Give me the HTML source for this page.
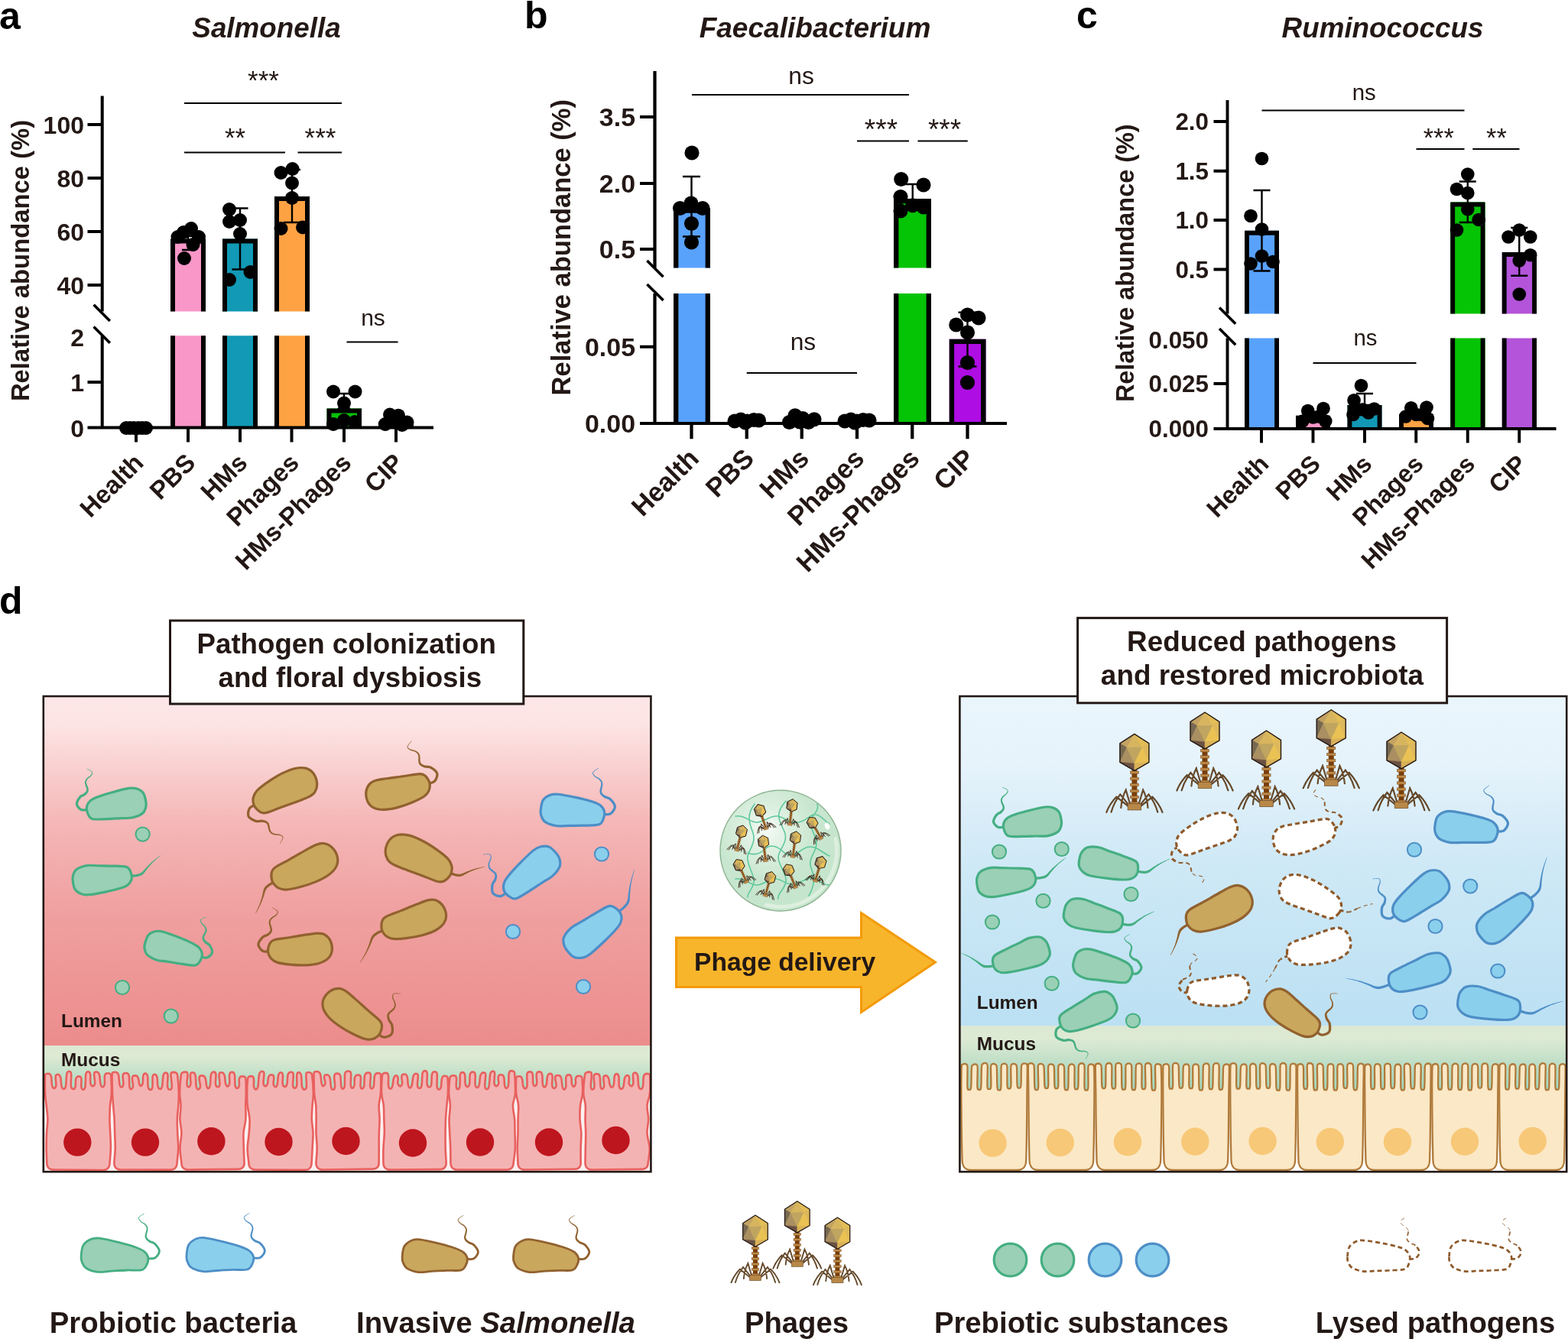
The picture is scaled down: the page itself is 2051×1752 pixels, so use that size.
<!DOCTYPE html>
<html lang="en"><head><meta charset="utf-8"><title>Figure</title>
<style>
html,body{margin:0;padding:0;background:#fff}
svg{display:block}
text{font-family:"Liberation Sans", Arial, sans-serif;fill:#231815}
</style></head>
<body>
<svg width="2051" height="1752" viewBox="0 0 2051 1752">
<rect width="2051" height="1752" fill="#fff"/>
<rect x="223" y="312.5" width="46" height="95" fill="#F897C8"/>
<path d="M226 407.5V315.5H266V407.5" fill="none" stroke="#000" stroke-width="6"/>
<rect x="223" y="439.25" width="46" height="120.25" fill="#F897C8"/>
<path d="M226 439.25V559.5M266 439.25V559.5" fill="none" stroke="#000" stroke-width="6"/>
<rect x="291" y="312.5" width="46" height="95" fill="#1199B5"/>
<path d="M294 407.5V315.5H334V407.5" fill="none" stroke="#000" stroke-width="6"/>
<rect x="291" y="439.25" width="46" height="120.25" fill="#1199B5"/>
<path d="M294 439.25V559.5M334 439.25V559.5" fill="none" stroke="#000" stroke-width="6"/>
<rect x="359" y="257" width="46" height="150.5" fill="#FEA243"/>
<path d="M362 407.5V260H402V407.5" fill="none" stroke="#000" stroke-width="6"/>
<rect x="359" y="439.25" width="46" height="120.25" fill="#FEA243"/>
<path d="M362 439.25V559.5M402 439.25V559.5" fill="none" stroke="#000" stroke-width="6"/>
<rect x="427.5" y="534.5" width="45.5" height="25" fill="#05C305"/>
<path d="M430.5 559.5V537.5H470V559.5" fill="none" stroke="#000" stroke-width="6"/>
<rect x="495.5" y="552" width="45.5" height="7.5" fill="#AE0DE4"/>
<path d="M498.5 559.5V555H538V559.5" fill="none" stroke="#000" stroke-width="6"/>
<path d="M133.7 125.5V407.5M133.7 439.25V561.5M114.5 559.5H567M114.5 163H133.7M114.5 233H133.7M114.5 303H133.7M114.5 373H133.7M114.5 500H133.7M178 559.5V578.5M246 559.5V578.5M314 559.5V578.5M381.5 559.5V578.5M450 559.5V578.5M518 559.5V578.5" fill="none" stroke="#000" stroke-width="4"/>
<path d="M122.6 398.8L143.8 420M122.6 427.5L143.8 448.7" fill="none" stroke="#000" stroke-width="3.6"/>
<path d="M246 309V327M238 309H254M238 327H254M314 272.5V352.5M303.5 272.5H324.5M303.5 352.5H324.5M382 222V291M371 222H393M371 291H393M450 515V534M442 515H458M442 534H458" fill="none" stroke="#000" stroke-width="2.4"/>
<g fill="#000"><circle cx="241" cy="338" r="9"/><circle cx="232.5" cy="310" r="9"/><circle cx="240" cy="304" r="9"/><circle cx="250" cy="299" r="9"/><circle cx="260" cy="310" r="9"/><circle cx="252.5" cy="320" r="9"/><circle cx="300" cy="274" r="9"/><circle cx="300" cy="290" r="9"/><circle cx="314" cy="288" r="9"/><circle cx="314" cy="306" r="9"/><circle cx="327.5" cy="356" r="9"/><circle cx="300" cy="366" r="9"/><circle cx="367.5" cy="226" r="9"/><circle cx="382.5" cy="221" r="9"/><circle cx="382" cy="239.5" r="9"/><circle cx="382" cy="259" r="9"/><circle cx="367.5" cy="299" r="9"/><circle cx="396" cy="297.5" r="9"/><circle cx="436" cy="512.5" r="9"/><circle cx="464.5" cy="512.5" r="9"/><circle cx="450" cy="527.5" r="9"/><circle cx="436" cy="555" r="9"/><circle cx="450" cy="550" r="9"/><circle cx="464" cy="552" r="9"/><circle cx="510" cy="542.5" r="9"/><circle cx="521" cy="543.7" r="9"/><circle cx="503.75" cy="555" r="9"/><circle cx="517.5" cy="552.5" r="9"/><circle cx="526" cy="556" r="9"/><circle cx="532.5" cy="552.5" r="9"/><circle cx="165" cy="560" r="9"/><circle cx="170" cy="560" r="9"/><circle cx="175" cy="560" r="9"/><circle cx="181" cy="560" r="9"/><circle cx="186" cy="560" r="9"/><circle cx="191" cy="560" r="9"/></g>
<path d="M241 135H447M241 199.5H373M389.5 199.5H447M453.5 447.5H520.5" fill="none" stroke="#000" stroke-width="2.2"/>
<text x="344.5" y="116.75" font-size="35" text-anchor="middle">***</text>
<text x="307.5" y="191.75" font-size="35" text-anchor="middle">**</text>
<text x="419" y="191.75" font-size="35" text-anchor="middle">***</text>
<text x="488" y="426.25" font-size="30" text-anchor="middle">ns</text>
<text x="110" y="174.5" font-size="32" font-weight="bold" text-anchor="end">100</text>
<text x="110" y="244.5" font-size="32" font-weight="bold" text-anchor="end">80</text>
<text x="110" y="314.5" font-size="32" font-weight="bold" text-anchor="end">60</text>
<text x="110" y="384.5" font-size="32" font-weight="bold" text-anchor="end">40</text>
<text x="110" y="452.5" font-size="32" font-weight="bold" text-anchor="end">2</text>
<text x="110" y="511.5" font-size="32" font-weight="bold" text-anchor="end">1</text>
<text x="110" y="571.5" font-size="32" font-weight="bold" text-anchor="end">0</text>
<text x="37.5" y="341" font-size="32.8" font-weight="bold" text-anchor="middle" transform="rotate(-90 37.5 341)">Relative abundance (%)</text>
<text x="189.5" y="607.5" font-size="33" font-weight="bold" text-anchor="end" transform="rotate(-45 189.5 607.5)">Health</text>
<text x="257.5" y="607.5" font-size="33" font-weight="bold" text-anchor="end" transform="rotate(-45 257.5 607.5)">PBS</text>
<text x="325.5" y="607.5" font-size="33" font-weight="bold" text-anchor="end" transform="rotate(-45 325.5 607.5)">HMs</text>
<text x="393" y="607.5" font-size="33" font-weight="bold" text-anchor="end" transform="rotate(-45 393 607.5)">Phages</text>
<text x="461.5" y="607.5" font-size="33" font-weight="bold" text-anchor="end" transform="rotate(-45 461.5 607.5)">HMs-Phages</text>
<text x="529.5" y="607.5" font-size="33" font-weight="bold" text-anchor="end" transform="rotate(-45 529.5 607.5)">CIP</text>
<text x="348.5" y="48.5" font-size="36.8" font-weight="bold" text-anchor="middle" font-style="italic">Salmonella</text>
<text x="-1" y="37.5" font-size="50" font-weight="bold" style="fill:#000">a</text>
<rect x="881" y="272.5" width="48" height="78" fill="#59A2FC"/>
<path d="M884.18 350.5V275.68H925.82V350.5" fill="none" stroke="#000" stroke-width="6.36"/>
<rect x="881" y="384" width="48" height="170" fill="#59A2FC"/>
<path d="M884.18 384V554M925.82 384V554" fill="none" stroke="#000" stroke-width="6.36"/>
<rect x="1169" y="260" width="49" height="90.5" fill="#05C305"/>
<path d="M1172.18 350.5V263.18H1214.82V350.5" fill="none" stroke="#000" stroke-width="6.36"/>
<rect x="1169" y="384" width="49" height="170" fill="#05C305"/>
<path d="M1172.18 384V554M1214.82 384V554" fill="none" stroke="#000" stroke-width="6.36"/>
<rect x="1241.75" y="443.75" width="47.75" height="110.25" fill="#AE0DE4"/>
<path d="M1244.93 554V446.93H1286.32V554" fill="none" stroke="#000" stroke-width="6.36"/>
<path d="M856.5 93V350.5M856.5 384V556.12M837 554H1317M837 153H856.5M837 240H856.5M837 326H856.5M837 453.75H856.5M904.5 554V574.14M976.75 554V574.14M1048.75 554V574.14M1121 554V574.14M1193.25 554V574.14M1265.5 554V574.14" fill="none" stroke="#000" stroke-width="4.24"/>
<path d="M846.4 341.1L867.6 362.3M846.4 371.9L867.6 393.1" fill="none" stroke="#000" stroke-width="3.6"/>
<path d="M904.5 231V309.5M893 231H916M893 309.5H916M1193.75 241V262M1184.75 241H1202.75M1184.75 262H1202.75M1265.5 408.75V479.5M1253.5 408.75H1277.5M1253.5 479.5H1277.5" fill="none" stroke="#000" stroke-width="2.4"/>
<g fill="#000"><circle cx="905" cy="200" r="9.54"/><circle cx="889.5" cy="272.5" r="9.54"/><circle cx="904" cy="266" r="9.54"/><circle cx="919" cy="272.5" r="9.54"/><circle cx="904.5" cy="292.5" r="9.54"/><circle cx="904.5" cy="317" r="9.54"/><circle cx="961" cy="551" r="9.54"/><circle cx="969" cy="549" r="9.54"/><circle cx="977.5" cy="551" r="9.54"/><circle cx="986" cy="549.5" r="9.54"/><circle cx="992.5" cy="550" r="9.54"/><circle cx="975" cy="553" r="9.54"/><circle cx="1032.5" cy="552.5" r="9.54"/><circle cx="1040" cy="543.75" r="9.54"/><circle cx="1050" cy="547.5" r="9.54"/><circle cx="1057.5" cy="552.5" r="9.54"/><circle cx="1065" cy="548.75" r="9.54"/><circle cx="1046" cy="552" r="9.54"/><circle cx="1105" cy="551" r="9.54"/><circle cx="1113" cy="549" r="9.54"/><circle cx="1121" cy="551" r="9.54"/><circle cx="1129" cy="549.5" r="9.54"/><circle cx="1137" cy="550" r="9.54"/><circle cx="1118" cy="553" r="9.54"/><circle cx="1178.75" cy="234.5" r="9.54"/><circle cx="1208" cy="242" r="9.54"/><circle cx="1178" cy="257.5" r="9.54"/><circle cx="1178" cy="276" r="9.54"/><circle cx="1193.75" cy="268.75" r="9.54"/><circle cx="1208" cy="271" r="9.54"/><circle cx="1265.5" cy="412" r="9.54"/><circle cx="1280" cy="416" r="9.54"/><circle cx="1250.75" cy="425" r="9.54"/><circle cx="1265.5" cy="435" r="9.54"/><circle cx="1265.5" cy="474.5" r="9.54"/><circle cx="1265.5" cy="500.5" r="9.54"/></g>
<path d="M905 124H1189M1121 184.5H1189M1200.5 184.5H1265.75M976.75 488H1121" fill="none" stroke="#000" stroke-width="2.2"/>
<text x="1048" y="110" font-size="31.8" text-anchor="middle">ns</text>
<text x="1152.5" y="181.58" font-size="37.1" text-anchor="middle">***</text>
<text x="1235.53" y="181.58" font-size="37.1" text-anchor="middle">***</text>
<text x="1050.47" y="457.5" font-size="31.8" text-anchor="middle">ns</text>
<text x="831" y="165.19" font-size="33.92" font-weight="bold" text-anchor="end">3.5</text>
<text x="831" y="252.19" font-size="33.92" font-weight="bold" text-anchor="end">2.0</text>
<text x="831" y="338.19" font-size="33.92" font-weight="bold" text-anchor="end">0.5</text>
<text x="831" y="465.94" font-size="33.92" font-weight="bold" text-anchor="end">0.05</text>
<text x="831" y="566.19" font-size="33.92" font-weight="bold" text-anchor="end">0.00</text>
<text x="746" y="323.75" font-size="34.5" font-weight="bold" text-anchor="middle" transform="rotate(-90 746 323.75)">Relative abundance (%)</text>
<text x="916" y="602" font-size="34.98" font-weight="bold" text-anchor="end" transform="rotate(-45 916 602)">Health</text>
<text x="988.25" y="602" font-size="34.98" font-weight="bold" text-anchor="end" transform="rotate(-45 988.25 602)">PBS</text>
<text x="1060.25" y="602" font-size="34.98" font-weight="bold" text-anchor="end" transform="rotate(-45 1060.25 602)">HMs</text>
<text x="1132.5" y="602" font-size="34.98" font-weight="bold" text-anchor="end" transform="rotate(-45 1132.5 602)">Phages</text>
<text x="1204.75" y="602" font-size="34.98" font-weight="bold" text-anchor="end" transform="rotate(-45 1204.75 602)">HMs-Phages</text>
<text x="1277" y="602" font-size="34.98" font-weight="bold" text-anchor="end" transform="rotate(-45 1277 602)">CIP</text>
<text x="1066" y="48.5" font-size="37.05" font-weight="bold" text-anchor="middle" font-style="italic">Faecalibacterium</text>
<text x="686" y="36.5" font-size="50" font-weight="bold" style="fill:#000">b</text>
<rect x="1628" y="301.75" width="45" height="108.75" fill="#59A2FC"/>
<path d="M1630.94 410.5V304.69H1670.06V410.5" fill="none" stroke="#000" stroke-width="5.88"/>
<rect x="1628" y="442.5" width="45" height="118.5" fill="#59A2FC"/>
<path d="M1630.94 442.5V561M1670.06 442.5V561" fill="none" stroke="#000" stroke-width="5.88"/>
<rect x="1695" y="543.75" width="45" height="17.25" fill="#F897C8"/>
<path d="M1697.94 561V546.69H1737.06V561" fill="none" stroke="#000" stroke-width="5.88"/>
<rect x="1762.5" y="530" width="45" height="31" fill="#1199B5"/>
<path d="M1765.44 561V532.94H1804.56V561" fill="none" stroke="#000" stroke-width="5.88"/>
<rect x="1830" y="542" width="45" height="19" fill="#FEA243"/>
<path d="M1832.94 561V544.94H1872.06V561" fill="none" stroke="#000" stroke-width="5.88"/>
<rect x="1897.25" y="264.5" width="45.25" height="146" fill="#05C305"/>
<path d="M1900.19 410.5V267.44H1939.56V410.5" fill="none" stroke="#000" stroke-width="5.88"/>
<rect x="1897.25" y="442.5" width="45.25" height="118.5" fill="#05C305"/>
<path d="M1900.19 442.5V561M1939.56 442.5V561" fill="none" stroke="#000" stroke-width="5.88"/>
<rect x="1964.75" y="330" width="45.25" height="80.5" fill="#B354DA"/>
<path d="M1967.69 410.5V332.94H2007.06V410.5" fill="none" stroke="#000" stroke-width="5.88"/>
<rect x="1964.75" y="442.5" width="45.25" height="118.5" fill="#B354DA"/>
<path d="M1967.69 442.5V561M2007.06 442.5V561" fill="none" stroke="#000" stroke-width="5.88"/>
<path d="M1605.5 131V410.5M1605.5 442.5V562.96M1587.5 561H2035.5M1587.5 159H1605.5M1587.5 223.75H1605.5M1587.5 288H1605.5M1587.5 352.5H1605.5M1587.5 502H1605.5M1650 561V579.62M1717.5 561V579.62M1785 561V579.62M1852.25 561V579.62M1919.75 561V579.62M1987.25 561V579.62" fill="none" stroke="#000" stroke-width="3.92"/>
<path d="M1595 402.6L1616.2 423.8M1595 430L1616.2 451.2" fill="none" stroke="#000" stroke-width="3.6"/>
<path d="M1650.5 249V354.5M1639.5 249H1661.5M1639.5 354.5H1661.5M1785 515V530M1774 515H1796M1774 530H1796M1919.75 237.5V291M1908.75 237.5H1930.75M1908.75 291H1930.75M1987.25 298V360.75M1976.25 298H1998.25M1976.25 360.75H1998.25" fill="none" stroke="#000" stroke-width="2.4"/>
<g fill="#000"><circle cx="1650.5" cy="207.5" r="8.82"/><circle cx="1636" cy="282.5" r="8.82"/><circle cx="1650.5" cy="300" r="8.82"/><circle cx="1650.5" cy="335" r="8.82"/><circle cx="1636" cy="345" r="8.82"/><circle cx="1665" cy="342.5" r="8.82"/><circle cx="1710.75" cy="537.5" r="8.82"/><circle cx="1731" cy="534.5" r="8.82"/><circle cx="1703.75" cy="551" r="8.82"/><circle cx="1717.5" cy="546" r="8.82"/><circle cx="1725" cy="545" r="8.82"/><circle cx="1733.75" cy="551" r="8.82"/><circle cx="1780.5" cy="504.5" r="8.82"/><circle cx="1771" cy="523.75" r="8.82"/><circle cx="1797.5" cy="535" r="8.82"/><circle cx="1770" cy="542.5" r="8.82"/><circle cx="1782.5" cy="536" r="8.82"/><circle cx="1790" cy="540" r="8.82"/><circle cx="1845.75" cy="533.75" r="8.82"/><circle cx="1866" cy="533" r="8.82"/><circle cx="1838.75" cy="545" r="8.82"/><circle cx="1852.5" cy="542.5" r="8.82"/><circle cx="1860" cy="542.5" r="8.82"/><circle cx="1867.5" cy="547.5" r="8.82"/><circle cx="1919.75" cy="228" r="8.82"/><circle cx="1905.5" cy="247.5" r="8.82"/><circle cx="1919.75" cy="252.5" r="8.82"/><circle cx="1919.75" cy="273.75" r="8.82"/><circle cx="1934.25" cy="287.5" r="8.82"/><circle cx="1905.5" cy="301" r="8.82"/><circle cx="1987.25" cy="301" r="8.82"/><circle cx="1973" cy="310" r="8.82"/><circle cx="2001.75" cy="310" r="8.82"/><circle cx="2001.75" cy="333.75" r="8.82"/><circle cx="1987.25" cy="341" r="8.82"/><circle cx="1987.25" cy="385" r="8.82"/></g>
<path d="M1650.5 144.5H1915.5M1852.5 195H1915.5M1926.25 195H1987.5M1717.5 475H1852.5" fill="none" stroke="#000" stroke-width="2.2"/>
<text x="1784.25" y="131" font-size="29.4" text-anchor="middle">ns</text>
<text x="1881.75" y="192.14" font-size="34.3" text-anchor="middle">***</text>
<text x="1957.47" y="192.14" font-size="34.3" text-anchor="middle">**</text>
<text x="1786" y="451.75" font-size="29.4" text-anchor="middle">ns</text>
<text x="1581" y="170.27" font-size="31.36" font-weight="bold" text-anchor="end">2.0</text>
<text x="1581" y="235.02" font-size="31.36" font-weight="bold" text-anchor="end">1.5</text>
<text x="1581" y="299.27" font-size="31.36" font-weight="bold" text-anchor="end">1.0</text>
<text x="1581" y="363.77" font-size="31.36" font-weight="bold" text-anchor="end">0.5</text>
<text x="1581" y="455.77" font-size="31.36" font-weight="bold" text-anchor="end">0.050</text>
<text x="1581" y="513.27" font-size="31.36" font-weight="bold" text-anchor="end">0.025</text>
<text x="1581" y="572.27" font-size="31.36" font-weight="bold" text-anchor="end">0.000</text>
<text x="1482.5" y="344.25" font-size="32.4" font-weight="bold" text-anchor="middle" transform="rotate(-90 1482.5 344.25)">Relative abundance (%)</text>
<text x="1661.5" y="609" font-size="32.34" font-weight="bold" text-anchor="end" transform="rotate(-45 1661.5 609)">Health</text>
<text x="1729" y="609" font-size="32.34" font-weight="bold" text-anchor="end" transform="rotate(-45 1729 609)">PBS</text>
<text x="1796.5" y="609" font-size="32.34" font-weight="bold" text-anchor="end" transform="rotate(-45 1796.5 609)">HMs</text>
<text x="1863.75" y="609" font-size="32.34" font-weight="bold" text-anchor="end" transform="rotate(-45 1863.75 609)">Phages</text>
<text x="1931.25" y="609" font-size="32.34" font-weight="bold" text-anchor="end" transform="rotate(-45 1931.25 609)">HMs-Phages</text>
<text x="1998.75" y="609" font-size="32.34" font-weight="bold" text-anchor="end" transform="rotate(-45 1998.75 609)">CIP</text>
<text x="1808.5" y="48.5" font-size="36.8" font-weight="bold" text-anchor="middle" font-style="italic">Ruminococcus</text>
<text x="1408" y="37.3" font-size="50" font-weight="bold" style="fill:#000">c</text>
<defs>
<linearGradient id="gl" x1="0" y1="0" x2="0" y2="1"><stop offset="0" stop-color="#FDE6E6"/><stop offset="0.08" stop-color="#FDE4E4"/><stop offset="0.35" stop-color="#F5B8B8"/><stop offset="0.6" stop-color="#F0A1A1"/><stop offset="1" stop-color="#EC8C8C"/></linearGradient>
<linearGradient id="gr" x1="0" y1="0" x2="0" y2="1"><stop offset="0" stop-color="#EAF5FC"/><stop offset="0.2" stop-color="#E6F3FB"/><stop offset="0.5" stop-color="#CFE9F6"/><stop offset="1" stop-color="#BBE0F3"/></linearGradient>
<linearGradient id="gm" x1="0" y1="0" x2="0" y2="1"><stop offset="0" stop-color="#DCE8D2"/><stop offset="0.2" stop-color="#DDEAD4"/><stop offset="0.6" stop-color="#BCDDC6"/><stop offset="1" stop-color="#9ED6BE"/></linearGradient>
<radialGradient id="gs" cx="0.38" cy="0.33" r="0.62"><stop offset="0" stop-color="#F6FBF6"/><stop offset="0.3" stop-color="#DDF0E0"/><stop offset="0.65" stop-color="#C9E7D0"/><stop offset="1" stop-color="#C6E5CD"/></radialGradient>
<g id="ph"><path d="M6 90.8L11.2 73.2Q16.6 83.65 17.6 96.5M7.9 92.2L18.6 79Q26.7 89.4 30.4 102.2M8.8 94L23.4 82.2Q32.2 91.1 36.6 102.4M-6 90.8L-11.2 73.2Q-16.6 83.65 -17.6 96.5M-7.9 92.2L-18.6 79Q-26.7 89.4 -30.4 102.2M-8.8 94L-23.4 82.2Q-32.2 91.1 -36.6 102.4" fill="none" stroke="#4E3319" stroke-width="2.1" stroke-linejoin="miter" stroke-linecap="round"/><path d="M6 90.8L11.2 73.2Q16.6 83.65 17.6 96.5M7.9 92.2L18.6 79Q26.7 89.4 30.4 102.2M8.8 94L23.4 82.2Q32.2 91.1 36.6 102.4M-6 90.8L-11.2 73.2Q-16.6 83.65 -17.6 96.5M-7.9 92.2L-18.6 79Q-26.7 89.4 -30.4 102.2M-8.8 94L-23.4 82.2Q-32.2 91.1 -36.6 102.4" fill="none" stroke="#9A7648" stroke-width="0.55" stroke-linejoin="miter"/><rect x="-3.5" y="47" width="7" height="45" fill="#7A3E08"/><rect x="-5.6" y="48.6" width="11.2" height="3.3" fill="#C08A45" stroke="#6B4A2A" stroke-width="0.5"/><rect x="-5.6" y="56.7" width="11.2" height="3.3" fill="#C08A45" stroke="#6B4A2A" stroke-width="0.5"/><rect x="-5.6" y="64.8" width="11.2" height="3.3" fill="#C08A45" stroke="#6B4A2A" stroke-width="0.5"/><rect x="-5.6" y="72.9" width="11.2" height="3.3" fill="#C08A45" stroke="#6B4A2A" stroke-width="0.5"/><rect x="-5.6" y="81" width="11.2" height="3.3" fill="#C08A45" stroke="#6B4A2A" stroke-width="0.5"/><rect x="-5.6" y="89.1" width="11.2" height="3.3" fill="#C08A45" stroke="#6B4A2A" stroke-width="0.5"/><rect x="-8.8" y="91.3" width="17.6" height="8.2" fill="#B88848" stroke="#6B4A2A" stroke-width="0.7"/><path d="M0 0L19 12.3L19 36.9L0 47.9L-19 36.9L-19 12.3Z" fill="#C4A660"/><path d="M0 0L-19 12.3L-10.1 17.6Z" fill="#C2A263" stroke="#C2A263" stroke-width="0.5" stroke-linejoin="round"/><path d="M0 0L-10.1 17.6L10.1 17.6Z" fill="#D7B55F" stroke="#D7B55F" stroke-width="0.5" stroke-linejoin="round"/><path d="M0 0L10.1 17.6L19 12.3Z" fill="#E2BD58" stroke="#E2BD58" stroke-width="0.5" stroke-linejoin="round"/><path d="M-19 12.3L-19 36.9L-10.1 17.6Z" fill="#776851" stroke="#776851" stroke-width="0.5" stroke-linejoin="round"/><path d="M-19 36.9L-10.1 17.6L0 38.7Z" fill="#A98F61" stroke="#A98F61" stroke-width="0.5" stroke-linejoin="round"/><path d="M-10.1 17.6L10.1 17.6L0 38.7Z" fill="#BFA55F" stroke="#BFA55F" stroke-width="0.5" stroke-linejoin="round"/><path d="M19 12.3L19 36.9L10.1 17.6Z" fill="#DDB85C" stroke="#DDB85C" stroke-width="0.5" stroke-linejoin="round"/><path d="M19 36.9L10.1 17.6L0 38.7Z" fill="#EAC254" stroke="#EAC254" stroke-width="0.5" stroke-linejoin="round"/><path d="M-19 36.9L0 38.7L0 47.9Z" fill="#6A5142" stroke="#6A5142" stroke-width="0.5" stroke-linejoin="round"/><path d="M19 36.9L0 38.7L0 47.9Z" fill="#D9B158" stroke="#D9B158" stroke-width="0.5" stroke-linejoin="round"/><path d="M0 0L19 12.3L19 36.9L0 47.9L-19 36.9L-19 12.3Z" fill="none" stroke="#231815" stroke-width="1.4" stroke-linejoin="round"/></g>
<g id="phs"><path d="M6 90.8L11.2 73.2Q16.6 83.65 17.6 96.5M7.9 92.2L18.6 79Q26.7 89.4 30.4 102.2M8.8 94L23.4 82.2Q32.2 91.1 36.6 102.4M-6 90.8L-11.2 73.2Q-16.6 83.65 -17.6 96.5M-7.9 92.2L-18.6 79Q-26.7 89.4 -30.4 102.2M-8.8 94L-23.4 82.2Q-32.2 91.1 -36.6 102.4" fill="none" stroke="#3E2C1C" stroke-width="2.6" stroke-linejoin="miter" stroke-linecap="round"/><rect x="-3.5" y="47" width="7" height="45" fill="#7A3E08"/><rect x="-5.6" y="48.6" width="11.2" height="3.3" fill="#C08A45" stroke="#6B4A2A" stroke-width="0.5"/><rect x="-5.6" y="56.7" width="11.2" height="3.3" fill="#C08A45" stroke="#6B4A2A" stroke-width="0.5"/><rect x="-5.6" y="64.8" width="11.2" height="3.3" fill="#C08A45" stroke="#6B4A2A" stroke-width="0.5"/><rect x="-5.6" y="72.9" width="11.2" height="3.3" fill="#C08A45" stroke="#6B4A2A" stroke-width="0.5"/><rect x="-5.6" y="81" width="11.2" height="3.3" fill="#C08A45" stroke="#6B4A2A" stroke-width="0.5"/><rect x="-5.6" y="89.1" width="11.2" height="3.3" fill="#C08A45" stroke="#6B4A2A" stroke-width="0.5"/><rect x="-8.8" y="91.3" width="17.6" height="8.2" fill="#B88848" stroke="#6B4A2A" stroke-width="0.7"/><path d="M0 0L19 12.3L19 36.9L0 47.9L-19 36.9L-19 12.3Z" fill="#C4A660"/><path d="M0 0L-19 12.3L-10.1 17.6Z" fill="#C2A263" stroke="#C2A263" stroke-width="0.5" stroke-linejoin="round"/><path d="M0 0L-10.1 17.6L10.1 17.6Z" fill="#D7B55F" stroke="#D7B55F" stroke-width="0.5" stroke-linejoin="round"/><path d="M0 0L10.1 17.6L19 12.3Z" fill="#E2BD58" stroke="#E2BD58" stroke-width="0.5" stroke-linejoin="round"/><path d="M-19 12.3L-19 36.9L-10.1 17.6Z" fill="#776851" stroke="#776851" stroke-width="0.5" stroke-linejoin="round"/><path d="M-19 36.9L-10.1 17.6L0 38.7Z" fill="#A98F61" stroke="#A98F61" stroke-width="0.5" stroke-linejoin="round"/><path d="M-10.1 17.6L10.1 17.6L0 38.7Z" fill="#BFA55F" stroke="#BFA55F" stroke-width="0.5" stroke-linejoin="round"/><path d="M19 12.3L19 36.9L10.1 17.6Z" fill="#DDB85C" stroke="#DDB85C" stroke-width="0.5" stroke-linejoin="round"/><path d="M19 36.9L10.1 17.6L0 38.7Z" fill="#EAC254" stroke="#EAC254" stroke-width="0.5" stroke-linejoin="round"/><path d="M-19 36.9L0 38.7L0 47.9Z" fill="#6A5142" stroke="#6A5142" stroke-width="0.5" stroke-linejoin="round"/><path d="M19 36.9L0 38.7L0 47.9Z" fill="#D9B158" stroke="#D9B158" stroke-width="0.5" stroke-linejoin="round"/><path d="M0 0L19 12.3L19 36.9L0 47.9L-19 36.9L-19 12.3Z" fill="none" stroke="#231815" stroke-width="2.6" stroke-linejoin="round"/></g>
</defs>
<rect x="57" y="911" width="794.5" height="457.5" fill="url(#gl)"/>
<rect x="57" y="1368" width="794.5" height="70" fill="url(#gm)"/>
<rect x="57" y="1437.5" width="794.5" height="96" fill="#FCEFEF"/>
<path d="M61.3 1521.5C61.19 1518.33 60.66 1509 60.62 1502.5C60.57 1496 60.73 1488.83 61.03 1482.5C61.33 1476.17 62.47 1470.5 62.41 1464.5C62.35 1458.5 61.24 1452.17 60.67 1446.5C60.1 1440.83 59.3 1436.69 59 1430.5C58.7 1424.31 58.75 1413.49 58.84 1409.35C58.94 1405.21 58.86 1406.44 59.56 1405.68C60.26 1404.93 62.06 1404.81 63.03 1404.81C64.01 1404.81 64.72 1404.93 65.41 1405.68C66.09 1406.44 66.69 1406.93 67.13 1409.35C67.58 1411.77 67.5 1417.79 68.09 1420.22C68.68 1422.65 69.78 1423.94 70.65 1423.94C71.52 1423.94 72.97 1422.5 73.31 1420.22C73.65 1417.94 72.69 1412.54 72.68 1410.27C72.68 1408 72.81 1407.35 73.26 1406.6C73.71 1405.84 74.67 1405.72 75.38 1405.72C76.08 1405.72 76.83 1405.84 77.49 1406.6C78.16 1407.35 78.86 1407.82 79.37 1410.27C79.87 1412.71 79.88 1418.8 80.54 1421.25C81.21 1423.7 82.44 1424.96 83.35 1424.96C84.26 1424.96 85.38 1424.37 86.01 1421.25C86.64 1418.12 86.7 1409.34 87.15 1406.22C87.59 1403.11 88.13 1403.31 88.68 1402.55C89.24 1401.8 89.88 1401.68 90.48 1401.68C91.08 1401.68 91.83 1401.8 92.28 1402.55C92.73 1403.31 93.08 1403.09 93.19 1406.22C93.3 1409.35 92.45 1418.19 92.93 1421.33C93.4 1424.47 95.09 1425.05 96.06 1425.05C97.02 1425.05 98.22 1423.36 98.72 1421.33C99.22 1419.31 98.76 1414.92 99.06 1412.91C99.36 1410.89 99.87 1410 100.53 1409.24C101.19 1408.48 102.19 1408.37 103.03 1408.37C103.86 1408.37 104.95 1408.48 105.53 1409.24C106.11 1410 106.37 1410.76 106.5 1412.91C106.64 1415.05 105.96 1419.95 106.33 1422.11C106.71 1424.26 107.92 1425.82 108.76 1425.82C109.61 1425.82 110.86 1425.29 111.42 1422.11C111.99 1418.92 111.81 1409.9 112.14 1406.72C112.47 1403.55 112.9 1403.81 113.41 1403.05C113.93 1402.3 114.62 1402.18 115.23 1402.18C115.84 1402.18 116.55 1402.3 117.05 1403.05C117.55 1403.81 118.01 1404.34 118.23 1406.72C118.45 1409.11 117.82 1414.97 118.36 1417.36C118.9 1419.75 120.51 1421.08 121.47 1421.08C122.43 1421.08 123.85 1419.71 124.13 1417.36C124.41 1415.01 123.24 1409.31 123.16 1406.97C123.07 1404.63 123.16 1404.06 123.63 1403.3C124.09 1402.54 125.17 1402.43 125.94 1402.43C126.71 1402.43 127.54 1402.54 128.26 1403.3C128.97 1404.06 129.68 1404.44 130.23 1406.97C130.78 1409.5 130.9 1415.95 131.56 1418.49C132.22 1421.03 133.3 1422.21 134.18 1422.21C135.05 1422.21 136.39 1420.72 136.83 1418.49C137.28 1416.27 136.61 1411.07 136.82 1408.85C137.03 1406.63 137.44 1405.93 138.07 1405.18C138.71 1404.42 139.6 1404.3 140.6 1404.3C141.6 1404.3 143.3 1404.42 144.08 1405.18C144.85 1405.93 144.98 1404.63 145.27 1408.85C145.56 1413.07 146.03 1424.22 145.82 1430.5C145.61 1436.78 144.43 1440.83 144.02 1446.5C143.62 1452.17 143.38 1458.5 143.4 1464.5C143.43 1470.5 143.94 1476.17 144.18 1482.5C144.43 1488.83 144.98 1496 144.87 1502.5C144.75 1509 143.75 1518.33 143.52 1521.5C143.52 1526.45 140.87 1531 135.02 1531L69.8 1530.5C63.95 1530.5 61.3 1526.45 61.3 1521.5Z" fill="#F4B3B3" stroke="#E8605E" stroke-width="2.6" stroke-linejoin="round"/>
<path d="M149.32 1521.5C149.55 1518.33 150.57 1509 150.71 1502.5C150.84 1496 150.3 1488.83 150.12 1482.5C149.93 1476.17 149.94 1470.5 149.61 1464.5C149.28 1458.5 148.55 1452.17 148.12 1446.5C147.69 1440.83 147.28 1437.04 147.02 1430.5C146.77 1423.96 146.57 1411.75 146.59 1407.26C146.61 1402.78 146.46 1404.35 147.13 1403.6C147.79 1402.84 149.57 1402.72 150.6 1402.72C151.62 1402.72 152.52 1402.84 153.28 1403.6C154.05 1404.35 154.67 1404.74 155.19 1407.26C155.72 1409.79 155.84 1416.2 156.42 1418.73C157 1421.26 157.85 1422.45 158.67 1422.45C159.49 1422.45 161 1421.05 161.33 1418.73C161.65 1416.41 160.55 1410.85 160.61 1408.55C160.66 1406.24 160.99 1405.63 161.65 1404.88C162.31 1404.12 163.6 1404 164.57 1404C165.54 1404 166.77 1404.12 167.49 1404.88C168.21 1405.63 168.58 1405.77 168.89 1408.55C169.2 1411.32 168.95 1418.74 169.36 1421.52C169.78 1424.3 170.6 1425.23 171.37 1425.23C172.15 1425.23 173.77 1423.74 174.03 1421.52C174.3 1419.29 173 1414.11 172.95 1411.9C172.89 1409.68 173.1 1408.99 173.71 1408.23C174.31 1407.47 175.61 1407.35 176.57 1407.35C177.52 1407.35 178.67 1407.47 179.43 1408.23C180.18 1408.99 180.68 1410.39 181.11 1411.9C181.54 1413.41 181.52 1415.77 182.01 1417.29C182.51 1418.8 183.29 1421 184.08 1421C184.87 1421 186.23 1419.28 186.74 1417.29C187.25 1415.3 186.89 1411.05 187.13 1409.07C187.37 1407.09 187.7 1406.16 188.19 1405.4C188.67 1404.64 189.41 1404.52 190.02 1404.52C190.64 1404.52 191.32 1404.64 191.86 1405.4C192.4 1406.16 192.94 1406.27 193.25 1409.07C193.55 1411.87 193.1 1419.38 193.69 1422.19C194.28 1424.99 195.83 1425.9 196.79 1425.9C197.74 1425.9 198.99 1424.79 199.44 1422.19C199.9 1419.58 199.36 1412.86 199.51 1410.26C199.66 1407.66 199.91 1407.35 200.36 1406.59C200.82 1405.84 201.6 1405.72 202.22 1405.72C202.84 1405.72 203.5 1405.84 204.07 1406.59C204.65 1407.35 205.27 1407.83 205.66 1410.26C206.05 1412.69 205.78 1418.74 206.42 1421.18C207.05 1423.61 208.54 1424.89 209.49 1424.89C210.45 1424.89 211.51 1423.99 212.15 1421.18C212.79 1418.37 212.88 1410.84 213.35 1408.04C213.82 1405.24 214.4 1405.12 214.99 1404.37C215.57 1403.61 216.25 1403.49 216.88 1403.49C217.51 1403.49 218.32 1403.61 218.77 1404.37C219.22 1405.12 219.51 1405.08 219.58 1408.04C219.64 1410.99 218.72 1419.14 219.16 1422.1C219.6 1425.07 221.25 1425.82 222.2 1425.82C223.15 1425.82 224.63 1425.18 224.86 1422.1C225.08 1419.03 223.68 1410.45 223.55 1407.39C223.42 1404.33 223.53 1404.48 224.07 1403.72C224.61 1402.96 225.76 1402.85 226.79 1402.85C227.82 1402.85 229.36 1402.96 230.26 1403.72C231.16 1404.48 231.59 1402.93 232.19 1407.39C232.79 1411.85 233.66 1423.98 233.84 1430.5C234.02 1437.02 233.61 1440.83 233.27 1446.5C232.93 1452.17 231.99 1458.5 231.82 1464.5C231.65 1470.5 232.01 1476.17 232.24 1482.5C232.48 1488.83 233.34 1496 233.22 1502.5C233.1 1509 231.82 1518.33 231.54 1521.5C231.54 1526.45 228.89 1530.6 223.04 1530.6L157.82 1530.5C151.97 1530.5 149.32 1526.45 149.32 1521.5Z" fill="#F4B3B3" stroke="#E8605E" stroke-width="2.6" stroke-linejoin="round"/>
<path d="M237.34 1521.5C237.03 1518.33 235.43 1509 235.44 1502.5C235.45 1496 237.4 1488.83 237.39 1482.5C237.38 1476.17 235.53 1470.5 235.39 1464.5C235.25 1458.5 236.6 1452.17 236.54 1446.5C236.49 1440.83 235.01 1437.06 235.04 1430.5C235.08 1423.94 236.16 1411.64 236.77 1407.14C237.39 1402.63 237.84 1404.23 238.75 1403.47C239.66 1402.71 241.19 1402.6 242.22 1402.6C243.26 1402.6 244.42 1402.71 244.95 1403.47C245.48 1404.23 245.5 1404.61 245.42 1407.14C245.34 1409.67 244.28 1416.1 244.49 1418.63C244.7 1421.17 245.88 1422.35 246.69 1422.35C247.5 1422.35 248.98 1421.05 249.35 1418.63C249.72 1416.21 248.85 1410.24 248.9 1407.82C248.95 1405.41 249.16 1404.91 249.66 1404.15C250.16 1403.4 251.14 1403.28 251.89 1403.28C252.63 1403.28 253.46 1403.4 254.12 1404.15C254.77 1404.91 255.37 1404.9 255.8 1407.82C256.23 1410.75 256.1 1418.77 256.7 1421.71C257.3 1424.64 258.5 1425.42 259.4 1425.42C260.29 1425.42 261.85 1423.95 262.06 1421.71C262.26 1419.46 260.75 1414.19 260.61 1411.95C260.47 1409.71 260.6 1409.04 261.19 1408.28C261.78 1407.52 263.17 1407.41 264.15 1407.41C265.14 1407.41 266.3 1407.52 267.11 1408.28C267.91 1409.04 268.47 1409.91 268.97 1411.95C269.47 1413.99 269.61 1418.45 270.13 1420.49C270.65 1422.54 271.33 1424.21 272.1 1424.21C272.87 1424.21 274.16 1423.34 274.76 1420.49C275.37 1417.65 275.3 1409.98 275.74 1407.14C276.18 1404.3 276.76 1404.23 277.4 1403.47C278.03 1402.72 278.83 1402.6 279.55 1402.6C280.26 1402.6 281.21 1402.72 281.7 1403.47C282.18 1404.23 282.43 1404.62 282.48 1407.14C282.54 1409.66 281.64 1416.05 282.03 1418.57C282.42 1421.1 283.9 1422.29 284.81 1422.29C285.71 1422.29 287.19 1421 287.47 1418.57C287.75 1416.15 286.56 1410.18 286.49 1407.76C286.43 1405.35 286.56 1404.85 287.06 1404.1C287.57 1403.34 288.7 1403.22 289.52 1403.22C290.34 1403.22 291.26 1403.34 291.98 1404.1C292.7 1404.85 293.35 1405.51 293.86 1407.76C294.37 1410.02 294.43 1415.38 295.04 1417.65C295.65 1419.92 296.66 1421.37 297.51 1421.37C298.37 1421.37 299.75 1419.98 300.17 1417.65C300.59 1415.32 299.89 1409.69 300.03 1407.36C300.18 1405.04 300.5 1404.45 301.05 1403.7C301.61 1402.94 302.59 1402.82 303.35 1402.82C304.12 1402.82 305.03 1402.94 305.66 1403.7C306.28 1404.45 306.76 1404.6 307.08 1407.36C307.41 1410.13 307.07 1417.52 307.59 1420.29C308.11 1423.06 309.34 1424.01 310.22 1424.01C311.1 1424.01 312.46 1422.17 312.88 1420.29C313.3 1418.41 312.52 1414.61 312.72 1412.74C312.92 1410.87 313.37 1409.82 314.06 1409.07C314.76 1408.31 315.82 1408.19 316.87 1408.19C317.92 1408.19 319.58 1408.31 320.34 1409.07C321.1 1409.82 321.19 1409.16 321.45 1412.74C321.7 1416.31 321.9 1424.87 321.87 1430.5C321.84 1436.13 321.35 1440.83 321.27 1446.5C321.19 1452.17 321.84 1458.5 321.38 1464.5C320.92 1470.5 318.93 1476.17 318.51 1482.5C318.09 1488.83 318.68 1496 318.86 1502.5C319.03 1509 319.45 1518.33 319.57 1521.5C319.57 1526.45 316.92 1529.87 311.07 1529.87L245.84 1530.5C239.99 1530.5 237.34 1526.45 237.34 1521.5Z" fill="#F4B3B3" stroke="#E8605E" stroke-width="2.6" stroke-linejoin="round"/>
<path d="M325.37 1521.5C325.09 1518.33 323.62 1509 323.69 1502.5C323.76 1496 325.3 1488.83 325.78 1482.5C326.25 1476.17 326.88 1470.5 326.54 1464.5C326.2 1458.5 324.29 1452.17 323.71 1446.5C323.13 1440.83 323.03 1436.14 323.07 1430.5C323.1 1424.86 323.54 1416.25 323.92 1412.67C324.29 1409.08 324.49 1409.76 325.3 1409C326.11 1408.24 327.82 1408.13 328.77 1408.13C329.73 1408.13 330.48 1408.24 331.04 1409C331.59 1409.76 331.93 1410.55 332.09 1412.67C332.26 1414.78 331.61 1419.57 332.05 1421.69C332.48 1423.82 333.83 1425.41 334.71 1425.41C335.6 1425.41 336.67 1424.88 337.37 1421.69C338.07 1418.51 338.33 1409.49 338.92 1406.32C339.5 1403.15 340.21 1403.41 340.88 1402.65C341.55 1401.9 342.24 1401.78 342.92 1401.78C343.6 1401.78 344.54 1401.9 344.96 1402.65C345.38 1403.41 345.51 1403.85 345.44 1406.32C345.37 1408.79 344.2 1415 344.53 1417.48C344.86 1419.96 346.49 1421.19 347.42 1421.19C348.34 1421.19 349.51 1419.2 350.08 1417.48C350.65 1415.75 350.43 1412.55 350.85 1410.83C351.27 1409.11 351.89 1407.91 352.59 1407.16C353.29 1406.4 354.24 1406.28 355.07 1406.28C355.89 1406.28 357.01 1406.4 357.54 1407.16C358.07 1407.91 358.23 1408.92 358.25 1410.83C358.27 1412.73 357.36 1416.66 357.67 1418.57C357.98 1420.48 359.27 1422.28 360.12 1422.28C360.98 1422.28 362.15 1420.99 362.78 1418.57C363.42 1416.14 363.5 1410.16 363.95 1407.74C364.41 1405.33 364.96 1404.83 365.53 1404.07C366.1 1403.32 366.75 1403.2 367.36 1403.2C367.97 1403.2 368.74 1403.32 369.19 1404.07C369.64 1404.83 369.97 1405.4 370.06 1407.74C370.15 1410.09 369.27 1415.81 369.73 1418.16C370.19 1420.52 371.87 1421.88 372.83 1421.88C373.79 1421.88 374.91 1420.6 375.49 1418.16C376.07 1415.72 375.87 1409.68 376.31 1407.26C376.74 1404.83 377.38 1404.34 378.09 1403.59C378.81 1402.83 379.76 1402.71 380.59 1402.71C381.43 1402.71 382.57 1402.83 383.09 1403.59C383.62 1404.34 383.75 1404.51 383.75 1407.26C383.75 1410 382.81 1417.32 383.1 1420.08C383.4 1422.84 384.69 1423.8 385.54 1423.8C386.38 1423.8 387.75 1422.77 388.2 1420.08C388.64 1417.39 388.06 1410.33 388.19 1407.64C388.31 1404.96 388.52 1404.73 388.94 1403.98C389.36 1403.22 390.12 1403.1 390.71 1403.1C391.29 1403.1 391.9 1403.22 392.47 1403.98C393.05 1404.73 393.73 1404.66 394.17 1407.64C394.6 1410.63 394.4 1418.88 395.08 1421.87C395.76 1424.86 397.27 1425.59 398.24 1425.59C399.21 1425.59 400.55 1424.87 400.9 1421.87C401.25 1418.87 400.36 1410.56 400.35 1407.56C400.35 1404.56 400.46 1404.65 400.87 1403.89C401.29 1403.14 401.93 1403.02 402.84 1403.02C403.74 1403.02 405.41 1403.14 406.31 1403.89C407.21 1404.65 407.64 1403.13 408.23 1407.56C408.83 1412 409.83 1424.01 409.89 1430.5C409.95 1436.99 408.93 1440.83 408.59 1446.5C408.24 1452.17 407.66 1458.5 407.81 1464.5C407.96 1470.5 409.36 1476.17 409.49 1482.5C409.62 1488.83 408.93 1496 408.61 1502.5C408.3 1509 407.76 1518.33 407.59 1521.5C407.59 1526.45 404.94 1530.84 399.09 1530.84L333.87 1530.5C328.02 1530.5 325.37 1526.45 325.37 1521.5Z" fill="#F4B3B3" stroke="#E8605E" stroke-width="2.6" stroke-linejoin="round"/>
<path d="M413.39 1521.5C413.61 1518.33 414.7 1509 414.71 1502.5C414.73 1496 413.67 1488.83 413.49 1482.5C413.3 1476.17 413.66 1470.5 413.62 1464.5C413.57 1458.5 413.63 1452.17 413.21 1446.5C412.79 1440.83 411.54 1437.15 411.09 1430.5C410.64 1423.85 410.55 1411.19 410.53 1406.59C410.51 1402 410.33 1403.68 410.98 1402.93C411.64 1402.17 413.4 1402.05 414.45 1402.05C415.51 1402.05 416.51 1402.17 417.31 1402.93C418.12 1403.68 418.75 1404.17 419.31 1406.59C419.87 1409.02 420.09 1415.03 420.67 1417.46C421.24 1419.89 421.95 1421.18 422.74 1421.18C423.52 1421.18 425.15 1419.19 425.39 1417.46C425.64 1415.73 424.32 1412.52 424.19 1410.8C424.07 1409.08 424.15 1407.89 424.65 1407.13C425.15 1406.37 426.33 1406.26 427.17 1406.26C428.02 1406.26 428.95 1406.37 429.7 1407.13C430.45 1407.89 431.13 1408.31 431.69 1410.8C432.24 1413.29 432.41 1419.6 433.04 1422.1C433.66 1424.6 434.6 1425.81 435.44 1425.81C436.29 1425.81 437.81 1424.87 438.1 1422.1C438.39 1419.32 437.17 1411.93 437.17 1409.16C437.17 1406.39 437.45 1406.25 438.1 1405.49C438.75 1404.73 440.08 1404.62 441.07 1404.62C442.06 1404.62 443.29 1404.73 444.04 1405.49C444.79 1406.25 445.19 1406.58 445.55 1409.16C445.91 1411.73 445.75 1418.35 446.19 1420.94C446.62 1423.52 447.38 1424.65 448.15 1424.65C448.92 1424.65 450.33 1424.03 450.81 1420.94C451.28 1417.85 450.7 1409.19 451 1406.11C451.3 1403.02 451.86 1403.2 452.6 1402.44C453.34 1401.68 454.5 1401.56 455.45 1401.56C456.4 1401.56 457.68 1401.68 458.3 1402.44C458.91 1403.2 459.06 1403.18 459.14 1406.11C459.22 1409.04 458.49 1417.08 458.77 1420.01C459.06 1422.95 460.06 1423.73 460.85 1423.73C461.64 1423.73 463.02 1422.12 463.51 1420.01C464.01 1417.9 463.49 1413.17 463.82 1411.07C464.15 1408.97 464.75 1408.16 465.51 1407.4C466.27 1406.64 467.42 1406.53 468.38 1406.53C469.33 1406.53 470.64 1406.64 471.24 1407.4C471.85 1408.16 471.96 1408.84 472 1411.07C472.04 1413.3 471.23 1418.56 471.49 1420.8C471.75 1423.04 472.77 1424.52 473.56 1424.52C474.35 1424.52 475.67 1423.52 476.22 1420.8C476.76 1418.08 476.42 1410.9 476.84 1408.18C477.25 1405.47 477.92 1405.27 478.7 1404.51C479.48 1403.76 480.58 1403.64 481.51 1403.64C482.45 1403.64 483.76 1403.76 484.33 1404.51C484.89 1405.27 484.94 1405.48 484.91 1408.18C484.88 1410.88 483.92 1418 484.15 1420.71C484.37 1423.42 485.47 1424.43 486.26 1424.43C487.06 1424.43 488.33 1423.34 488.92 1420.71C489.52 1418.08 489.37 1411.29 489.82 1408.67C490.27 1406.05 490.91 1405.76 491.62 1405C492.33 1404.25 493.08 1404.13 494.07 1404.13C495.06 1404.13 496.86 1404.25 497.54 1405C498.23 1405.76 498.12 1404.42 498.18 1408.67C498.24 1412.92 498.34 1424.2 497.91 1430.5C497.49 1436.8 495.86 1440.83 495.64 1446.5C495.41 1452.17 496.53 1458.5 496.56 1464.5C496.59 1470.5 495.94 1476.17 495.8 1482.5C495.65 1488.83 495.73 1496 495.7 1502.5C495.67 1509 495.63 1518.33 495.61 1521.5C495.61 1526.45 492.96 1529.62 487.11 1529.62L421.89 1530.5C416.04 1530.5 413.39 1526.45 413.39 1521.5Z" fill="#F4B3B3" stroke="#E8605E" stroke-width="2.6" stroke-linejoin="round"/>
<path d="M501.41 1521.5C501.42 1518.33 501.21 1509 501.44 1502.5C501.67 1496 502.63 1488.83 502.79 1482.5C502.94 1476.17 502.52 1470.5 502.35 1464.5C502.19 1458.5 502.32 1452.17 501.78 1446.5C501.24 1440.83 499.42 1436.84 499.11 1430.5C498.8 1424.16 499.55 1412.74 499.91 1408.46C500.26 1404.17 500.45 1405.54 501.26 1404.79C502.06 1404.03 503.77 1403.91 504.73 1403.91C505.69 1403.91 506.45 1404.03 507.01 1404.79C507.58 1405.54 507.92 1405.76 508.11 1408.46C508.29 1411.15 507.67 1418.26 508.11 1420.96C508.56 1423.66 509.87 1424.68 510.76 1424.68C511.64 1424.68 512.76 1423.1 513.42 1420.96C514.07 1418.82 514.22 1413.96 514.7 1411.83C515.19 1409.7 515.76 1408.92 516.33 1408.16C516.9 1407.4 517.52 1407.29 518.11 1407.29C518.71 1407.29 519.46 1407.4 519.9 1408.16C520.33 1408.92 520.65 1410.24 520.72 1411.83C520.79 1413.42 519.86 1416.1 520.32 1417.7C520.77 1419.3 522.5 1421.42 523.46 1421.42C524.43 1421.42 525.81 1419.6 526.12 1417.7C526.44 1415.81 525.34 1411.94 525.35 1410.05C525.35 1408.17 525.57 1407.14 526.14 1406.38C526.7 1405.63 527.87 1405.51 528.74 1405.51C529.6 1405.51 530.63 1405.63 531.34 1406.38C532.05 1407.14 532.58 1407.83 532.99 1410.05C533.41 1412.27 533.31 1417.46 533.84 1419.69C534.37 1421.91 535.34 1423.4 536.17 1423.4C537 1423.4 538.15 1422.04 538.83 1419.69C539.51 1417.33 539.7 1411.62 540.25 1409.27C540.8 1406.92 541.48 1406.36 542.14 1405.6C542.8 1404.85 543.52 1404.73 544.2 1404.73C544.89 1404.73 545.83 1404.85 546.26 1405.6C546.7 1406.36 546.86 1406.81 546.81 1409.27C546.77 1411.73 545.66 1417.89 546.01 1420.36C546.35 1422.82 547.95 1424.07 548.88 1424.07C549.8 1424.07 550.94 1423.43 551.53 1420.36C552.13 1417.28 552.04 1408.69 552.44 1405.63C552.84 1402.56 553.36 1402.72 553.95 1401.96C554.53 1401.2 555.28 1401.08 555.94 1401.08C556.61 1401.08 557.45 1401.2 557.94 1401.96C558.42 1402.72 558.75 1402.82 558.87 1405.63C558.99 1408.43 558.19 1415.98 558.65 1418.79C559.1 1421.6 560.65 1422.51 561.58 1422.51C562.51 1422.51 563.7 1421.4 564.24 1418.79C564.78 1416.17 564.47 1409.42 564.81 1406.81C565.15 1404.21 565.66 1403.9 566.29 1403.15C566.91 1402.39 567.81 1402.27 568.57 1402.27C569.34 1402.27 570.32 1402.39 570.86 1403.15C571.4 1403.9 571.7 1403.7 571.83 1406.81C571.96 1409.93 571.23 1418.69 571.64 1421.81C572.05 1424.93 573.4 1425.53 574.29 1425.53C575.17 1425.53 576.36 1424.03 576.95 1421.81C577.53 1419.6 577.43 1414.44 577.82 1412.23C578.22 1410.02 578.73 1409.32 579.31 1408.56C579.89 1407.8 580.39 1407.69 581.3 1407.69C582.21 1407.69 584.04 1407.8 584.77 1408.56C585.51 1409.32 585.54 1408.57 585.73 1412.23C585.92 1415.89 586.16 1424.79 585.93 1430.5C585.71 1436.21 584.89 1440.83 584.4 1446.5C583.9 1452.17 583.28 1458.5 582.97 1464.5C582.66 1470.5 582.61 1476.17 582.56 1482.5C582.51 1488.83 582.51 1496 582.69 1502.5C582.87 1509 583.48 1518.33 583.63 1521.5C583.63 1526.45 580.98 1530.08 575.13 1530.08L509.91 1530.5C504.06 1530.5 501.41 1526.45 501.41 1521.5Z" fill="#F4B3B3" stroke="#E8605E" stroke-width="2.6" stroke-linejoin="round"/>
<path d="M589.43 1521.5C589.4 1518.33 589.45 1509 589.25 1502.5C589.05 1496 588.52 1488.83 588.24 1482.5C587.95 1476.17 587.44 1470.5 587.55 1464.5C587.66 1458.5 588.99 1452.17 588.92 1446.5C588.85 1440.83 587.25 1436.28 587.13 1430.5C587.02 1424.72 587.8 1415.55 588.24 1411.82C588.68 1408.1 588.96 1408.91 589.8 1408.15C590.64 1407.39 592.21 1407.28 593.27 1407.28C594.34 1407.28 595.55 1407.39 596.18 1408.15C596.81 1408.91 596.97 1409.59 597.07 1411.82C597.16 1414.05 596.47 1419.29 596.76 1421.53C597.04 1423.76 598 1425.24 598.78 1425.24C599.56 1425.24 600.95 1424.46 601.44 1421.53C601.93 1418.59 601.47 1410.55 601.71 1407.62C601.94 1404.69 602.31 1404.71 602.85 1403.95C603.39 1403.19 604.24 1403.08 604.94 1403.08C605.63 1403.08 606.45 1403.19 607.02 1403.95C607.58 1404.71 608.05 1405.25 608.32 1407.62C608.59 1409.98 608.11 1415.76 608.64 1418.13C609.17 1420.5 610.57 1421.85 611.49 1421.85C612.4 1421.85 613.63 1420.58 614.14 1418.13C614.66 1415.68 614.26 1409.59 614.57 1407.15C614.87 1404.71 615.36 1404.24 615.99 1403.48C616.62 1402.72 617.56 1402.61 618.34 1402.61C619.13 1402.61 620.13 1402.72 620.69 1403.48C621.25 1404.24 621.56 1404.5 621.71 1407.15C621.87 1409.79 621.2 1416.7 621.61 1419.35C622.03 1422.01 623.32 1423.07 624.19 1423.07C625.06 1423.07 626.19 1421.88 626.85 1419.35C627.51 1416.83 627.62 1410.43 628.18 1407.91C628.73 1405.39 629.46 1405 630.17 1404.24C630.89 1403.48 631.71 1403.37 632.47 1403.37C633.24 1403.37 634.31 1403.48 634.77 1404.24C635.23 1405 635.31 1405.03 635.22 1407.91C635.14 1410.78 633.99 1418.6 634.27 1421.48C634.55 1424.36 636.02 1425.2 636.9 1425.2C637.78 1425.2 638.85 1424.66 639.56 1421.48C640.26 1418.3 640.56 1409.28 641.12 1406.1C641.69 1402.93 642.34 1403.19 642.94 1402.43C643.55 1401.68 644.14 1401.56 644.74 1401.56C645.34 1401.56 646.14 1401.68 646.54 1402.43C646.94 1403.19 647.18 1403.6 647.17 1406.1C647.15 1408.6 646.06 1414.93 646.47 1417.44C646.88 1419.95 648.64 1421.16 649.6 1421.16C650.57 1421.16 651.94 1419.16 652.26 1417.44C652.59 1415.72 651.52 1412.57 651.56 1410.86C651.6 1409.15 651.87 1407.95 652.48 1407.19C653.08 1406.43 654.29 1406.31 655.19 1406.31C656.1 1406.31 657.2 1406.43 657.91 1407.19C658.61 1407.95 659.07 1408.7 659.44 1410.86C659.8 1413.02 659.61 1417.97 660.09 1420.14C660.57 1422.3 661.5 1423.85 662.31 1423.85C663.12 1423.85 664.43 1423.16 664.97 1420.14C665.51 1417.11 665.26 1408.71 665.55 1405.69C665.84 1402.67 666.22 1402.77 666.7 1402.02C667.19 1401.26 667.61 1401.14 668.48 1401.14C669.36 1401.14 671.16 1401.26 671.95 1402.02C672.75 1402.77 672.91 1400.94 673.25 1405.69C673.58 1410.43 674.35 1423.7 673.96 1430.5C673.56 1437.3 671.04 1440.83 670.9 1446.5C670.77 1452.17 672.72 1458.5 673.15 1464.5C673.59 1470.5 673.4 1476.17 673.52 1482.5C673.64 1488.83 674.19 1496 673.88 1502.5C673.57 1509 672.03 1518.33 671.66 1521.5C671.66 1526.45 669.01 1530.44 663.16 1530.44L597.93 1530.5C592.08 1530.5 589.43 1526.45 589.43 1521.5Z" fill="#F4B3B3" stroke="#E8605E" stroke-width="2.6" stroke-linejoin="round"/>
<path d="M677.46 1521.5C677.34 1518.33 676.75 1509 676.75 1502.5C676.75 1496 677.32 1488.83 677.45 1482.5C677.58 1476.17 677.43 1470.5 677.54 1464.5C677.66 1458.5 678.52 1452.17 678.12 1446.5C677.73 1440.83 675.67 1436.13 675.16 1430.5C674.64 1424.87 674.93 1416.3 675.03 1412.73C675.14 1409.16 675.07 1409.82 675.78 1409.06C676.48 1408.3 678.28 1408.19 679.25 1408.19C680.21 1408.19 680.9 1408.3 681.58 1409.06C682.25 1409.82 682.84 1410.79 683.28 1412.73C683.72 1414.67 683.61 1418.76 684.2 1420.71C684.79 1422.65 685.93 1424.42 686.8 1424.42C687.68 1424.42 689.05 1423.63 689.46 1420.71C689.87 1417.78 689.08 1409.8 689.25 1406.88C689.41 1403.97 689.79 1403.97 690.42 1403.21C691.06 1402.46 692.17 1402.34 693.04 1402.34C693.92 1402.34 695.02 1402.46 695.66 1403.21C696.31 1403.97 696.68 1404.53 696.93 1406.88C697.19 1409.24 696.77 1414.98 697.2 1417.34C697.63 1419.7 698.68 1421.05 699.51 1421.05C700.34 1421.05 701.81 1419.7 702.17 1417.34C702.53 1414.98 701.59 1409.24 701.67 1406.89C701.75 1404.53 702.05 1403.97 702.64 1403.22C703.24 1402.46 704.38 1402.34 705.24 1402.34C706.11 1402.34 707.17 1402.46 707.84 1403.22C708.52 1403.97 708.97 1404.31 709.31 1406.89C709.65 1409.46 709.4 1416.07 709.88 1418.65C710.37 1421.22 711.38 1422.36 712.21 1422.36C713.05 1422.36 714.29 1420.8 714.87 1418.65C715.46 1416.49 715.32 1411.59 715.73 1409.45C716.15 1407.3 716.72 1406.53 717.36 1405.78C718.01 1405.02 718.85 1404.9 719.59 1404.9C720.33 1404.9 721.31 1405.02 721.82 1405.78C722.33 1406.53 722.57 1407.02 722.63 1409.45C722.7 1411.88 721.84 1417.92 722.22 1420.36C722.6 1422.79 724.03 1424.07 724.92 1424.07C725.81 1424.07 727.37 1422.45 727.58 1420.36C727.79 1418.26 726.31 1413.57 726.17 1411.48C726.03 1409.39 726.16 1408.57 726.73 1407.81C727.31 1407.06 728.66 1406.94 729.62 1406.94C730.58 1406.94 731.71 1407.06 732.51 1407.81C733.3 1408.57 733.88 1409.15 734.39 1411.48C734.9 1413.82 735.04 1419.47 735.58 1421.81C736.12 1424.16 736.84 1425.53 737.63 1425.53C738.41 1425.53 739.87 1424.24 740.28 1421.81C740.7 1419.39 739.97 1413.38 740.13 1410.96C740.3 1408.54 740.67 1408.05 741.28 1407.29C741.89 1406.53 742.95 1406.42 743.79 1406.42C744.63 1406.42 745.67 1406.53 746.3 1407.29C746.94 1408.05 747.33 1409.19 747.6 1410.96C747.87 1412.73 747.46 1416.15 747.91 1417.93C748.37 1419.71 749.48 1421.65 750.33 1421.65C751.18 1421.65 752.58 1419.48 752.99 1417.93C753.4 1416.39 752.61 1413.91 752.8 1412.37C752.99 1410.83 753.44 1409.46 754.14 1408.7C754.83 1407.94 755.91 1407.82 756.96 1407.82C758.01 1407.82 759.67 1407.94 760.43 1408.7C761.19 1409.46 761.28 1408.73 761.54 1412.37C761.8 1416 762.39 1424.81 761.98 1430.5C761.56 1436.19 759.63 1440.83 759.05 1446.5C758.47 1452.17 758.28 1458.5 758.49 1464.5C758.7 1470.5 760.13 1476.17 760.32 1482.5C760.5 1488.83 759.71 1496 759.6 1502.5C759.5 1509 759.67 1518.33 759.68 1521.5C759.68 1526.45 757.03 1529.81 751.18 1529.81L685.96 1530.5C680.11 1530.5 677.46 1526.45 677.46 1521.5Z" fill="#F4B3B3" stroke="#E8605E" stroke-width="2.6" stroke-linejoin="round"/>
<path d="M765.48 1521.5C765.54 1518.33 765.7 1509 765.82 1502.5C765.94 1496 766.24 1488.83 766.19 1482.5C766.14 1476.17 765.58 1470.5 765.52 1464.5C765.45 1458.5 766.19 1452.17 765.8 1446.5C765.42 1440.83 763.32 1437.06 763.18 1430.5C763.03 1423.94 764.31 1411.65 764.93 1407.14C765.56 1402.64 766.01 1404.23 766.92 1403.47C767.83 1402.72 769.32 1402.6 770.39 1402.6C771.46 1402.6 772.77 1402.72 773.34 1403.47C773.9 1404.23 773.87 1404.09 773.79 1407.14C773.71 1410.19 772.66 1418.72 772.84 1421.78C773.01 1424.84 774.05 1425.5 774.82 1425.5C775.6 1425.5 777.18 1424.44 777.48 1421.78C777.79 1419.13 776.64 1412.22 776.66 1409.57C776.68 1406.92 776.97 1406.66 777.6 1405.9C778.23 1405.14 779.51 1405.03 780.46 1405.03C781.41 1405.03 782.59 1405.14 783.32 1405.9C784.05 1406.66 784.47 1407.01 784.83 1409.57C785.19 1412.13 785.01 1418.67 785.46 1421.24C785.91 1423.8 786.74 1424.95 787.53 1424.95C788.32 1424.95 789.88 1423.4 790.19 1421.24C790.5 1419.07 789.42 1414.12 789.37 1411.96C789.33 1409.8 789.45 1409.05 789.93 1408.29C790.4 1407.53 791.45 1407.42 792.21 1407.42C792.98 1407.42 793.8 1407.53 794.5 1408.29C795.2 1409.05 795.88 1410.17 796.39 1411.96C796.91 1413.75 796.95 1417.23 797.59 1419.03C798.23 1420.82 799.35 1422.74 800.24 1422.74C801.12 1422.74 802.34 1421.2 802.89 1419.03C803.45 1416.85 803.24 1411.84 803.55 1409.67C803.86 1407.5 804.26 1406.76 804.76 1406C805.25 1405.24 805.94 1405.13 806.54 1405.13C807.13 1405.13 807.82 1405.24 808.32 1406C808.82 1406.76 809.32 1407.15 809.56 1409.67C809.81 1412.19 809.23 1418.6 809.79 1421.12C810.36 1423.65 811.97 1424.84 812.94 1424.84C813.91 1424.84 814.95 1423.33 815.6 1421.12C816.25 1418.92 816.34 1413.81 816.83 1411.61C817.32 1409.41 817.93 1408.7 818.54 1407.94C819.15 1407.19 819.84 1407.07 820.49 1407.07C821.15 1407.07 822 1407.19 822.45 1407.94C822.9 1408.7 823.16 1410 823.2 1411.61C823.23 1413.22 822.27 1415.99 822.68 1417.6C823.08 1419.22 824.71 1421.32 825.65 1421.32C826.59 1421.32 827.92 1419.81 828.31 1417.6C828.7 1415.39 827.93 1410.26 827.99 1408.05C828.04 1405.85 828.2 1405.14 828.63 1404.39C829.06 1403.63 829.92 1403.51 830.56 1403.51C831.21 1403.51 831.87 1403.63 832.49 1404.39C833.11 1405.14 833.81 1405.25 834.29 1408.05C834.77 1410.86 834.67 1418.41 835.35 1421.22C836.03 1424.04 837.41 1424.94 838.35 1424.94C839.3 1424.94 840.45 1423.81 841.01 1421.22C841.57 1418.64 841.3 1412 841.71 1409.42C842.12 1406.84 842.75 1406.5 843.48 1405.75C844.2 1404.99 845.06 1404.87 846.07 1404.87C847.08 1404.87 848.85 1404.99 849.54 1405.75C850.23 1406.5 850.14 1405.29 850.22 1409.42C850.29 1413.54 850.62 1424.32 850 1430.5C849.38 1436.68 846.8 1440.83 846.51 1446.5C846.21 1452.17 848.23 1458.5 848.23 1464.5C848.23 1470.5 846.24 1476.17 846.49 1482.5C846.75 1488.83 849.57 1496 849.77 1502.5C849.97 1509 848.05 1518.33 847.7 1521.5C847.7 1526.45 845.05 1529.83 839.2 1529.83L773.98 1530.5C768.13 1530.5 765.48 1526.45 765.48 1521.5Z" fill="#F4B3B3" stroke="#E8605E" stroke-width="2.6" stroke-linejoin="round"/>
<g fill="#BE161E"><circle cx="101.3" cy="1494.6" r="18.2"/><circle cx="190" cy="1494.6" r="18.2"/><circle cx="276.4" cy="1493.3" r="18.2"/><circle cx="364.5" cy="1494" r="18.2"/><circle cx="452.5" cy="1493" r="18.2"/><circle cx="540" cy="1495.5" r="18.2"/><circle cx="628" cy="1494.5" r="18.2"/><circle cx="718" cy="1494.5" r="18.2"/><circle cx="805.5" cy="1492" r="18.2"/></g>
<rect x="1255.5" y="911" width="793.5" height="431.5" fill="url(#gr)"/>
<rect x="1255.5" y="1342" width="793.5" height="86" fill="url(#gm)"/>
<rect x="1255.5" y="1427" width="793.5" height="106" fill="#FFFFFF"/>
<path d="M1258.55 1518C1258.45 1513.5 1258.12 1501.33 1257.95 1491C1257.78 1480.67 1257.65 1466.33 1257.55 1456C1257.45 1445.67 1257.32 1438.84 1257.35 1429C1257.38 1419.16 1257.38 1403 1257.7 1396.98C1258.03 1390.96 1258.62 1393.72 1259.31 1392.87C1260 1392.03 1261.01 1391.9 1261.85 1391.9C1262.7 1391.9 1263.78 1392.03 1264.4 1392.87C1265.01 1393.72 1265.37 1392.07 1265.53 1396.98C1265.69 1401.89 1265 1417.54 1265.38 1422.33C1265.75 1427.12 1266.98 1425.73 1267.78 1425.73C1268.59 1425.73 1269.67 1427.04 1270.19 1422.33C1270.71 1417.63 1270.5 1402.32 1270.9 1397.49C1271.3 1392.67 1271.9 1394.23 1272.61 1393.39C1273.31 1392.54 1274.3 1392.41 1275.15 1392.41C1276 1392.41 1277.1 1392.54 1277.69 1393.39C1278.29 1394.23 1278.6 1392.67 1278.72 1397.49C1278.84 1402.32 1278.07 1417.62 1278.42 1422.33C1278.77 1427.03 1280.02 1425.72 1280.83 1425.72C1281.63 1425.72 1282.71 1427.28 1283.23 1422.33C1283.76 1417.38 1283.56 1401.1 1283.97 1396.03C1284.38 1390.97 1284.98 1392.77 1285.69 1391.92C1286.4 1391.08 1287.39 1390.95 1288.23 1390.95C1289.08 1390.95 1290.18 1391.08 1290.78 1391.92C1291.37 1392.77 1291.68 1391.1 1291.79 1396.03C1291.91 1400.96 1291.11 1416.7 1291.46 1421.51C1291.81 1426.32 1293.07 1424.9 1293.87 1424.9C1294.67 1424.9 1295.92 1426.15 1296.28 1421.51C1296.63 1416.86 1295.88 1401.79 1296.01 1397.02C1296.14 1392.26 1296.47 1393.76 1297.07 1392.92C1297.67 1392.07 1298.77 1391.94 1299.62 1391.94C1300.46 1391.94 1301.45 1392.07 1302.16 1392.92C1302.86 1393.76 1303.45 1392.04 1303.84 1397.02C1304.23 1402.01 1303.99 1417.95 1304.5 1422.81C1305.01 1427.67 1306.11 1426.2 1306.91 1426.2C1307.71 1426.2 1308.87 1427.72 1309.32 1422.81C1309.76 1417.9 1309.29 1401.77 1309.57 1396.74C1309.85 1391.71 1310.32 1393.48 1310.98 1392.63C1311.63 1391.78 1312.67 1391.65 1313.52 1391.65C1314.37 1391.65 1315.42 1391.78 1316.06 1392.63C1316.71 1393.48 1317.15 1392.03 1317.4 1396.74C1317.64 1401.44 1317.12 1416.26 1317.54 1420.85C1317.97 1425.43 1319.15 1424.24 1319.95 1424.24C1320.75 1424.24 1321.98 1425.4 1322.36 1420.85C1322.74 1416.29 1322.05 1401.58 1322.22 1396.9C1322.39 1392.23 1322.75 1393.64 1323.36 1392.8C1323.98 1391.95 1325.06 1391.82 1325.91 1391.82C1326.75 1391.82 1327.76 1391.95 1328.45 1392.8C1329.14 1393.64 1329.69 1392.35 1330.05 1396.9C1330.4 1401.46 1330.09 1415.71 1330.59 1420.15C1331.08 1424.59 1332.19 1423.54 1332.99 1423.54C1333.8 1423.54 1334.91 1424.67 1335.4 1420.15C1335.89 1415.63 1335.57 1401.07 1335.92 1396.43C1336.27 1391.8 1336.82 1393.17 1337.5 1392.33C1338.19 1391.48 1339.2 1391.35 1340.05 1391.35C1340.89 1391.35 1341.97 1391.48 1342.59 1392.33C1343.21 1393.17 1343.61 1390.32 1343.75 1396.43C1343.89 1402.55 1343.51 1419.07 1343.43 1429C1343.34 1438.93 1343.33 1445.67 1343.23 1456C1343.13 1466.33 1342.99 1480.67 1342.83 1491C1342.66 1501.33 1342.33 1513.5 1342.23 1518C1342.23 1525.15 1338.88 1531 1330.43 1531L1270.35 1531C1261.9 1531 1258.55 1525.15 1258.55 1518Z" fill="#FBE8C6" stroke="#B07A3A" stroke-width="2.3" stroke-linejoin="round"/>
<path d="M1346.53 1518C1346.43 1513.5 1346.09 1501.33 1345.93 1491C1345.76 1480.67 1345.63 1466.33 1345.53 1456C1345.43 1445.67 1345.43 1438.96 1345.33 1429C1345.22 1419.04 1344.79 1402.39 1344.89 1396.24C1345 1390.1 1345.37 1392.98 1345.97 1392.13C1346.58 1391.29 1347.67 1391.16 1348.52 1391.16C1349.37 1391.16 1350.36 1391.29 1351.06 1392.13C1351.76 1392.98 1352.34 1391.18 1352.72 1396.24C1353.1 1401.3 1352.85 1417.56 1353.35 1422.5C1353.86 1427.44 1354.96 1425.89 1355.76 1425.89C1356.56 1425.89 1357.83 1427.32 1358.17 1422.5C1358.5 1417.68 1357.68 1401.91 1357.77 1396.97C1357.87 1392.04 1358.16 1393.71 1358.74 1392.87C1359.33 1392.02 1360.44 1391.89 1361.29 1391.89C1362.13 1391.89 1363.11 1392.02 1363.83 1392.87C1364.55 1393.71 1365.17 1392.37 1365.6 1396.97C1366.02 1401.58 1365.86 1416 1366.4 1420.49C1366.93 1424.97 1368 1423.88 1368.8 1423.88C1369.61 1423.88 1370.83 1424.91 1371.21 1420.49C1371.59 1416.07 1370.9 1401.92 1371.07 1397.38C1371.24 1392.84 1371.6 1394.12 1372.21 1393.27C1372.83 1392.42 1373.91 1392.29 1374.76 1392.29C1375.6 1392.29 1376.61 1392.42 1377.3 1393.27C1377.99 1394.12 1378.54 1392.8 1378.9 1397.38C1379.25 1401.96 1378.95 1416.28 1379.44 1420.74C1379.93 1425.2 1381.04 1424.13 1381.85 1424.13C1382.65 1424.13 1383.86 1425.17 1384.25 1420.74C1384.65 1416.31 1384.01 1402.11 1384.2 1397.56C1384.39 1393.01 1384.78 1394.3 1385.4 1393.45C1386.03 1392.6 1387.1 1392.47 1387.95 1392.47C1388.79 1392.47 1389.81 1392.6 1390.49 1393.45C1391.17 1394.3 1391.69 1392.68 1392.03 1397.56C1392.36 1402.44 1392 1417.97 1392.48 1422.73C1392.96 1427.49 1394.08 1426.12 1394.89 1426.12C1395.69 1426.12 1396.83 1427.49 1397.3 1422.73C1397.77 1417.96 1397.39 1402.41 1397.71 1397.52C1398.03 1392.64 1398.55 1394.26 1399.22 1393.42C1399.9 1392.57 1400.92 1392.44 1401.76 1392.44C1402.61 1392.44 1403.68 1392.57 1404.31 1393.42C1404.94 1394.26 1405.33 1392.81 1405.53 1397.52C1405.74 1402.24 1405.12 1417.13 1405.52 1421.73C1405.92 1426.33 1407.13 1425.12 1407.93 1425.12C1408.73 1425.12 1409.87 1426.53 1410.34 1421.73C1410.81 1416.93 1410.44 1401.23 1410.77 1396.31C1411.09 1391.39 1411.61 1393.05 1412.29 1392.21C1412.97 1391.36 1413.98 1391.23 1414.83 1391.23C1415.68 1391.23 1416.75 1391.36 1417.38 1392.21C1418 1393.05 1418.39 1391.19 1418.59 1396.31C1418.79 1401.44 1418.17 1417.93 1418.56 1422.93C1418.96 1427.93 1420.17 1426.32 1420.97 1426.32C1421.77 1426.32 1422.99 1427.73 1423.38 1422.93C1423.77 1418.13 1423.14 1402.45 1423.34 1397.53C1423.53 1392.62 1423.92 1394.27 1424.55 1393.42C1425.17 1392.58 1426.24 1392.45 1427.09 1392.45C1427.94 1392.45 1428.95 1392.58 1429.63 1393.42C1430.31 1394.27 1430.87 1391.6 1431.16 1397.53C1431.46 1403.46 1431.4 1419.26 1431.41 1429C1431.41 1438.74 1431.31 1445.67 1431.21 1456C1431.11 1466.33 1430.97 1480.67 1430.81 1491C1430.64 1501.33 1430.31 1513.5 1430.21 1518C1430.21 1525.15 1426.86 1531 1418.41 1531L1358.33 1531C1349.88 1531 1346.53 1525.15 1346.53 1518Z" fill="#FBE8C6" stroke="#B07A3A" stroke-width="2.3" stroke-linejoin="round"/>
<path d="M1434.51 1518C1434.41 1513.5 1434.07 1501.33 1433.91 1491C1433.74 1480.67 1433.61 1466.33 1433.51 1456C1433.41 1445.67 1433.41 1438.91 1433.31 1429C1433.2 1419.09 1432.77 1402.65 1432.88 1396.56C1432.99 1390.47 1433.36 1393.3 1433.97 1392.46C1434.57 1391.61 1435.66 1391.48 1436.51 1391.48C1437.36 1391.48 1438.35 1391.61 1439.05 1392.46C1439.75 1393.3 1440.33 1391.87 1440.71 1396.56C1441.09 1401.26 1440.83 1416.03 1441.33 1420.61C1441.84 1425.18 1442.94 1424 1443.74 1424C1444.54 1424 1445.69 1425.26 1446.15 1420.61C1446.6 1415.96 1446.18 1400.86 1446.47 1396.09C1446.77 1391.32 1447.26 1392.83 1447.92 1391.98C1448.59 1391.13 1449.62 1391 1450.47 1391C1451.31 1391 1452.37 1391.13 1453.01 1391.98C1453.65 1392.83 1454.07 1391.25 1454.3 1396.09C1454.52 1400.93 1453.96 1416.29 1454.37 1421.01C1454.79 1425.73 1455.98 1424.4 1456.78 1424.4C1457.58 1424.4 1458.79 1425.75 1459.19 1421.01C1459.59 1416.28 1458.99 1400.85 1459.2 1395.99C1459.4 1391.14 1459.8 1392.73 1460.43 1391.88C1461.07 1391.04 1462.13 1390.91 1462.98 1390.91C1463.83 1390.91 1464.85 1391.04 1465.52 1391.88C1466.2 1392.73 1466.7 1390.95 1467.02 1395.99C1467.34 1401.04 1466.95 1417.22 1467.41 1422.14C1467.88 1427.07 1469.02 1425.53 1469.82 1425.53C1470.63 1425.53 1471.8 1426.98 1472.23 1422.14C1472.66 1417.3 1472.15 1401.44 1472.41 1396.48C1472.66 1391.52 1473.11 1393.22 1473.76 1392.37C1474.41 1391.53 1475.46 1391.4 1476.31 1391.4C1477.15 1391.4 1478.19 1391.53 1478.85 1392.37C1479.5 1393.22 1479.97 1391.45 1480.23 1396.48C1480.5 1401.51 1480.02 1417.65 1480.46 1422.56C1480.9 1427.48 1482.06 1425.96 1482.87 1425.96C1483.67 1425.96 1484.8 1427.48 1485.27 1422.56C1485.75 1417.65 1485.39 1401.52 1485.72 1396.49C1486.05 1391.46 1486.57 1393.23 1487.25 1392.38C1487.93 1391.54 1488.95 1391.41 1489.8 1391.41C1490.64 1391.41 1491.71 1391.54 1492.34 1392.38C1492.96 1393.23 1493.35 1391.63 1493.54 1396.49C1493.74 1401.35 1493.11 1416.81 1493.5 1421.55C1493.89 1426.29 1495.1 1424.94 1495.91 1424.94C1496.71 1424.94 1497.98 1426.36 1498.32 1421.55C1498.66 1416.74 1497.84 1401.01 1497.94 1396.08C1498.05 1391.15 1498.34 1392.82 1498.93 1391.97C1499.52 1391.12 1500.63 1390.99 1501.47 1390.99C1502.32 1390.99 1503.3 1391.12 1504.02 1391.97C1504.73 1392.82 1505.35 1390.9 1505.77 1396.08C1506.19 1401.26 1506.01 1417.98 1506.54 1423.03C1507.07 1428.09 1508.15 1426.43 1508.95 1426.43C1509.75 1426.43 1511.02 1427.91 1511.36 1423.03C1511.7 1418.16 1510.88 1402.18 1510.98 1397.19C1511.08 1392.19 1511.38 1393.93 1511.96 1393.08C1512.55 1392.23 1513.66 1392.1 1514.51 1392.1C1515.35 1392.1 1516.33 1392.23 1517.05 1393.08C1517.77 1393.93 1518.42 1391.2 1518.81 1397.19C1519.19 1403.17 1519.32 1419.2 1519.38 1429C1519.45 1438.8 1519.28 1445.67 1519.18 1456C1519.08 1466.33 1518.95 1480.67 1518.78 1491C1518.62 1501.33 1518.28 1513.5 1518.18 1518C1518.18 1525.15 1514.83 1531 1506.38 1531L1446.31 1531C1437.86 1531 1434.51 1525.15 1434.51 1518Z" fill="#FBE8C6" stroke="#B07A3A" stroke-width="2.3" stroke-linejoin="round"/>
<path d="M1522.48 1518C1522.38 1513.5 1522.05 1501.33 1521.88 1491C1521.72 1480.67 1521.58 1466.33 1521.48 1456C1521.38 1445.67 1521.3 1438.79 1521.28 1429C1521.27 1419.21 1521.12 1403.22 1521.38 1397.25C1521.63 1391.27 1522.15 1393.99 1522.81 1393.14C1523.47 1392.29 1524.51 1392.16 1525.35 1392.16C1526.2 1392.16 1527.25 1392.29 1527.9 1393.14C1528.54 1393.99 1528.97 1392.57 1529.2 1397.25C1529.44 1401.92 1528.89 1416.65 1529.31 1421.21C1529.73 1425.77 1530.91 1424.6 1531.72 1424.6C1532.52 1424.6 1533.75 1425.97 1534.13 1421.21C1534.5 1416.44 1533.79 1400.89 1533.94 1396C1534.1 1391.12 1534.45 1392.74 1535.06 1391.89C1535.67 1391.04 1536.75 1390.91 1537.6 1390.91C1538.45 1390.91 1539.45 1391.04 1540.14 1391.89C1540.84 1392.74 1541.4 1391.27 1541.77 1396C1542.14 1400.73 1541.85 1415.64 1542.35 1420.25C1542.85 1424.86 1543.96 1423.64 1544.76 1423.64C1545.56 1423.64 1546.68 1424.6 1547.17 1420.25C1547.65 1415.89 1547.33 1401.99 1547.67 1397.51C1548.02 1393.04 1548.56 1394.25 1549.25 1393.41C1549.93 1392.56 1550.94 1392.43 1551.79 1392.43C1552.64 1392.43 1553.72 1392.56 1554.33 1393.41C1554.95 1394.25 1555.32 1392.97 1555.5 1397.51C1555.68 1402.06 1555.01 1416.27 1555.39 1420.7C1555.78 1425.13 1557 1424.09 1557.8 1424.09C1558.6 1424.09 1559.81 1425.13 1560.21 1420.7C1560.61 1416.26 1560.01 1402.03 1560.22 1397.47C1560.43 1392.92 1560.84 1394.21 1561.47 1393.37C1562.1 1392.52 1563.16 1392.39 1564.01 1392.39C1564.86 1392.39 1565.88 1392.52 1566.55 1393.37C1567.23 1394.21 1567.73 1392.55 1568.05 1397.47C1568.36 1402.4 1567.97 1418.13 1568.43 1422.94C1568.9 1427.74 1570.04 1426.33 1570.84 1426.33C1571.65 1426.33 1572.76 1427.9 1573.25 1422.94C1573.74 1417.97 1573.43 1401.64 1573.78 1396.55C1574.14 1391.47 1574.68 1393.29 1575.37 1392.45C1576.06 1391.6 1577.07 1391.47 1577.92 1391.47C1578.76 1391.47 1579.84 1391.6 1580.46 1392.45C1581.07 1393.29 1581.44 1391.68 1581.61 1396.55C1581.78 1401.43 1581.1 1416.93 1581.48 1421.68C1581.86 1426.44 1583.08 1425.07 1583.89 1425.07C1584.69 1425.07 1585.8 1426.5 1586.29 1421.68C1586.79 1416.86 1586.49 1401.1 1586.85 1396.16C1587.21 1391.22 1587.77 1392.9 1588.46 1392.05C1589.15 1391.2 1590.15 1391.07 1591 1391.07C1591.85 1391.07 1592.93 1391.2 1593.54 1392.05C1594.16 1392.9 1594.51 1391.11 1594.68 1396.16C1594.84 1401.21 1594.14 1417.42 1594.52 1422.35C1594.89 1427.29 1596.12 1425.75 1596.93 1425.75C1597.73 1425.75 1598.81 1427.08 1599.34 1422.35C1599.86 1417.62 1599.66 1402.21 1600.07 1397.36C1600.48 1392.51 1601.09 1394.1 1601.8 1393.25C1602.51 1392.41 1603.49 1392.28 1604.34 1392.28C1605.19 1392.28 1606.29 1392.41 1606.88 1393.25C1607.48 1394.1 1607.82 1391.4 1607.9 1397.36C1607.98 1403.32 1607.48 1419.23 1607.36 1429C1607.24 1438.77 1607.26 1445.67 1607.16 1456C1607.06 1466.33 1606.93 1480.67 1606.76 1491C1606.59 1501.33 1606.26 1513.5 1606.16 1518C1606.16 1525.15 1602.81 1531 1594.36 1531L1534.28 1531C1525.83 1531 1522.48 1525.15 1522.48 1518Z" fill="#FBE8C6" stroke="#B07A3A" stroke-width="2.3" stroke-linejoin="round"/>
<path d="M1610.46 1518C1610.36 1513.5 1610.03 1501.33 1609.86 1491C1609.69 1480.67 1609.56 1466.33 1609.46 1456C1609.36 1445.67 1609.27 1438.98 1609.26 1429C1609.25 1419.02 1609.13 1402.29 1609.39 1396.13C1609.66 1389.97 1610.19 1392.87 1610.85 1392.02C1611.52 1391.18 1612.55 1391.05 1613.4 1391.05C1614.24 1391.05 1615.3 1391.18 1615.94 1392.02C1616.58 1392.87 1616.99 1391.28 1617.22 1396.13C1617.44 1400.98 1616.87 1416.4 1617.29 1421.13C1617.7 1425.86 1618.89 1424.52 1619.69 1424.52C1620.5 1424.52 1621.58 1425.64 1622.1 1421.13C1622.62 1416.62 1622.41 1402.09 1622.81 1397.46C1623.22 1392.82 1623.81 1394.19 1624.52 1393.35C1625.23 1392.5 1626.22 1392.37 1627.06 1392.37C1627.91 1392.37 1629.01 1392.5 1629.61 1393.35C1630.2 1394.19 1630.52 1392.83 1630.64 1397.46C1630.76 1402.09 1629.98 1416.62 1630.33 1421.13C1630.68 1425.64 1631.93 1424.52 1632.74 1424.52C1633.54 1424.52 1634.75 1425.74 1635.15 1421.13C1635.54 1416.52 1634.92 1401.59 1635.13 1396.86C1635.33 1392.13 1635.72 1393.6 1636.35 1392.75C1636.98 1391.9 1638.04 1391.77 1638.89 1391.77C1639.74 1391.77 1640.76 1391.9 1641.43 1392.75C1642.11 1393.6 1642.63 1392.14 1642.95 1396.86C1643.27 1401.57 1642.9 1416.45 1643.37 1421.05C1643.84 1425.64 1644.98 1424.44 1645.78 1424.44C1646.58 1424.44 1647.82 1425.74 1648.19 1421.05C1648.55 1416.35 1647.82 1401.08 1647.97 1396.27C1648.11 1391.46 1648.45 1393.01 1649.05 1392.16C1649.66 1391.31 1650.75 1391.18 1651.6 1391.18C1652.45 1391.18 1653.44 1391.31 1654.14 1392.16C1654.84 1393.01 1655.41 1391.57 1655.79 1396.27C1656.17 1400.97 1655.91 1415.77 1656.41 1420.34C1656.92 1424.92 1658.02 1423.73 1658.82 1423.73C1659.62 1423.73 1660.86 1424.78 1661.23 1420.34C1661.6 1415.9 1660.87 1401.65 1661.02 1397.09C1661.17 1392.53 1661.51 1393.83 1662.12 1392.98C1662.73 1392.13 1663.82 1392 1664.67 1392C1665.51 1392 1666.51 1392.13 1667.21 1392.98C1667.91 1393.83 1668.47 1392.07 1668.85 1397.09C1669.22 1402.11 1668.95 1418.2 1669.45 1423.1C1669.96 1428 1671.06 1426.49 1671.86 1426.49C1672.67 1426.49 1673.83 1428.17 1674.27 1423.1C1674.71 1418.03 1674.24 1401.25 1674.51 1396.06C1674.78 1390.87 1675.25 1392.8 1675.91 1391.96C1676.56 1391.11 1677.6 1390.98 1678.45 1390.98C1679.3 1390.98 1680.35 1391.11 1680.99 1391.96C1681.64 1392.8 1682.09 1390.88 1682.34 1396.06C1682.59 1401.25 1682.07 1418 1682.5 1423.07C1682.92 1428.14 1684.1 1426.46 1684.91 1426.46C1685.71 1426.46 1686.86 1428.04 1687.31 1423.07C1687.77 1418.1 1687.33 1401.73 1687.63 1396.64C1687.92 1391.55 1688.41 1393.38 1689.07 1392.53C1689.74 1391.68 1690.77 1391.55 1691.61 1391.55C1692.46 1391.55 1693.52 1391.68 1694.16 1392.53C1694.8 1393.38 1695.25 1390.56 1695.45 1396.64C1695.65 1402.71 1695.39 1419.11 1695.34 1429C1695.29 1438.89 1695.24 1445.67 1695.14 1456C1695.04 1466.33 1694.91 1480.67 1694.74 1491C1694.57 1501.33 1694.24 1513.5 1694.14 1518C1694.14 1525.15 1690.79 1531 1682.34 1531L1622.26 1531C1613.81 1531 1610.46 1525.15 1610.46 1518Z" fill="#FBE8C6" stroke="#B07A3A" stroke-width="2.3" stroke-linejoin="round"/>
<path d="M1698.44 1518C1698.34 1513.5 1698.01 1501.33 1697.84 1491C1697.67 1480.67 1697.54 1466.33 1697.44 1456C1697.34 1445.67 1697.29 1438.78 1697.24 1429C1697.19 1419.22 1696.94 1403.28 1697.14 1397.31C1697.35 1391.34 1697.81 1394.05 1698.45 1393.2C1699.09 1392.35 1700.15 1392.22 1701 1392.22C1701.84 1392.22 1702.88 1392.35 1703.54 1393.2C1704.2 1394.05 1704.68 1392.6 1704.97 1397.31C1705.26 1402.02 1704.81 1416.88 1705.26 1421.48C1705.71 1426.07 1706.87 1424.87 1707.67 1424.87C1708.48 1424.87 1709.74 1426.27 1710.08 1421.48C1710.42 1416.68 1709.61 1400.99 1709.72 1396.08C1709.83 1391.16 1710.13 1392.82 1710.72 1391.97C1711.31 1391.12 1712.41 1390.99 1713.26 1390.99C1714.11 1390.99 1715.09 1391.12 1715.8 1391.97C1716.52 1392.82 1717.13 1390.93 1717.55 1396.08C1717.96 1401.22 1717.78 1417.83 1718.31 1422.86C1718.83 1427.89 1719.91 1426.25 1720.71 1426.25C1721.52 1426.25 1722.76 1427.77 1723.12 1422.86C1723.48 1417.95 1722.74 1401.81 1722.88 1396.78C1723.02 1391.74 1723.35 1393.52 1723.95 1392.67C1724.56 1391.82 1725.65 1391.69 1726.5 1391.69C1727.34 1391.69 1728.34 1391.82 1729.04 1392.67C1729.74 1393.52 1730.32 1391.78 1730.71 1396.78C1731.09 1401.77 1730.84 1417.75 1731.35 1422.62C1731.86 1427.5 1732.95 1426.02 1733.76 1426.02C1734.56 1426.02 1735.7 1427.43 1736.17 1422.62C1736.63 1417.81 1736.22 1402.09 1736.52 1397.16C1736.83 1392.23 1737.33 1393.9 1738 1393.05C1738.66 1392.2 1739.69 1392.07 1740.54 1392.07C1741.39 1392.07 1742.45 1392.2 1743.08 1393.05C1743.72 1393.9 1744.13 1392.17 1744.35 1397.16C1744.56 1402.14 1743.98 1418.09 1744.39 1422.96C1744.8 1427.82 1746 1426.35 1746.8 1426.35C1747.6 1426.35 1748.79 1427.81 1749.21 1422.96C1749.63 1418.11 1749.09 1402.22 1749.33 1397.25C1749.57 1392.28 1750 1393.99 1750.65 1393.14C1751.29 1392.29 1752.34 1392.16 1753.19 1392.16C1754.04 1392.16 1755.07 1392.29 1755.73 1393.14C1756.39 1393.99 1756.87 1392.7 1757.15 1397.25C1757.44 1401.8 1756.98 1416 1757.43 1420.43C1757.88 1424.86 1759.04 1423.82 1759.84 1423.82C1760.64 1423.82 1761.86 1425.03 1762.25 1420.43C1762.64 1415.83 1762.01 1400.94 1762.2 1396.23C1762.4 1391.51 1762.78 1392.96 1763.41 1392.12C1764.03 1391.27 1765.1 1391.14 1765.95 1391.14C1766.8 1391.14 1767.82 1391.27 1768.49 1392.12C1769.17 1392.96 1769.7 1391.14 1770.03 1396.23C1770.36 1401.31 1770 1417.68 1770.47 1422.64C1770.95 1427.61 1772.08 1426.03 1772.88 1426.03C1773.69 1426.03 1774.79 1427.53 1775.29 1422.64C1775.8 1417.76 1775.54 1401.72 1775.91 1396.71C1776.29 1391.7 1776.87 1393.45 1777.57 1392.6C1778.26 1391.76 1779.26 1391.63 1780.11 1391.63C1780.96 1391.63 1782.05 1391.76 1782.65 1392.6C1783.26 1393.45 1783.63 1390.65 1783.74 1396.71C1783.85 1402.78 1783.42 1419.12 1783.32 1429C1783.21 1438.88 1783.22 1445.67 1783.12 1456C1783.02 1466.33 1782.88 1480.67 1782.72 1491C1782.55 1501.33 1782.22 1513.5 1782.12 1518C1782.12 1525.15 1778.77 1531 1770.32 1531L1710.24 1531C1701.79 1531 1698.44 1525.15 1698.44 1518Z" fill="#FBE8C6" stroke="#B07A3A" stroke-width="2.3" stroke-linejoin="round"/>
<path d="M1786.42 1518C1786.32 1513.5 1785.98 1501.33 1785.82 1491C1785.65 1480.67 1785.52 1466.33 1785.42 1456C1785.32 1445.67 1785.25 1438.74 1785.22 1429C1785.18 1419.26 1784.98 1403.47 1785.2 1397.55C1785.43 1391.62 1785.91 1394.29 1786.56 1393.44C1787.21 1392.59 1788.26 1392.46 1789.11 1392.46C1789.95 1392.46 1791 1392.59 1791.65 1393.44C1792.3 1394.29 1792.76 1392.88 1793.03 1397.55C1793.29 1402.22 1792.8 1416.92 1793.24 1421.47C1793.68 1426.02 1794.85 1424.86 1795.65 1424.86C1796.45 1424.86 1797.67 1426.09 1798.06 1421.47C1798.45 1416.85 1797.82 1401.89 1798.01 1397.15C1798.2 1392.42 1798.59 1393.89 1799.21 1393.05C1799.83 1392.2 1800.91 1392.07 1801.75 1392.07C1802.6 1392.07 1803.62 1392.2 1804.3 1393.05C1804.98 1393.89 1805.5 1392.4 1805.83 1397.15C1806.16 1401.9 1805.81 1416.92 1806.28 1421.55C1806.76 1426.18 1807.89 1424.94 1808.69 1424.94C1809.5 1424.94 1810.69 1426.26 1811.1 1421.55C1811.51 1416.83 1810.93 1401.47 1811.15 1396.63C1811.37 1391.8 1811.79 1393.37 1812.42 1392.52C1813.06 1391.68 1814.12 1391.55 1814.97 1391.55C1815.82 1391.55 1816.84 1391.68 1817.51 1392.52C1818.18 1393.37 1818.68 1391.96 1818.98 1396.63C1819.28 1401.3 1818.87 1416 1819.33 1420.55C1819.79 1425.1 1820.93 1423.94 1821.73 1423.94C1822.54 1423.94 1823.68 1424.94 1824.14 1420.55C1824.6 1416.15 1824.19 1402.08 1824.5 1397.57C1824.8 1393.05 1825.3 1394.31 1825.97 1393.46C1826.64 1392.61 1827.66 1392.48 1828.51 1392.48C1829.36 1392.48 1830.42 1392.61 1831.05 1393.46C1831.69 1394.31 1832.1 1392.65 1832.32 1397.57C1832.54 1402.49 1831.96 1418.19 1832.37 1422.99C1832.78 1427.79 1833.97 1426.38 1834.78 1426.38C1835.58 1426.38 1836.83 1427.92 1837.19 1422.99C1837.54 1418.06 1836.77 1401.84 1836.89 1396.79C1837.02 1391.73 1837.34 1393.52 1837.93 1392.68C1838.53 1391.83 1839.63 1391.7 1840.48 1391.7C1841.32 1391.7 1842.31 1391.83 1843.02 1392.68C1843.73 1393.52 1844.32 1392.04 1844.72 1396.79C1845.12 1401.53 1844.89 1416.5 1845.41 1421.12C1845.93 1425.75 1847.02 1424.52 1847.82 1424.52C1848.62 1424.52 1849.72 1425.81 1850.23 1421.12C1850.74 1416.44 1850.48 1401.22 1850.87 1396.42C1851.25 1391.62 1851.83 1393.16 1852.53 1392.31C1853.23 1391.47 1854.23 1391.34 1855.07 1391.34C1855.92 1391.34 1857.01 1391.47 1857.62 1392.31C1858.22 1393.16 1858.55 1391.4 1858.69 1396.42C1858.83 1401.45 1858.09 1417.55 1858.45 1422.46C1858.81 1427.36 1860.06 1425.85 1860.86 1425.85C1861.66 1425.85 1862.78 1427.34 1863.27 1422.46C1863.76 1417.57 1863.45 1401.56 1863.8 1396.56C1864.15 1391.56 1864.7 1393.3 1865.39 1392.46C1866.08 1391.61 1867.08 1391.48 1867.93 1391.48C1868.78 1391.48 1869.86 1391.61 1870.47 1392.46C1871.09 1393.3 1871.49 1390.47 1871.62 1396.56C1871.76 1402.66 1871.38 1419.09 1871.29 1429C1871.21 1438.91 1871.19 1445.67 1871.09 1456C1870.99 1466.33 1870.86 1480.67 1870.69 1491C1870.53 1501.33 1870.19 1513.5 1870.09 1518C1870.09 1525.15 1866.74 1531 1858.29 1531L1798.22 1531C1789.77 1531 1786.42 1525.15 1786.42 1518Z" fill="#FBE8C6" stroke="#B07A3A" stroke-width="2.3" stroke-linejoin="round"/>
<path d="M1874.39 1518C1874.29 1513.5 1873.96 1501.33 1873.79 1491C1873.63 1480.67 1873.49 1466.33 1873.39 1456C1873.29 1445.67 1873.18 1438.82 1873.19 1429C1873.21 1419.18 1873.19 1403.1 1873.51 1397.1C1873.82 1391.1 1874.4 1393.84 1875.08 1392.99C1875.77 1392.14 1876.78 1392.01 1877.63 1392.01C1878.47 1392.01 1879.55 1392.14 1880.17 1392.99C1880.79 1393.84 1881.16 1392.25 1881.33 1397.1C1881.51 1401.95 1880.84 1417.37 1881.22 1422.1C1881.6 1426.83 1882.83 1425.49 1883.63 1425.49C1884.43 1425.49 1885.65 1426.92 1886.04 1422.1C1886.43 1417.28 1885.79 1401.51 1885.97 1396.57C1886.16 1391.63 1886.54 1393.31 1887.17 1392.46C1887.79 1391.61 1888.86 1391.48 1889.71 1391.48C1890.56 1391.48 1891.57 1391.61 1892.25 1392.46C1892.94 1393.31 1893.46 1391.61 1893.8 1396.57C1894.13 1401.53 1893.78 1417.38 1894.26 1422.22C1894.74 1427.06 1895.87 1425.61 1896.67 1425.61C1897.47 1425.61 1898.61 1427.03 1899.08 1422.22C1899.55 1417.41 1899.18 1401.69 1899.51 1396.76C1899.83 1391.84 1900.35 1393.5 1901.03 1392.66C1901.71 1391.81 1902.73 1391.68 1903.57 1391.68C1904.42 1391.68 1905.49 1391.81 1906.12 1392.66C1906.74 1393.5 1907.13 1391.8 1907.33 1396.76C1907.53 1401.72 1906.91 1417.58 1907.3 1422.42C1907.7 1427.26 1908.91 1425.81 1909.71 1425.81C1910.52 1425.81 1911.66 1427.31 1912.12 1422.42C1912.59 1417.53 1912.19 1401.47 1912.5 1396.46C1912.81 1391.44 1913.32 1393.2 1913.99 1392.35C1914.66 1391.5 1915.68 1391.37 1916.53 1391.37C1917.38 1391.37 1918.44 1391.5 1919.08 1392.35C1919.71 1393.2 1920.11 1391.36 1920.33 1396.46C1920.54 1401.56 1919.94 1417.97 1920.35 1422.95C1920.75 1427.93 1921.95 1426.34 1922.75 1426.34C1923.56 1426.34 1924.72 1427.85 1925.16 1422.95C1925.61 1418.04 1925.14 1401.94 1925.42 1396.92C1925.7 1391.89 1926.17 1393.65 1926.83 1392.81C1927.48 1391.96 1928.52 1391.83 1929.37 1391.83C1930.22 1391.83 1931.27 1391.96 1931.91 1392.81C1932.56 1393.65 1933 1392.36 1933.24 1396.92C1933.49 1401.47 1932.96 1415.71 1933.39 1420.14C1933.81 1424.58 1934.99 1423.53 1935.8 1423.53C1936.6 1423.53 1937.78 1424.67 1938.2 1420.14C1938.63 1415.62 1938.11 1401.03 1938.36 1396.39C1938.61 1391.74 1939.05 1393.13 1939.7 1392.28C1940.35 1391.43 1941.4 1391.3 1942.24 1391.3C1943.09 1391.3 1944.13 1391.43 1944.79 1392.28C1945.44 1393.13 1945.91 1391.41 1946.19 1396.39C1946.46 1401.36 1945.99 1417.27 1946.43 1422.12C1946.87 1426.98 1948.04 1425.51 1948.84 1425.51C1949.64 1425.51 1950.75 1426.83 1951.25 1422.12C1951.74 1417.42 1951.44 1402.12 1951.8 1397.29C1952.16 1392.47 1952.72 1394.03 1953.41 1393.18C1954.1 1392.34 1955.11 1392.21 1955.95 1392.21C1956.8 1392.21 1957.89 1392.34 1958.5 1393.18C1959.11 1394.03 1959.5 1391.32 1959.63 1397.29C1959.76 1403.26 1959.37 1419.22 1959.27 1429C1959.18 1438.78 1959.17 1445.67 1959.07 1456C1958.97 1466.33 1958.84 1480.67 1958.67 1491C1958.51 1501.33 1958.17 1513.5 1958.07 1518C1958.07 1525.15 1954.72 1531 1946.27 1531L1886.19 1531C1877.74 1531 1874.39 1525.15 1874.39 1518Z" fill="#FBE8C6" stroke="#B07A3A" stroke-width="2.3" stroke-linejoin="round"/>
<path d="M1962.37 1518C1962.27 1513.5 1961.94 1501.33 1961.77 1491C1961.61 1480.67 1961.47 1466.33 1961.37 1456C1961.27 1445.67 1961.16 1438.91 1961.17 1429C1961.19 1419.09 1961.15 1402.64 1961.46 1396.54C1961.77 1390.45 1962.33 1393.28 1963.02 1392.43C1963.7 1391.59 1964.71 1391.46 1965.56 1391.46C1966.41 1391.46 1967.48 1391.59 1968.1 1392.43C1968.72 1393.28 1969.1 1391.61 1969.28 1396.54C1969.47 1401.48 1968.81 1417.23 1969.2 1422.04C1969.58 1426.86 1970.8 1425.43 1971.61 1425.43C1972.41 1425.43 1973.51 1426.73 1974.01 1422.04C1974.52 1417.35 1974.25 1402.12 1974.63 1397.31C1975 1392.51 1975.57 1394.05 1976.27 1393.2C1976.97 1392.36 1977.96 1392.23 1978.81 1392.23C1979.66 1392.23 1980.75 1392.36 1981.36 1393.2C1981.96 1394.05 1982.3 1392.65 1982.45 1397.31C1982.6 1401.97 1981.87 1416.62 1982.24 1421.16C1982.61 1425.7 1983.85 1424.55 1984.65 1424.55C1985.45 1424.55 1986.53 1425.69 1987.06 1421.16C1987.59 1416.63 1987.41 1402.03 1987.83 1397.38C1988.25 1392.73 1988.86 1394.12 1989.58 1393.27C1990.29 1392.42 1991.27 1392.29 1992.12 1392.29C1992.97 1392.29 1994.08 1392.42 1994.66 1393.27C1995.25 1394.12 1995.55 1392.56 1995.65 1397.38C1995.76 1402.2 1994.94 1417.48 1995.28 1422.17C1995.62 1426.87 1996.89 1425.57 1997.69 1425.57C1998.49 1425.57 1999.66 1426.85 2000.1 1422.17C2000.54 1417.5 2000.06 1402.31 2000.33 1397.52C2000.61 1392.72 2001.07 1394.26 2001.73 1393.41C2002.38 1392.56 2003.42 1392.43 2004.27 1392.43C2005.12 1392.43 2006.16 1392.56 2006.81 1393.41C2007.46 1394.26 2007.91 1392.81 2008.16 1397.52C2008.41 1402.23 2007.89 1417.07 2008.32 1421.66C2008.75 1426.25 2009.93 1425.05 2010.73 1425.05C2011.53 1425.05 2012.62 1426.46 2013.14 1421.66C2013.66 1416.86 2013.46 1401.17 2013.87 1396.25C2014.27 1391.33 2014.87 1392.99 2015.58 1392.14C2016.3 1391.3 2017.28 1391.17 2018.13 1391.17C2018.98 1391.17 2020.08 1391.3 2020.67 1392.14C2021.26 1392.99 2021.57 1391.17 2021.69 1396.25C2021.81 1401.33 2021.02 1417.66 2021.37 1422.62C2021.71 1427.58 2022.97 1426.01 2023.77 1426.01C2024.58 1426.01 2025.7 1427.5 2026.18 1422.62C2026.66 1417.74 2026.31 1401.75 2026.65 1396.75C2026.98 1391.75 2027.51 1393.49 2028.19 1392.64C2028.87 1391.79 2029.89 1391.66 2030.73 1391.66C2031.58 1391.66 2032.66 1391.79 2033.28 1392.64C2033.9 1393.49 2034.28 1391.83 2034.47 1396.75C2034.66 1401.67 2034.02 1417.38 2034.41 1422.18C2034.8 1426.99 2036.01 1425.57 2036.82 1425.57C2037.62 1425.57 2038.73 1426.92 2039.22 1422.18C2039.72 1417.45 2039.41 1402.01 2039.76 1397.15C2040.12 1392.3 2040.67 1393.89 2041.35 1393.05C2042.04 1392.2 2043.05 1392.07 2043.9 1392.07C2044.75 1392.07 2045.83 1392.2 2046.44 1393.05C2047.06 1393.89 2047.45 1391.16 2047.59 1397.15C2047.72 1403.15 2047.34 1419.19 2047.25 1429C2047.16 1438.81 2047.15 1445.67 2047.05 1456C2046.95 1466.33 2046.82 1480.67 2046.65 1491C2046.48 1501.33 2046.15 1513.5 2046.05 1518C2046.05 1525.15 2042.7 1531 2034.25 1531L1974.17 1531C1965.72 1531 1962.37 1525.15 1962.37 1518Z" fill="#FBE8C6" stroke="#B07A3A" stroke-width="2.3" stroke-linejoin="round"/>
<g fill="#F7C877"><circle cx="1298.6" cy="1495.6" r="18.2"/><circle cx="1386.8" cy="1495" r="18.2"/><circle cx="1475" cy="1494.3" r="18.2"/><circle cx="1563.3" cy="1493.75" r="18.2"/><circle cx="1651.6" cy="1493" r="18.2"/><circle cx="1739.8" cy="1494" r="18.2"/><circle cx="1828" cy="1494" r="18.2"/><circle cx="1916" cy="1493.75" r="18.2"/><circle cx="2004.75" cy="1493" r="18.2"/></g>
<path d="M114.34 1057.67L113.63 1057.74L112.7 1057.89L111.67 1058.06L110.57 1058.22L109.48 1058.32L108.47 1058.32L107.62 1058.22L106.98 1057.99L106.29 1057.57L105.46 1056.94L104.61 1056.17L103.81 1055.3L103.11 1054.38L102.55 1053.47L102.18 1052.63L102.03 1051.93L102.05 1051.22L102.26 1050.3L102.66 1049.25L103.2 1048.14L103.85 1047.01L104.56 1045.94L105.27 1044.95L105.9 1044.14L106.47 1043.57L107.1 1043.1L107.83 1042.69L108.65 1042.29L109.54 1041.89L110.46 1041.43L111.37 1040.85L112.17 1040.16L112.83 1039.48L113.43 1038.83L114.02 1038.13L114.58 1037.38L115.07 1036.55L115.48 1035.64L115.75 1034.64L115.87 1033.54L115.76 1032.32L115.43 1031.08L114.98 1029.82L114.47 1028.58L113.96 1027.37L113.51 1026.24L113.19 1025.25L113.03 1024.43L113 1023.72L113.03 1023.06L113.13 1022.47L113.28 1021.92L113.49 1021.38L113.77 1020.83L114.1 1020.27L114.47 1019.7L114.9 1019.15L115.47 1018.6L116.15 1018.05L116.89 1017.48L117.64 1016.91L118.37 1016.32L119.03 1015.71L119.55 1015.08L119.97 1014.47L120.37 1013.86L120.73 1013.23L121.03 1012.58L121.24 1011.92L121.3 1011.23L121.19 1010.54L120.87 1009.88L120.27 1009.25L119.42 1008.65L118.41 1008.06L117.3 1007.49L116.19 1006.95L115.16 1006.48L114.3 1006.09L113.71 1005.8L113.49 1006.2L114.08 1006.54L114.92 1006.97L115.92 1007.49L117 1008.06L118.06 1008.66L119.01 1009.26L119.74 1009.85L120.17 1010.35L120.34 1010.79L120.36 1011.22L120.27 1011.68L120.08 1012.17L119.79 1012.69L119.42 1013.23L119.01 1013.77L118.59 1014.3L118.12 1014.79L117.52 1015.28L116.81 1015.78L116.04 1016.3L115.25 1016.84L114.48 1017.41L113.76 1018.02L113.16 1018.68L112.68 1019.31L112.25 1019.92L111.87 1020.56L111.53 1021.24L111.26 1021.97L111.07 1022.77L110.96 1023.64L110.94 1024.62L111.09 1025.74L111.42 1026.95L111.84 1028.18L112.3 1029.43L112.74 1030.63L113.08 1031.75L113.28 1032.71L113.3 1033.46L113.18 1034.08L112.97 1034.66L112.67 1035.2L112.29 1035.73L111.83 1036.25L111.29 1036.78L110.7 1037.32L110.12 1037.83L109.56 1038.22L108.92 1038.56L108.15 1038.93L107.27 1039.33L106.31 1039.8L105.31 1040.37L104.33 1041.1L103.44 1041.99L102.66 1042.99L101.86 1044.09L101.07 1045.31L100.32 1046.6L99.66 1047.96L99.14 1049.36L98.82 1050.79L98.78 1052.24L99.08 1053.65L99.65 1054.98L100.41 1056.23L101.31 1057.4L102.31 1058.48L103.36 1059.44L104.45 1060.27L105.59 1060.94L106.89 1061.4L108.27 1061.58L109.63 1061.58L110.95 1061.46L112.17 1061.29L113.24 1061.11L114.07 1060.98L114.66 1060.92Z" fill="#45AE82"/><path d="M190.96 1049.78C190.42 1046.64 189.54 1040.71 187.43 1037.72C185.33 1034.72 181.56 1032.84 178.35 1031.8C175.13 1030.76 173.56 1030.6 168.16 1031.45C162.76 1032.31 152.69 1035.05 145.93 1036.93C139.18 1038.82 132.26 1040.98 127.63 1042.77C123 1044.56 120.53 1045.59 118.16 1047.67C115.8 1049.74 114.03 1052.52 113.44 1055.23C112.85 1057.95 113.41 1061.26 114.64 1063.96C115.88 1066.67 116.63 1070.19 120.86 1071.46C125.1 1072.72 133.88 1071.69 140.04 1071.55C146.2 1071.4 152.23 1070.91 157.8 1070.61C163.37 1070.31 168.67 1070.85 173.45 1069.77C178.23 1068.69 183.61 1066.34 186.48 1064.13C189.34 1061.92 189.92 1058.91 190.67 1056.52C191.42 1054.12 191.5 1052.91 190.96 1049.78Z" fill="#9AD0B5" stroke="#45AE82" stroke-width="3.2"/>
<path d="M171.32 1147.85L171.95 1147.8L172.81 1147.75L173.85 1147.68L175.01 1147.6L176.24 1147.5L177.47 1147.37L178.66 1147.2L179.73 1147L180.66 1146.79L181.54 1146.59L182.41 1146.36L183.29 1146.09L184.18 1145.75L185.08 1145.32L185.99 1144.79L186.86 1144.08L187.73 1143.24L188.55 1142.3L189.33 1141.31L190.1 1140.26L190.87 1139.2L191.64 1138.13L192.42 1137.09L193.24 1136.08L194.09 1135.07L194.97 1134.03L195.86 1132.99L196.76 1131.95L197.7 1130.9L198.66 1129.85L199.65 1128.81L200.68 1127.78L201.83 1126.7L203.12 1125.54L204.5 1124.36L205.88 1123.18L207.21 1122.07L208.4 1121.07L209.41 1120.22L210.14 1119.58L209.86 1119.22L209.07 1119.8L208.01 1120.57L206.75 1121.49L205.36 1122.53L203.9 1123.62L202.46 1124.74L201.08 1125.83L199.85 1126.86L198.72 1127.83L197.64 1128.82L196.58 1129.81L195.56 1130.8L194.56 1131.79L193.59 1132.76L192.63 1133.72L191.68 1134.67L190.74 1135.66L189.83 1136.67L188.95 1137.68L188.1 1138.66L187.27 1139.57L186.47 1140.39L185.7 1141.08L184.95 1141.63L184.22 1142.05L183.55 1142.44L182.9 1142.75L182.23 1143L181.52 1143.22L180.76 1143.42L179.93 1143.61L179.07 1143.8L178.14 1143.98L177.08 1144.13L175.93 1144.25L174.76 1144.35L173.63 1144.42L172.6 1144.49L171.72 1144.55L171.06 1144.6Z" fill="#45AE82"/><path d="M95.13 1151.03C95.45 1154.16 95.92 1160.07 97.78 1163.17C99.65 1166.27 103.24 1168.38 106.34 1169.63C109.43 1170.88 110.97 1171.15 116.36 1170.68C121.75 1170.21 131.86 1168.2 138.65 1166.81C145.45 1165.41 152.42 1163.75 157.11 1162.31C161.8 1160.86 164.31 1160.02 166.78 1158.14C169.26 1156.25 171.2 1153.64 171.97 1151C172.73 1148.36 172.41 1145.06 171.38 1142.31C170.35 1139.56 169.85 1136.03 165.76 1134.49C161.67 1132.95 152.94 1133.36 146.85 1133.08C140.77 1132.79 134.78 1132.87 129.27 1132.77C123.76 1132.68 118.57 1131.79 113.78 1132.52C108.99 1133.26 103.53 1135.21 100.55 1137.19C97.57 1139.17 96.79 1142.1 95.89 1144.41C94.99 1146.72 94.82 1147.91 95.13 1151.03Z" fill="#9AD0B5" stroke="#45AE82" stroke-width="3.2"/>
<path d="M262.54 1253.38L263.11 1253.5L263.91 1253.73L264.93 1254.03L266.1 1254.34L267.37 1254.61L268.7 1254.77L270.07 1254.75L271.39 1254.46L272.59 1253.94L273.74 1253.26L274.88 1252.44L275.98 1251.51L277 1250.47L277.88 1249.33L278.6 1248.1L279.07 1246.76L279.2 1245.33L279.05 1243.9L278.7 1242.48L278.22 1241.08L277.64 1239.72L277.01 1238.45L276.36 1237.28L275.71 1236.22L274.95 1235.24L274.07 1234.41L273.17 1233.73L272.29 1233.17L271.48 1232.68L270.78 1232.22L270.19 1231.82L269.7 1231.37L269.19 1230.81L268.67 1230.22L268.22 1229.64L267.83 1229.08L267.52 1228.53L267.29 1227.97L267.15 1227.39L267.11 1226.78L267.21 1226.05L267.52 1225.15L267.98 1224.1L268.55 1222.97L269.14 1221.81L269.7 1220.66L270.16 1219.52L270.44 1218.44L270.53 1217.48L270.53 1216.62L270.43 1215.82L270.25 1215.07L270 1214.37L269.7 1213.71L269.36 1213.06L268.96 1212.39L268.45 1211.68L267.83 1211L267.14 1210.35L266.43 1209.74L265.74 1209.14L265.11 1208.57L264.59 1208.02L264.19 1207.49L263.84 1206.93L263.5 1206.35L263.21 1205.79L262.98 1205.25L262.85 1204.75L262.81 1204.3L262.89 1203.88L263.1 1203.47L263.57 1203.03L264.36 1202.55L265.35 1202.07L266.45 1201.61L267.57 1201.18L268.6 1200.8L269.47 1200.47L270.08 1200.21L269.92 1199.79L269.3 1200L268.42 1200.28L267.37 1200.62L266.22 1201.01L265.08 1201.43L264.02 1201.89L263.12 1202.38L262.47 1202.92L262.07 1203.53L261.88 1204.19L261.86 1204.87L261.98 1205.54L262.2 1206.21L262.48 1206.86L262.79 1207.51L263.13 1208.15L263.57 1208.83L264.14 1209.5L264.78 1210.16L265.45 1210.8L266.1 1211.44L266.69 1212.06L267.18 1212.66L267.54 1213.25L267.83 1213.84L268.09 1214.43L268.29 1214.99L268.43 1215.54L268.52 1216.09L268.54 1216.68L268.5 1217.32L268.38 1218.01L268.13 1218.79L267.7 1219.71L267.13 1220.76L266.5 1221.87L265.85 1223.03L265.27 1224.19L264.8 1225.37L264.55 1226.54L264.54 1227.64L264.69 1228.65L264.97 1229.59L265.36 1230.45L265.81 1231.25L266.31 1232L266.82 1232.71L267.38 1233.45L268.08 1234.22L268.9 1234.9L269.75 1235.44L270.56 1235.94L271.31 1236.42L271.98 1236.91L272.54 1237.43L273.02 1238.06L273.54 1238.92L274.11 1239.96L274.67 1241.09L275.17 1242.25L275.57 1243.4L275.83 1244.47L275.93 1245.38L275.87 1246.07L275.64 1246.72L275.19 1247.49L274.54 1248.31L273.75 1249.12L272.87 1249.87L271.96 1250.52L271.08 1251.04L270.36 1251.37L269.72 1251.51L268.89 1251.51L267.91 1251.39L266.85 1251.17L265.81 1250.89L264.82 1250.6L263.94 1250.35L263.25 1250.19Z" fill="#45AE82"/><path d="M189.56 1234.73C190.4 1231.74 191.87 1226.06 194.22 1223.37C196.57 1220.67 200.42 1219.23 203.65 1218.54C206.88 1217.86 208.43 1217.86 213.59 1219.25C218.75 1220.63 228.26 1224.32 234.63 1226.84C241 1229.37 247.51 1232.18 251.83 1234.39C256.14 1236.6 258.44 1237.85 260.53 1240.11C262.61 1242.37 264.05 1245.25 264.35 1247.95C264.64 1250.65 263.76 1253.81 262.28 1256.31C260.8 1258.81 259.71 1262.16 255.47 1262.96C251.23 1263.75 242.79 1261.85 236.82 1261.09C230.85 1260.32 225.04 1259.22 219.66 1258.36C214.27 1257.5 209.07 1257.49 204.53 1255.95C200 1254.41 195.01 1251.57 192.45 1249.13C189.89 1246.69 189.64 1243.71 189.15 1241.31C188.67 1238.91 188.71 1237.72 189.56 1234.73Z" fill="#9AD0B5" stroke="#45AE82" stroke-width="3.2"/>
<path d="M333.48 1051.48L332.88 1051.79L332 1052.18L330.88 1052.66L329.62 1053.24L328.32 1053.93L327.04 1054.75L325.87 1055.75L324.95 1056.93L324.3 1058.24L323.78 1059.67L323.37 1061.21L323.09 1062.82L322.96 1064.47L323.01 1066.09L323.27 1067.67L323.83 1069.15L324.73 1070.46L325.89 1071.6L327.22 1072.58L328.66 1073.46L330.15 1074.22L331.64 1074.88L333.05 1075.44L334.39 1075.9L335.75 1076.2L337.11 1076.28L338.38 1076.22L339.56 1076.07L340.64 1075.91L341.61 1075.8L342.45 1075.73L343.25 1075.77L344.12 1075.9L345.02 1076.05L345.85 1076.23L346.62 1076.46L347.32 1076.73L347.96 1077.08L348.53 1077.52L349.04 1078.06L349.49 1078.81L349.89 1079.86L350.25 1081.14L350.58 1082.56L350.9 1084.02L351.25 1085.45L351.67 1086.78L352.2 1087.92L352.8 1088.82L353.43 1089.57L354.09 1090.2L354.78 1090.72L355.5 1091.16L356.25 1091.52L357.02 1091.84L357.85 1092.15L358.81 1092.41L359.86 1092.55L360.93 1092.62L362.01 1092.65L363.06 1092.67L364.04 1092.72L364.92 1092.82L365.67 1093L366.39 1093.25L367.12 1093.52L367.8 1093.81L368.4 1094.13L368.89 1094.48L369.26 1094.87L369.51 1095.32L369.62 1095.85L369.52 1096.61L369.17 1097.61L368.64 1098.77L368 1099.99L367.32 1101.19L366.68 1102.29L366.15 1103.21L365.8 1103.89L366.2 1104.11L366.58 1103.47L367.15 1102.57L367.84 1101.49L368.56 1100.31L369.26 1099.09L369.85 1097.91L370.28 1096.82L370.46 1095.87L370.36 1095.06L370.05 1094.36L369.57 1093.76L368.98 1093.26L368.3 1092.84L367.58 1092.47L366.83 1092.14L366.06 1091.82L365.18 1091.55L364.19 1091.38L363.15 1091.28L362.08 1091.2L361.04 1091.12L360.05 1091.01L359.16 1090.84L358.4 1090.58L357.69 1090.27L357.03 1089.94L356.43 1089.59L355.88 1089.2L355.39 1088.77L354.92 1088.26L354.47 1087.65L354.06 1086.94L353.69 1086.05L353.39 1084.9L353.12 1083.55L352.86 1082.09L352.57 1080.61L352.23 1079.16L351.78 1077.79L351.16 1076.6L350.38 1075.65L349.53 1074.89L348.61 1074.29L347.65 1073.83L346.67 1073.46L345.7 1073.17L344.73 1072.93L343.7 1072.69L342.54 1072.53L341.35 1072.54L340.21 1072.68L339.12 1072.84L338.09 1072.97L337.12 1073.02L336.21 1072.97L335.29 1072.76L334.18 1072.38L332.9 1071.87L331.56 1071.28L330.25 1070.61L329.03 1069.87L328 1069.1L327.21 1068.34L326.72 1067.64L326.43 1066.84L326.26 1065.79L326.22 1064.56L326.33 1063.24L326.56 1061.9L326.9 1060.64L327.3 1059.51L327.72 1058.66L328.22 1058.02L328.98 1057.38L329.96 1056.75L331.07 1056.16L332.21 1055.64L333.3 1055.17L334.26 1054.75L334.97 1054.39Z" fill="#91612F"/><path d="M333.71 1056.24C335.24 1058.2 338.1 1061.34 340.56 1062.53C343.01 1063.73 343.8 1064.51 348.45 1063.43C353.1 1062.34 361.45 1058.59 368.44 1056.04C375.43 1053.49 384.38 1050.4 390.39 1048.13C396.4 1045.87 400.91 1044.43 404.49 1042.44C408.08 1040.46 410.2 1039.13 411.91 1036.21C413.61 1033.28 415.03 1028.95 414.71 1024.9C414.4 1020.86 412.45 1015.23 410 1011.94C407.54 1008.65 404 1006.25 399.97 1005.17C395.94 1004.1 391.05 1004.35 385.82 1005.51C380.58 1006.68 374.45 1009.23 368.55 1012.17C362.65 1015.1 355.86 1019.35 350.42 1023.12C344.98 1026.88 339.1 1031.33 335.91 1034.74C332.72 1038.16 332.04 1040.9 331.29 1043.58C330.53 1046.26 330.97 1048.71 331.37 1050.82C331.78 1052.93 332.18 1054.29 333.71 1056.24Z" fill="#C9A75D" stroke="#91612F" stroke-width="3.2"/>
<path d="M358.01 1152.54L357.45 1152.86L356.69 1153.27L355.75 1153.77L354.72 1154.33L353.63 1154.94L352.55 1155.58L351.53 1156.24L350.63 1156.87L349.86 1157.46L349.15 1158.01L348.44 1158.59L347.74 1159.21L347.07 1159.9L346.42 1160.67L345.81 1161.53L345.3 1162.56L344.86 1163.69L344.5 1164.9L344.2 1166.15L343.93 1167.43L343.68 1168.73L343.42 1170.03L343.13 1171.32L342.81 1172.6L342.45 1173.89L342.08 1175.21L341.7 1176.54L341.3 1177.89L340.89 1179.24L340.44 1180.61L339.97 1181.99L339.45 1183.37L338.85 1184.84L338.15 1186.45L337.38 1188.12L336.6 1189.79L335.85 1191.36L335.17 1192.79L334.6 1193.99L334.2 1194.9L334.6 1195.1L335.09 1194.24L335.74 1193.09L336.51 1191.7L337.35 1190.17L338.22 1188.54L339.08 1186.91L339.89 1185.32L340.59 1183.86L341.22 1182.49L341.8 1181.12L342.35 1179.77L342.87 1178.42L343.37 1177.1L343.86 1175.79L344.33 1174.5L344.81 1173.23L345.26 1171.93L345.67 1170.61L346.05 1169.31L346.42 1168.05L346.8 1166.87L347.19 1165.77L347.61 1164.81L348.07 1163.99L348.56 1163.29L349.01 1162.65L349.49 1162.09L350 1161.57L350.56 1161.07L351.17 1160.57L351.85 1160.05L352.56 1159.5L353.35 1158.95L354.26 1158.37L355.26 1157.77L356.3 1157.19L357.31 1156.64L358.23 1156.14L359.02 1155.72L359.6 1155.39Z" fill="#91612F"/><path d="M355.58 1151.4C355.08 1148.89 354.53 1144.55 355.24 1141.83C355.94 1139.1 355.86 1137.96 359.82 1135.04C363.78 1132.13 372.31 1128.09 378.99 1124.32C385.67 1120.55 394.08 1115.6 399.88 1112.41C405.68 1109.22 409.82 1106.65 413.78 1105.17C417.73 1103.69 420.19 1102.91 423.62 1103.53C427.06 1104.15 431.41 1105.94 434.36 1108.9C437.32 1111.85 440.43 1117.14 441.36 1121.27C442.29 1125.4 441.81 1129.78 439.96 1133.66C438.1 1137.53 434.63 1141.2 430.22 1144.52C425.8 1147.85 419.69 1150.94 413.44 1153.6C407.2 1156.26 399.32 1158.74 392.73 1160.48C386.14 1162.23 378.71 1163.85 373.9 1164.07C369.1 1164.28 366.49 1162.98 363.88 1161.78C361.28 1160.58 359.66 1158.59 358.27 1156.86C356.89 1155.14 356.09 1153.91 355.58 1151.4Z" fill="#C9A75D" stroke="#91612F" stroke-width="3.2"/>
<path d="M560.51 1026.81L561.16 1026.61L562.09 1026.4L563.27 1026.14L564.61 1025.8L566.01 1025.37L567.41 1024.81L568.73 1024.05L569.86 1023.06L570.74 1021.9L571.51 1020.61L572.19 1019.18L572.76 1017.65L573.2 1016.07L573.45 1014.47L573.48 1012.88L573.22 1011.33L572.58 1009.88L571.66 1008.56L570.54 1007.35L569.3 1006.23L567.98 1005.2L566.65 1004.28L565.37 1003.48L564.15 1002.78L562.88 1002.24L561.57 1001.9L560.31 1001.73L559.13 1001.65L558.05 1001.61L557.08 1001.54L556.25 1001.45L555.48 1001.27L554.66 1000.98L553.81 1000.66L553.02 1000.33L552.31 999.97L551.68 999.57L551.13 999.12L550.65 998.58L550.25 997.96L549.95 997.15L549.76 996.05L549.65 994.73L549.59 993.29L549.55 991.8L549.47 990.34L549.31 988.97L549 987.76L548.57 986.76L548.1 985.91L547.57 985.18L546.99 984.53L546.37 983.98L545.71 983.48L545.02 983.03L544.26 982.57L543.37 982.15L542.38 981.81L541.34 981.55L540.29 981.32L539.27 981.1L538.32 980.87L537.49 980.61L536.78 980.29L536.12 979.91L535.46 979.52L534.86 979.11L534.33 978.69L533.92 978.26L533.63 977.8L533.47 977.32L533.46 976.78L533.7 976.07L534.22 975.15L534.95 974.12L535.8 973.05L536.69 972L537.52 971.05L538.21 970.24L538.67 969.64L538.33 969.36L537.83 969.91L537.11 970.68L536.24 971.61L535.31 972.63L534.41 973.69L533.61 974.73L532.99 975.72L532.64 976.61L532.58 977.42L532.76 978.16L533.11 978.83L533.6 979.43L534.18 979.97L534.82 980.46L535.49 980.92L536.19 981.38L536.99 981.8L537.93 982.16L538.93 982.45L539.95 982.73L540.96 983L541.9 983.29L542.73 983.62L543.43 984.01L544.06 984.45L544.65 984.89L545.17 985.35L545.63 985.82L546.03 986.34L546.39 986.92L546.72 987.6L546.99 988.37L547.18 989.31L547.26 990.48L547.28 991.85L547.26 993.32L547.26 994.82L547.32 996.3L547.51 997.72L547.9 999L548.48 1000.07L549.18 1000.97L549.96 1001.73L550.81 1002.36L551.7 1002.9L552.6 1003.36L553.5 1003.78L554.46 1004.21L555.56 1004.58L556.73 1004.79L557.87 1004.87L558.96 1004.91L559.99 1004.98L560.95 1005.1L561.82 1005.32L562.68 1005.7L563.69 1006.28L564.85 1007L566.05 1007.83L567.2 1008.73L568.25 1009.67L569.12 1010.61L569.75 1011.5L570.09 1012.27L570.23 1013.11L570.2 1014.17L570.01 1015.37L569.66 1016.64L569.19 1017.9L568.63 1019.07L568.02 1020.09L567.46 1020.85L566.85 1021.38L565.99 1021.86L564.92 1022.3L563.73 1022.66L562.52 1022.96L561.37 1023.22L560.35 1023.45L559.59 1023.67Z" fill="#91612F"/><path d="M561.2 1022.24C560.15 1020.1 558.09 1016.58 556.03 1014.97C553.96 1013.36 553.38 1012.47 548.8 1012.56C544.22 1012.65 535.63 1014.5 528.57 1015.5C521.5 1016.5 512.49 1017.62 506.4 1018.54C500.31 1019.47 495.79 1019.92 492.03 1021.07C488.27 1022.22 486.02 1023.04 483.83 1025.44C481.65 1027.84 479.45 1031.63 478.94 1035.49C478.44 1039.35 479.14 1045.01 480.79 1048.59C482.44 1052.16 485.28 1055.13 488.84 1056.94C492.41 1058.75 497.05 1059.49 502.19 1059.44C507.34 1059.39 513.6 1058.22 519.72 1056.64C525.84 1055.06 533.06 1052.43 538.91 1049.98C544.77 1047.54 551.17 1044.53 554.84 1041.97C558.52 1039.4 559.7 1036.96 560.95 1034.6C562.19 1032.24 562.26 1029.85 562.31 1027.79C562.35 1025.73 562.24 1024.37 561.2 1022.24Z" fill="#C9A75D" stroke="#91612F" stroke-width="3.2"/>
<path d="M587.52 1143.58L588.11 1143.79L588.9 1144.1L589.87 1144.47L590.95 1144.88L592.09 1145.29L593.25 1145.69L594.39 1146.03L595.43 1146.29L596.35 1146.48L597.22 1146.66L598.1 1146.82L599 1146.94L599.94 1147L600.93 1146.99L601.96 1146.89L603.05 1146.61L604.17 1146.21L605.29 1145.71L606.41 1145.14L607.53 1144.52L608.66 1143.88L609.79 1143.24L610.92 1142.63L612.07 1142.06L613.26 1141.5L614.47 1140.94L615.7 1140.37L616.94 1139.8L618.21 1139.24L619.51 1138.7L620.83 1138.18L622.18 1137.68L623.65 1137.18L625.29 1136.68L627.01 1136.18L628.74 1135.7L630.39 1135.25L631.88 1134.85L633.13 1134.5L634.05 1134.22L633.95 1133.78L633 1133.97L631.73 1134.22L630.22 1134.53L628.54 1134.88L626.78 1135.27L625.02 1135.67L623.34 1136.08L621.8 1136.49L620.39 1136.9L619.01 1137.34L617.65 1137.79L616.33 1138.26L615.02 1138.73L613.75 1139.2L612.49 1139.67L611.24 1140.13L609.99 1140.62L608.76 1141.16L607.55 1141.7L606.38 1142.22L605.27 1142.7L604.21 1143.1L603.23 1143.4L602.33 1143.58L601.5 1143.66L600.75 1143.73L600.03 1143.74L599.33 1143.69L598.6 1143.59L597.84 1143.46L597.02 1143.29L596.17 1143.11L595.26 1142.88L594.25 1142.58L593.17 1142.21L592.08 1141.82L591.03 1141.42L590.08 1141.05L589.26 1140.74L588.65 1140.51Z" fill="#91612F"/><path d="M588.19 1146.21C586.58 1148.23 583.58 1151.47 581.01 1152.69C578.44 1153.91 577.62 1154.72 572.79 1153.55C567.96 1152.38 559.3 1148.4 552.04 1145.68C544.79 1142.96 535.51 1139.66 529.27 1137.25C523.04 1134.84 518.36 1133.3 514.65 1131.2C510.93 1129.1 508.74 1127.7 506.99 1124.64C505.24 1121.58 503.8 1117.06 504.17 1112.85C504.54 1108.64 506.61 1102.8 509.2 1099.4C511.79 1096.01 515.49 1093.53 519.69 1092.45C523.9 1091.37 528.98 1091.67 534.42 1092.93C539.86 1094.19 546.22 1096.91 552.33 1100.02C558.44 1103.12 565.48 1107.61 571.1 1111.58C576.73 1115.54 582.81 1120.23 586.1 1123.81C589.39 1127.39 590.07 1130.26 590.83 1133.05C591.59 1135.85 591.11 1138.39 590.67 1140.58C590.23 1142.77 589.8 1144.19 588.19 1146.21Z" fill="#C9A75D" stroke="#91612F" stroke-width="3.2"/>
<path d="M352.44 1243.16L351.68 1243.18L350.68 1243.26L349.55 1243.36L348.36 1243.43L347.17 1243.45L346.07 1243.36L345.15 1243.18L344.45 1242.87L343.73 1242.35L342.88 1241.59L342.03 1240.68L341.24 1239.68L340.55 1238.62L340.02 1237.58L339.7 1236.63L339.58 1235.84L339.67 1235.05L339.98 1234.06L340.5 1232.96L341.18 1231.79L341.98 1230.64L342.83 1229.53L343.68 1228.53L344.43 1227.71L345.1 1227.13L345.83 1226.68L346.67 1226.28L347.59 1225.93L348.57 1225.57L349.59 1225.16L350.61 1224.63L351.52 1223.96L352.27 1223.29L352.98 1222.64L353.67 1221.95L354.32 1221.2L354.92 1220.37L355.42 1219.44L355.8 1218.4L356.02 1217.24L356 1215.95L355.76 1214.59L355.39 1213.22L354.95 1211.84L354.5 1210.5L354.12 1209.25L353.85 1208.15L353.75 1207.24L353.78 1206.46L353.88 1205.75L354.04 1205.12L354.25 1204.53L354.53 1203.96L354.87 1203.4L355.28 1202.82L355.73 1202.24L356.25 1201.68L356.91 1201.14L357.69 1200.6L358.53 1200.05L359.39 1199.51L360.22 1198.94L360.97 1198.35L361.59 1197.72L362.09 1197.1L362.57 1196.48L363.02 1195.84L363.39 1195.18L363.66 1194.48L363.79 1193.76L363.74 1193.02L363.45 1192.29L362.86 1191.58L362.01 1190.86L360.97 1190.13L359.83 1189.43L358.69 1188.76L357.62 1188.17L356.74 1187.67L356.12 1187.31L355.88 1187.69L356.48 1188.1L357.35 1188.64L358.38 1189.27L359.49 1189.97L360.58 1190.71L361.55 1191.44L362.29 1192.13L362.72 1192.71L362.86 1193.2L362.86 1193.68L362.72 1194.18L362.47 1194.69L362.11 1195.23L361.67 1195.77L361.18 1196.33L360.69 1196.86L360.14 1197.36L359.45 1197.83L358.65 1198.32L357.78 1198.82L356.89 1199.33L356.01 1199.87L355.2 1200.47L354.5 1201.12L353.94 1201.76L353.44 1202.37L352.97 1203.02L352.56 1203.72L352.21 1204.48L351.94 1205.31L351.76 1206.22L351.66 1207.26L351.72 1208.47L351.97 1209.78L352.33 1211.14L352.72 1212.51L353.09 1213.85L353.37 1215.09L353.51 1216.15L353.47 1216.97L353.28 1217.64L353 1218.26L352.63 1218.83L352.17 1219.37L351.63 1219.9L351.01 1220.43L350.32 1220.97L349.65 1221.47L349.01 1221.86L348.28 1222.18L347.42 1222.51L346.44 1222.87L345.38 1223.29L344.27 1223.81L343.16 1224.5L342.15 1225.38L341.23 1226.37L340.29 1227.48L339.34 1228.72L338.43 1230.04L337.61 1231.43L336.94 1232.87L336.48 1234.36L336.32 1235.89L336.52 1237.4L337.02 1238.86L337.72 1240.25L338.58 1241.58L339.55 1242.81L340.6 1243.92L341.68 1244.89L342.83 1245.7L344.16 1246.29L345.61 1246.6L347.06 1246.71L348.47 1246.7L349.8 1246.61L350.96 1246.51L351.87 1246.43L352.51 1246.42Z" fill="#91612F"/><path d="M350.52 1242.28C350.9 1239.95 351.83 1236.03 353.31 1233.91C354.8 1231.79 355.1 1230.78 359.45 1229.54C363.81 1228.3 372.47 1227.57 379.45 1226.47C386.42 1225.37 395.27 1223.82 401.3 1222.93C407.33 1222.05 411.73 1221.17 415.62 1221.17C419.52 1221.17 421.89 1221.29 424.65 1222.93C427.41 1224.58 430.58 1227.52 432.18 1231.03C433.78 1234.53 434.75 1240.09 434.23 1243.95C433.7 1247.81 431.87 1251.44 429.02 1254.18C426.16 1256.93 422 1258.97 417.11 1260.41C412.23 1261.86 405.97 1262.55 399.72 1262.83C393.48 1263.11 385.88 1262.71 379.63 1262.09C373.39 1261.47 366.46 1260.48 362.24 1259.11C358.03 1257.75 356.2 1255.78 354.34 1253.9C352.48 1252.03 351.72 1249.8 351.08 1247.86C350.45 1245.92 350.15 1244.6 350.52 1242.28Z" fill="#C9A75D" stroke="#91612F" stroke-width="3.2"/>
<path d="M501.02 1215.56L500.37 1215.85L499.5 1216.22L498.43 1216.68L497.24 1217.19L496 1217.75L494.76 1218.34L493.58 1218.95L492.54 1219.56L491.65 1220.12L490.82 1220.66L489.99 1221.21L489.18 1221.82L488.39 1222.49L487.61 1223.26L486.87 1224.14L486.22 1225.19L485.62 1226.38L485.11 1227.65L484.65 1228.97L484.23 1230.34L483.82 1231.74L483.4 1233.13L482.96 1234.52L482.47 1235.88L481.95 1237.25L481.41 1238.66L480.86 1240.07L480.29 1241.51L479.7 1242.95L479.07 1244.4L478.41 1245.85L477.71 1247.31L476.91 1248.87L475.97 1250.55L474.97 1252.3L473.95 1254.04L472.97 1255.69L472.08 1257.18L471.34 1258.43L470.81 1259.38L471.19 1259.62L471.81 1258.72L472.62 1257.52L473.6 1256.08L474.66 1254.48L475.77 1252.79L476.87 1251.09L477.9 1249.43L478.81 1247.9L479.61 1246.46L480.38 1245.03L481.11 1243.6L481.81 1242.18L482.48 1240.78L483.13 1239.39L483.77 1238.03L484.41 1236.69L485.02 1235.31L485.59 1233.91L486.13 1232.53L486.65 1231.19L487.17 1229.92L487.7 1228.76L488.26 1227.73L488.84 1226.86L489.45 1226.14L490.01 1225.48L490.6 1224.9L491.21 1224.37L491.88 1223.88L492.61 1223.38L493.4 1222.88L494.24 1222.35L495.15 1221.82L496.21 1221.27L497.37 1220.71L498.56 1220.18L499.72 1219.68L500.78 1219.22L501.68 1218.84L502.35 1218.54Z" fill="#91612F"/><path d="M498.96 1214.23C498.8 1211.8 498.82 1207.64 499.83 1205.16C500.83 1202.68 500.89 1201.6 504.98 1199.34C509.08 1197.08 517.62 1194.34 524.38 1191.61C531.14 1188.88 539.68 1185.27 545.54 1182.98C551.4 1180.69 555.63 1178.78 559.54 1177.88C563.45 1176.98 565.87 1176.55 569.02 1177.56C572.18 1178.57 576.06 1180.8 578.48 1183.95C580.9 1187.1 583.17 1192.47 583.54 1196.48C583.9 1200.48 582.91 1204.55 580.67 1207.98C578.44 1211.4 574.72 1214.42 570.15 1217.01C565.57 1219.59 559.44 1221.75 553.22 1223.48C547 1225.21 539.27 1226.57 532.84 1227.39C526.41 1228.22 519.21 1228.83 514.66 1228.44C510.1 1228.05 507.8 1226.49 505.5 1225.04C503.19 1223.58 501.91 1221.51 500.82 1219.71C499.73 1217.91 499.13 1216.65 498.96 1214.23Z" fill="#C9A75D" stroke="#91612F" stroke-width="3.2"/>
<path d="M493.35 1353.85L493.91 1354.23L494.67 1354.82L495.64 1355.58L496.75 1356.41L497.99 1357.22L499.32 1357.95L500.76 1358.5L502.25 1358.75L503.71 1358.69L505.22 1358.46L506.77 1358.08L508.33 1357.55L509.83 1356.88L511.25 1356.06L512.5 1355.07L513.54 1353.87L514.27 1352.45L514.71 1350.89L514.94 1349.24L515.02 1347.55L514.97 1345.87L514.84 1344.25L514.65 1342.73L514.41 1341.33L514.03 1339.99L513.45 1338.76L512.78 1337.67L512.09 1336.7L511.43 1335.82L510.86 1335.02L510.39 1334.32L510.05 1333.6L509.75 1332.76L509.45 1331.9L509.21 1331.07L509.03 1330.29L508.94 1329.54L508.94 1328.81L509.06 1328.1L509.29 1327.39L509.73 1326.63L510.47 1325.77L511.43 1324.84L512.52 1323.88L513.65 1322.89L514.74 1321.9L515.71 1320.89L516.46 1319.87L516.96 1318.91L517.32 1318L517.56 1317.12L517.69 1316.25L517.72 1315.41L517.69 1314.58L517.6 1313.75L517.47 1312.86L517.24 1311.9L516.86 1310.91L516.4 1309.93L515.91 1308.97L515.43 1308.03L515 1307.14L514.67 1306.32L514.47 1305.57L514.34 1304.81L514.23 1304.04L514.16 1303.31L514.15 1302.63L514.23 1302.02L514.39 1301.51L514.67 1301.07L515.09 1300.72L515.8 1300.45L516.85 1300.27L518.13 1300.18L519.51 1300.16L520.89 1300.18L522.16 1300.22L523.23 1300.24L524 1300.22L524 1299.78L523.25 1299.74L522.19 1299.67L520.91 1299.59L519.52 1299.52L518.11 1299.49L516.78 1299.53L515.62 1299.68L514.7 1299.97L514.03 1300.45L513.56 1301.06L513.27 1301.77L513.12 1302.53L513.07 1303.33L513.09 1304.14L513.16 1304.96L513.25 1305.79L513.43 1306.7L513.76 1307.65L514.16 1308.62L514.61 1309.59L515.04 1310.56L515.41 1311.48L515.69 1312.34L515.83 1313.14L515.89 1313.91L515.92 1314.65L515.9 1315.35L515.83 1316.01L515.68 1316.66L515.46 1317.32L515.13 1318L514.71 1318.71L514.1 1319.46L513.23 1320.28L512.17 1321.17L511.02 1322.1L509.84 1323.06L508.73 1324.05L507.74 1325.11L507 1326.23L506.53 1327.37L506.27 1328.48L506.19 1329.58L506.23 1330.65L506.38 1331.68L506.6 1332.68L506.85 1333.65L507.13 1334.67L507.54 1335.76L508.13 1336.81L508.79 1337.75L509.46 1338.63L510.06 1339.48L510.58 1340.31L510.97 1341.14L511.23 1342.05L511.42 1343.21L511.6 1344.58L511.71 1346.04L511.75 1347.52L511.69 1348.94L511.51 1350.23L511.22 1351.29L510.83 1352.05L510.27 1352.69L509.42 1353.35L508.35 1353.97L507.14 1354.51L505.85 1354.95L504.58 1355.26L503.39 1355.45L502.44 1355.49L501.63 1355.36L500.7 1355L499.68 1354.43L498.63 1353.73L497.62 1352.98L496.68 1352.25L495.85 1351.6L495.19 1351.15Z" fill="#91612F"/><path d="M497.36 1351.4C498.33 1349.17 499.69 1345.24 499.58 1342.56C499.46 1339.89 499.76 1338.85 496.66 1335.35C493.55 1331.86 486.41 1326.42 480.95 1321.59C475.49 1316.77 468.64 1310.51 463.88 1306.39C459.12 1302.28 455.78 1299.07 452.39 1296.91C449.01 1294.75 446.87 1293.55 443.56 1293.45C440.25 1293.35 435.85 1294.15 432.52 1296.31C429.18 1298.48 425.25 1302.78 423.56 1306.43C421.88 1310.08 421.46 1314.26 422.42 1318.23C423.39 1322.2 425.88 1326.29 429.33 1330.25C432.78 1334.22 437.85 1338.3 443.13 1342C448.42 1345.71 455.25 1349.57 461.03 1352.5C466.82 1355.42 473.4 1358.4 477.82 1359.55C482.25 1360.7 484.94 1360 487.59 1359.4C490.25 1358.8 492.15 1357.28 493.78 1355.95C495.41 1354.61 496.4 1353.63 497.36 1351.4Z" fill="#C9A75D" stroke="#91612F" stroke-width="3.2"/>
<path d="M789.42 1067.09L790.11 1067.07L791.08 1067.11L792.31 1067.17L793.71 1067.19L795.2 1067.14L796.72 1066.96L798.22 1066.57L799.58 1065.9L800.75 1064.99L801.85 1063.92L802.9 1062.7L803.86 1061.36L804.7 1059.92L805.38 1058.43L805.83 1056.88L805.98 1055.29L805.74 1053.71L805.19 1052.17L804.41 1050.68L803.49 1049.25L802.47 1047.9L801.41 1046.64L800.36 1045.52L799.35 1044.51L798.25 1043.64L797.06 1042.96L795.87 1042.46L794.73 1042.08L793.68 1041.74L792.74 1041.42L791.95 1041.11L791.24 1040.73L790.51 1040.22L789.76 1039.68L789.07 1039.15L788.47 1038.61L787.95 1038.04L787.53 1037.45L787.2 1036.79L786.97 1036.07L786.9 1035.19L787 1034.06L787.24 1032.73L787.57 1031.3L787.92 1029.83L788.23 1028.38L788.43 1026.98L788.45 1025.71L788.3 1024.62L788.06 1023.67L787.74 1022.81L787.34 1022.03L786.88 1021.31L786.36 1020.65L785.8 1020.02L785.18 1019.37L784.42 1018.72L783.53 1018.13L782.59 1017.6L781.62 1017.09L780.68 1016.61L779.8 1016.13L779.05 1015.65L778.45 1015.15L777.9 1014.61L777.35 1014.04L776.87 1013.48L776.46 1012.93L776.17 1012.39L776 1011.86L775.98 1011.35L776.11 1010.81L776.54 1010.17L777.3 1009.41L778.29 1008.59L779.41 1007.76L780.55 1006.97L781.62 1006.25L782.51 1005.64L783.13 1005.18L782.87 1004.82L782.24 1005.23L781.32 1005.8L780.23 1006.48L779.04 1007.23L777.87 1008.04L776.81 1008.85L775.94 1009.65L775.36 1010.43L775.1 1011.21L775.07 1011.98L775.24 1012.74L775.56 1013.45L775.99 1014.13L776.49 1014.78L777.02 1015.41L777.58 1016.05L778.26 1016.68L779.09 1017.27L779.99 1017.83L780.92 1018.36L781.84 1018.9L782.69 1019.44L783.42 1019.98L784.01 1020.55L784.51 1021.15L784.97 1021.74L785.36 1022.32L785.69 1022.91L785.95 1023.53L786.15 1024.2L786.29 1024.95L786.36 1025.78L786.29 1026.76L786.06 1027.94L785.72 1029.28L785.31 1030.72L784.91 1032.2L784.58 1033.67L784.39 1035.11L784.44 1036.46L784.72 1037.67L785.16 1038.73L785.73 1039.68L786.4 1040.52L787.13 1041.28L787.89 1041.98L788.66 1042.63L789.49 1043.3L790.47 1043.95L791.56 1044.47L792.66 1044.84L793.71 1045.18L794.71 1045.52L795.62 1045.9L796.43 1046.35L797.17 1046.94L798.01 1047.78L798.96 1048.8L799.92 1049.93L800.81 1051.13L801.6 1052.33L802.2 1053.49L802.58 1054.53L802.72 1055.38L802.63 1056.25L802.32 1057.29L801.81 1058.42L801.13 1059.58L800.33 1060.69L799.47 1061.69L798.6 1062.54L797.84 1063.13L797.1 1063.5L796.13 1063.75L794.95 1063.89L793.69 1063.93L792.41 1063.9L791.22 1063.85L790.15 1063.81L789.35 1063.83Z" fill="#4D8EC6"/><path d="M707.24 1060.3C707.62 1056.92 708.17 1050.54 710.22 1047.21C712.27 1043.88 716.17 1041.63 719.52 1040.31C722.88 1038.99 724.55 1038.72 730.36 1039.28C736.18 1039.84 747.09 1042.1 754.41 1043.67C761.74 1045.24 769.26 1047.1 774.31 1048.7C779.36 1050.31 782.07 1051.24 784.72 1053.3C787.38 1055.36 789.45 1058.2 790.26 1061.06C791.06 1063.92 790.68 1067.48 789.54 1070.45C788.4 1073.41 787.83 1077.22 783.4 1078.84C778.96 1080.47 769.53 1079.94 762.96 1080.19C756.38 1080.44 749.91 1080.3 743.96 1080.35C738 1080.4 732.38 1081.31 727.22 1080.47C722.05 1079.63 716.17 1077.47 712.96 1075.31C709.76 1073.14 708.95 1069.97 708 1067.46C707.04 1064.96 706.87 1063.67 707.24 1060.3Z" fill="#8ACFEC" stroke="#4D8EC6" stroke-width="3.2"/>
<path d="M661.31 1166.54L660.68 1167L659.89 1167.65L659.01 1168.39L658.06 1169.14L657.07 1169.84L656.1 1170.42L655.22 1170.79L654.45 1170.94L653.54 1170.92L652.4 1170.78L651.16 1170.52L649.91 1170.14L648.72 1169.65L647.68 1169.09L646.85 1168.48L646.29 1167.88L645.9 1167.17L645.59 1166.16L645.38 1164.93L645.28 1163.56L645.27 1162.14L645.34 1160.72L645.47 1159.39L645.63 1158.27L645.85 1157.39L646.2 1156.58L646.67 1155.77L647.23 1154.94L647.84 1154.07L648.46 1153.14L649 1152.1L649.37 1151.03L649.61 1150.03L649.82 1149.08L650 1148.11L650.11 1147.1L650.13 1146.06L650.01 1145L649.72 1143.92L649.24 1142.83L648.48 1141.76L647.49 1140.77L646.38 1139.84L645.22 1138.94L644.07 1138.08L643.02 1137.26L642.16 1136.49L641.55 1135.79L641.13 1135.12L640.79 1134.47L640.56 1133.85L640.4 1133.23L640.3 1132.6L640.26 1131.92L640.27 1131.2L640.3 1130.46L640.42 1129.69L640.66 1128.85L640.99 1127.95L641.38 1127.01L641.78 1126.05L642.14 1125.1L642.43 1124.17L642.58 1123.29L642.64 1122.48L642.68 1121.68L642.68 1120.89L642.61 1120.12L642.44 1119.39L642.13 1118.71L641.65 1118.13L640.99 1117.69L640.09 1117.43L638.96 1117.32L637.68 1117.32L636.32 1117.39L634.97 1117.5L633.74 1117.62L632.72 1117.72L631.99 1117.78L632.01 1118.22L632.75 1118.22L633.78 1118.17L635.02 1118.1L636.35 1118.04L637.68 1118.02L638.92 1118.07L639.94 1118.21L640.63 1118.45L641.04 1118.77L641.31 1119.18L641.49 1119.67L641.58 1120.25L641.59 1120.91L641.54 1121.62L641.45 1122.37L641.35 1123.1L641.18 1123.83L640.88 1124.63L640.5 1125.5L640.06 1126.42L639.61 1127.36L639.2 1128.32L638.86 1129.29L638.66 1130.23L638.56 1131.09L638.5 1131.9L638.48 1132.71L638.54 1133.53L638.69 1134.36L638.95 1135.21L639.32 1136.08L639.84 1137.01L640.6 1137.97L641.57 1138.92L642.65 1139.85L643.77 1140.77L644.85 1141.67L645.81 1142.54L646.54 1143.35L646.98 1144.06L647.22 1144.73L647.35 1145.41L647.37 1146.11L647.3 1146.83L647.16 1147.59L646.94 1148.39L646.68 1149.23L646.42 1150.04L646.1 1150.74L645.68 1151.43L645.15 1152.22L644.54 1153.08L643.9 1154.04L643.28 1155.12L642.76 1156.34L642.42 1157.65L642.23 1159.01L642.09 1160.49L642.01 1162.06L642.02 1163.69L642.14 1165.33L642.42 1166.92L642.89 1168.42L643.64 1169.79L644.68 1170.92L645.94 1171.85L647.33 1172.6L648.81 1173.21L650.34 1173.68L651.85 1174L653.32 1174.18L654.74 1174.19L656.19 1173.91L657.57 1173.33L658.84 1172.58L660.01 1171.75L661.07 1170.92L661.98 1170.16L662.69 1169.57L663.23 1169.19Z" fill="#4D8EC6"/><path d="M728.62 1117.7C726.42 1115.06 722.39 1109.99 718.81 1108.33C715.23 1106.66 710.69 1106.94 707.12 1107.7C703.55 1108.46 701.99 1109.16 697.41 1112.88C692.82 1116.59 684.88 1124.58 679.59 1129.99C674.29 1135.4 668.99 1141.16 665.63 1145.33C662.26 1149.5 660.51 1151.8 659.42 1155.02C658.33 1158.23 658.17 1161.79 659.08 1164.64C660 1167.5 662.31 1170.29 664.92 1172.15C667.54 1174.01 670.14 1176.9 674.78 1175.8C679.42 1174.7 687.08 1168.99 692.76 1165.53C698.44 1162.08 703.81 1158.35 708.86 1155.07C713.91 1151.79 719.15 1149.43 723.04 1145.84C726.92 1142.25 730.68 1137.15 732.17 1133.53C733.66 1129.92 732.57 1126.79 731.98 1124.16C731.39 1121.52 730.81 1120.33 728.62 1117.7Z" fill="#8ACFEC" stroke="#4D8EC6" stroke-width="3.2"/>
<path d="M810.04 1194.51L810.66 1194L811.51 1193.32L812.55 1192.5L813.69 1191.59L814.88 1190.6L816.06 1189.59L817.17 1188.57L818.12 1187.61L818.92 1186.73L819.68 1185.89L820.42 1185.04L821.12 1184.15L821.78 1183.18L822.39 1182.12L822.94 1180.95L823.34 1179.63L823.64 1178.17L823.83 1176.64L823.95 1175.06L824.01 1173.43L824.05 1171.78L824.1 1170.12L824.18 1168.47L824.32 1166.82L824.5 1165.16L824.67 1163.46L824.86 1161.74L825.07 1160L825.29 1158.24L825.55 1156.46L825.85 1154.67L826.19 1152.86L826.62 1150.91L827.14 1148.78L827.73 1146.56L828.34 1144.36L828.93 1142.26L829.46 1140.36L829.91 1138.76L830.22 1137.56L829.78 1137.44L829.38 1138.6L828.85 1140.17L828.22 1142.04L827.53 1144.11L826.83 1146.3L826.14 1148.5L825.51 1150.63L824.98 1152.58L824.53 1154.4L824.13 1156.2L823.76 1157.99L823.43 1159.75L823.11 1161.49L822.82 1163.2L822.53 1164.89L822.24 1166.56L821.98 1168.25L821.78 1169.95L821.61 1171.63L821.45 1173.25L821.27 1174.8L821.04 1176.25L820.75 1177.55L820.37 1178.7L819.92 1179.7L819.49 1180.62L819.02 1181.44L818.49 1182.21L817.89 1182.97L817.24 1183.73L816.51 1184.53L815.75 1185.36L814.9 1186.23L813.9 1187.15L812.78 1188.11L811.63 1189.05L810.51 1189.95L809.49 1190.76L808.61 1191.45L807.97 1191.98Z" fill="#4D8EC6"/><path d="M740.65 1242.21C742.77 1244.96 746.66 1250.21 750.22 1252.02C753.78 1253.83 758.37 1253.71 762 1253.07C765.63 1252.43 767.23 1251.77 771.99 1248.18C776.76 1244.59 785.05 1236.8 790.59 1231.53C796.13 1226.25 801.69 1220.62 805.23 1216.52C808.78 1212.43 810.63 1210.18 811.85 1206.96C813.06 1203.75 813.35 1200.17 812.52 1197.25C811.7 1194.34 809.47 1191.43 806.89 1189.46C804.31 1187.49 801.79 1184.48 797.06 1185.43C792.34 1186.38 784.4 1191.88 778.54 1195.17C772.69 1198.46 767.13 1202.03 761.91 1205.16C756.7 1208.3 751.32 1210.5 747.27 1213.99C743.22 1217.48 739.25 1222.5 737.62 1226.09C735.99 1229.69 736.97 1232.89 737.48 1235.57C737.98 1238.26 738.52 1239.47 740.65 1242.21Z" fill="#8ACFEC" stroke="#4D8EC6" stroke-width="3.2"/>
<path d="M1313.28 1080.23L1312.59 1080.32L1311.7 1080.5L1310.7 1080.7L1309.64 1080.88L1308.58 1081.01L1307.59 1081.05L1306.78 1080.97L1306.15 1080.77L1305.47 1080.39L1304.65 1079.8L1303.8 1079.08L1303 1078.26L1302.29 1077.39L1301.72 1076.52L1301.34 1075.72L1301.17 1075.06L1301.17 1074.37L1301.35 1073.48L1301.7 1072.45L1302.2 1071.35L1302.79 1070.24L1303.45 1069.17L1304.11 1068.19L1304.7 1067.39L1305.23 1066.82L1305.82 1066.35L1306.52 1065.92L1307.31 1065.51L1308.16 1065.09L1309.04 1064.63L1309.92 1064.03L1310.68 1063.33L1311.29 1062.64L1311.86 1061.99L1312.42 1061.29L1312.94 1060.54L1313.39 1059.71L1313.76 1058.81L1314 1057.82L1314.08 1056.74L1313.93 1055.55L1313.58 1054.34L1313.1 1053.14L1312.56 1051.94L1312.03 1050.78L1311.56 1049.7L1311.21 1048.75L1311.03 1047.96L1310.98 1047.27L1310.99 1046.63L1311.06 1046.05L1311.2 1045.51L1311.39 1044.98L1311.63 1044.45L1311.94 1043.89L1312.28 1043.32L1312.68 1042.78L1313.22 1042.23L1313.86 1041.66L1314.56 1041.09L1315.28 1040.51L1315.97 1039.92L1316.59 1039.3L1317.08 1038.67L1317.47 1038.06L1317.84 1037.45L1318.18 1036.83L1318.45 1036.19L1318.63 1035.53L1318.67 1034.86L1318.54 1034.19L1318.2 1033.55L1317.6 1032.96L1316.75 1032.39L1315.75 1031.85L1314.65 1031.33L1313.55 1030.84L1312.54 1030.42L1311.69 1030.06L1311.1 1029.8L1310.9 1030.2L1311.48 1030.51L1312.31 1030.91L1313.3 1031.39L1314.37 1031.91L1315.42 1032.46L1316.36 1033.02L1317.09 1033.56L1317.52 1034.04L1317.69 1034.46L1317.73 1034.88L1317.66 1035.33L1317.48 1035.81L1317.21 1036.32L1316.87 1036.85L1316.49 1037.39L1316.09 1037.92L1315.65 1038.41L1315.08 1038.9L1314.41 1039.41L1313.68 1039.94L1312.92 1040.49L1312.19 1041.07L1311.5 1041.69L1310.94 1042.34L1310.49 1042.97L1310.09 1043.58L1309.73 1044.22L1309.43 1044.89L1309.18 1045.61L1309.02 1046.4L1308.94 1047.25L1308.95 1048.21L1309.13 1049.3L1309.48 1050.47L1309.94 1051.66L1310.42 1052.85L1310.88 1054.02L1311.25 1055.1L1311.47 1056.02L1311.51 1056.74L1311.41 1057.34L1311.22 1057.9L1310.95 1058.44L1310.6 1058.96L1310.16 1059.48L1309.66 1060L1309.1 1060.55L1308.55 1061.06L1308.02 1061.45L1307.41 1061.8L1306.67 1062.19L1305.83 1062.6L1304.91 1063.08L1303.95 1063.67L1303.01 1064.42L1302.17 1065.32L1301.44 1066.32L1300.7 1067.41L1299.96 1068.62L1299.27 1069.91L1298.67 1071.25L1298.2 1072.63L1297.93 1074.04L1297.93 1075.47L1298.28 1076.84L1298.88 1078.12L1299.66 1079.32L1300.57 1080.44L1301.57 1081.46L1302.63 1082.37L1303.72 1083.14L1304.85 1083.77L1306.14 1084.17L1307.5 1084.31L1308.83 1084.27L1310.11 1084.11L1311.29 1083.91L1312.33 1083.7L1313.14 1083.54L1313.71 1083.47Z" fill="#45AE82"/><path d="M1388.44 1074.51C1387.99 1071.43 1387.28 1065.62 1385.3 1062.64C1383.32 1059.66 1379.69 1057.73 1376.57 1056.62C1373.46 1055.52 1371.93 1055.33 1366.63 1056.03C1361.33 1056.72 1351.42 1059.14 1344.78 1060.81C1338.13 1062.48 1331.31 1064.42 1326.75 1066.05C1322.18 1067.68 1319.74 1068.62 1317.37 1070.58C1315.01 1072.55 1313.21 1075.22 1312.56 1077.86C1311.92 1080.5 1312.38 1083.74 1313.52 1086.42C1314.66 1089.09 1315.3 1092.55 1319.4 1093.9C1323.51 1095.24 1332.12 1094.45 1338.13 1094.47C1344.15 1094.49 1350.06 1094.16 1355.51 1094.01C1360.96 1093.87 1366.13 1094.53 1370.82 1093.59C1375.52 1092.66 1380.83 1090.5 1383.69 1088.41C1386.55 1086.33 1387.19 1083.4 1387.98 1081.09C1388.77 1078.77 1388.88 1077.58 1388.44 1074.51Z" fill="#9AD0B5" stroke="#45AE82" stroke-width="3.2"/>
<path d="M1353.73 1150.76L1354.38 1150.72L1355.26 1150.68L1356.33 1150.64L1357.52 1150.58L1358.78 1150.5L1360.05 1150.4L1361.27 1150.25L1362.37 1150.07L1363.32 1149.87L1364.22 1149.69L1365.12 1149.47L1366.03 1149.21L1366.94 1148.89L1367.87 1148.47L1368.81 1147.95L1369.72 1147.24L1370.63 1146.4L1371.49 1145.47L1372.31 1144.46L1373.12 1143.42L1373.93 1142.34L1374.75 1141.27L1375.58 1140.22L1376.44 1139.2L1377.34 1138.18L1378.26 1137.15L1379.19 1136.1L1380.15 1135.05L1381.13 1133.99L1382.13 1132.94L1383.18 1131.9L1384.25 1130.87L1385.45 1129.79L1386.81 1128.63L1388.24 1127.45L1389.69 1126.28L1391.07 1125.17L1392.32 1124.17L1393.37 1123.33L1394.14 1122.68L1393.86 1122.32L1393.04 1122.89L1391.94 1123.66L1390.63 1124.58L1389.18 1125.61L1387.67 1126.7L1386.16 1127.82L1384.73 1128.91L1383.44 1129.93L1382.27 1130.9L1381.13 1131.89L1380.04 1132.88L1378.97 1133.88L1377.92 1134.87L1376.9 1135.84L1375.9 1136.81L1374.91 1137.76L1373.92 1138.75L1372.97 1139.77L1372.05 1140.78L1371.16 1141.77L1370.29 1142.68L1369.45 1143.51L1368.64 1144.2L1367.86 1144.75L1367.1 1145.17L1366.41 1145.55L1365.73 1145.86L1365.03 1146.11L1364.3 1146.31L1363.51 1146.5L1362.66 1146.68L1361.78 1146.86L1360.82 1147.02L1359.73 1147.15L1358.55 1147.25L1357.35 1147.32L1356.18 1147.38L1355.12 1147.42L1354.22 1147.46L1353.54 1147.5Z" fill="#45AE82"/><path d="M1277.58 1153.93C1277.9 1157.06 1278.37 1162.97 1280.23 1166.07C1282.1 1169.17 1285.69 1171.28 1288.79 1172.53C1291.88 1173.78 1293.42 1174.05 1298.81 1173.58C1304.2 1173.11 1314.31 1171.1 1321.1 1169.71C1327.9 1168.31 1334.87 1166.65 1339.56 1165.21C1344.25 1163.76 1346.76 1162.92 1349.23 1161.04C1351.71 1159.15 1353.65 1156.54 1354.42 1153.9C1355.18 1151.26 1354.86 1147.96 1353.83 1145.21C1352.8 1142.46 1352.3 1138.93 1348.21 1137.39C1344.12 1135.85 1335.39 1136.26 1329.3 1135.98C1323.22 1135.69 1317.23 1135.77 1311.72 1135.67C1306.21 1135.58 1301.02 1134.69 1296.23 1135.42C1291.44 1136.16 1285.98 1138.11 1283 1140.09C1280.02 1142.07 1279.24 1145 1278.34 1147.31C1277.44 1149.62 1277.27 1150.81 1277.58 1153.93Z" fill="#9AD0B5" stroke="#45AE82" stroke-width="3.2"/>
<path d="M1486.94 1141.69L1487.54 1141.79L1488.36 1141.94L1489.35 1142.12L1490.47 1142.32L1491.65 1142.51L1492.84 1142.68L1494 1142.81L1495.05 1142.87L1495.98 1142.89L1496.85 1142.91L1497.72 1142.9L1498.62 1142.85L1499.54 1142.74L1500.49 1142.55L1501.47 1142.26L1502.46 1141.8L1503.48 1141.21L1504.47 1140.52L1505.44 1139.76L1506.41 1138.96L1507.38 1138.14L1508.35 1137.32L1509.33 1136.52L1510.34 1135.76L1511.38 1135.01L1512.44 1134.24L1513.52 1133.47L1514.62 1132.7L1515.74 1131.93L1516.89 1131.17L1518.07 1130.43L1519.28 1129.7L1520.61 1128.95L1522.1 1128.17L1523.67 1127.38L1525.24 1126.6L1526.75 1125.87L1528.11 1125.21L1529.25 1124.64L1530.09 1124.2L1529.91 1123.8L1529.03 1124.14L1527.85 1124.62L1526.45 1125.19L1524.9 1125.83L1523.27 1126.52L1521.65 1127.23L1520.09 1127.93L1518.69 1128.6L1517.4 1129.26L1516.15 1129.93L1514.93 1130.61L1513.73 1131.3L1512.56 1131.99L1511.41 1132.67L1510.29 1133.35L1509.17 1134.02L1508.05 1134.72L1506.95 1135.46L1505.89 1136.2L1504.86 1136.91L1503.87 1137.58L1502.92 1138.15L1502.03 1138.62L1501.2 1138.95L1500.42 1139.17L1499.71 1139.38L1499.02 1139.52L1498.33 1139.6L1497.62 1139.64L1496.86 1139.64L1496.04 1139.63L1495.19 1139.61L1494.27 1139.56L1493.24 1139.44L1492.14 1139.29L1491.02 1139.1L1489.94 1138.91L1488.95 1138.73L1488.11 1138.58L1487.47 1138.47Z" fill="#45AE82"/><path d="M1412.71 1120.28C1412.01 1123.38 1410.56 1129.2 1411.35 1132.77C1412.15 1136.35 1414.92 1139.53 1417.48 1141.72C1420.05 1143.91 1421.45 1144.66 1426.76 1145.94C1432.08 1147.21 1442.43 1148.54 1449.39 1149.38C1456.36 1150.22 1463.58 1150.87 1468.54 1150.99C1473.5 1151.11 1476.18 1151.11 1479.16 1150.09C1482.14 1149.08 1484.84 1147.19 1486.42 1144.91C1488 1142.62 1488.75 1139.35 1488.65 1136.38C1488.54 1133.41 1489.19 1129.87 1485.77 1127.08C1482.34 1124.29 1473.83 1121.88 1468.08 1119.66C1462.34 1117.43 1456.57 1115.58 1451.32 1113.72C1446.06 1111.87 1441.36 1109.34 1436.54 1108.51C1431.71 1107.68 1425.84 1107.8 1422.35 1108.74C1418.85 1109.69 1417.17 1112.25 1415.56 1114.17C1413.95 1116.09 1413.41 1117.18 1412.71 1120.28Z" fill="#9AD0B5" stroke="#45AE82" stroke-width="3.2"/>
<path d="M1466.84 1210.55L1467.45 1210.65L1468.28 1210.8L1469.28 1210.97L1470.4 1211.17L1471.58 1211.35L1472.78 1211.51L1473.95 1211.63L1475.01 1211.68L1475.94 1211.7L1476.81 1211.71L1477.69 1211.7L1478.59 1211.64L1479.51 1211.52L1480.46 1211.33L1481.45 1211.03L1482.44 1210.56L1483.46 1209.96L1484.45 1209.26L1485.42 1208.49L1486.39 1207.68L1487.36 1206.85L1488.33 1206.02L1489.31 1205.21L1490.32 1204.44L1491.36 1203.68L1492.42 1202.9L1493.5 1202.12L1494.6 1201.34L1495.72 1200.56L1496.87 1199.79L1498.05 1199.03L1499.26 1198.29L1500.59 1197.54L1502.08 1196.74L1503.66 1195.93L1505.24 1195.14L1506.74 1194.4L1508.11 1193.72L1509.25 1193.15L1510.09 1192.7L1509.91 1192.3L1509.02 1192.65L1507.84 1193.14L1506.44 1193.72L1504.88 1194.38L1503.26 1195.08L1501.63 1195.8L1500.07 1196.52L1498.67 1197.2L1497.38 1197.87L1496.12 1198.55L1494.9 1199.24L1493.7 1199.94L1492.53 1200.65L1491.38 1201.34L1490.25 1202.03L1489.13 1202.71L1488.02 1203.42L1486.92 1204.17L1485.85 1204.92L1484.83 1205.65L1483.83 1206.32L1482.89 1206.91L1482 1207.38L1481.16 1207.72L1480.38 1207.95L1479.66 1208.16L1478.98 1208.3L1478.28 1208.39L1477.57 1208.43L1476.8 1208.44L1475.98 1208.44L1475.12 1208.42L1474.2 1208.38L1473.17 1208.27L1472.05 1208.12L1470.93 1207.94L1469.84 1207.76L1468.85 1207.58L1468 1207.43L1467.36 1207.33Z" fill="#45AE82"/><path d="M1392.96 1187.85C1392.21 1190.94 1390.66 1196.73 1391.39 1200.31C1392.12 1203.9 1394.83 1207.13 1397.36 1209.36C1399.89 1211.6 1401.28 1212.37 1406.57 1213.74C1411.87 1215.11 1422.19 1216.62 1429.13 1217.58C1436.08 1218.54 1443.29 1219.32 1448.25 1219.52C1453.21 1219.73 1455.88 1219.77 1458.88 1218.81C1461.88 1217.85 1464.61 1216.01 1466.23 1213.76C1467.85 1211.5 1468.67 1208.24 1468.61 1205.27C1468.55 1202.3 1469.27 1198.76 1465.89 1195.92C1462.51 1193.07 1454.04 1190.51 1448.34 1188.19C1442.64 1185.86 1436.9 1183.91 1431.68 1181.96C1426.45 1180.01 1421.81 1177.41 1416.99 1176.49C1412.18 1175.58 1406.31 1175.6 1402.8 1176.48C1399.29 1177.36 1397.56 1179.89 1395.92 1181.78C1394.28 1183.68 1393.72 1184.76 1392.96 1187.85Z" fill="#9AD0B5" stroke="#45AE82" stroke-width="3.2"/>
<path d="M1300.23 1262.02L1299.59 1262.12L1298.74 1262.27L1297.74 1262.45L1296.65 1262.63L1295.52 1262.8L1294.4 1262.95L1293.37 1263.05L1292.44 1263.09L1291.58 1263.11L1290.75 1263.11L1289.99 1263.1L1289.27 1263.05L1288.57 1262.96L1287.88 1262.82L1287.17 1262.6L1286.38 1262.37L1285.54 1262.03L1284.65 1261.55L1283.7 1260.95L1282.71 1260.28L1281.68 1259.54L1280.62 1258.79L1279.52 1258.03L1278.4 1257.31L1277.28 1256.63L1276.15 1255.94L1275 1255.23L1273.83 1254.52L1272.63 1253.82L1271.4 1253.12L1270.14 1252.43L1268.85 1251.76L1267.44 1251.07L1265.89 1250.34L1264.26 1249.61L1262.63 1248.9L1261.07 1248.24L1259.66 1247.65L1258.48 1247.16L1257.6 1246.8L1257.4 1247.2L1258.25 1247.65L1259.39 1248.23L1260.76 1248.91L1262.27 1249.66L1263.85 1250.46L1265.43 1251.28L1266.92 1252.08L1268.26 1252.85L1269.47 1253.59L1270.65 1254.36L1271.8 1255.13L1272.92 1255.92L1274.02 1256.7L1275.1 1257.49L1276.17 1258.28L1277.21 1259.04L1278.22 1259.82L1279.2 1260.63L1280.17 1261.47L1281.14 1262.31L1282.11 1263.12L1283.08 1263.89L1284.07 1264.6L1285.09 1265.2L1286.09 1265.68L1287.07 1265.98L1288.03 1266.18L1288.95 1266.3L1289.85 1266.36L1290.73 1266.38L1291.61 1266.37L1292.54 1266.36L1293.61 1266.31L1294.78 1266.19L1295.98 1266.03L1297.17 1265.85L1298.29 1265.66L1299.3 1265.49L1300.13 1265.34L1300.74 1265.25Z" fill="#45AE82"/><path d="M1370.63 1236.17C1371.65 1239.11 1373.7 1244.59 1373.33 1248.15C1372.95 1251.71 1370.61 1255.1 1368.36 1257.51C1366.11 1259.93 1364.84 1260.81 1359.82 1262.64C1354.8 1264.47 1344.89 1266.9 1338.23 1268.48C1331.56 1270.07 1324.62 1271.5 1319.81 1272.16C1315.01 1272.83 1312.41 1273.12 1309.41 1272.47C1306.4 1271.81 1303.57 1270.28 1301.78 1268.24C1299.99 1266.19 1298.9 1263.1 1298.67 1260.21C1298.45 1257.31 1297.42 1253.94 1300.44 1250.85C1303.46 1247.77 1311.46 1244.49 1316.79 1241.69C1322.12 1238.89 1327.52 1236.46 1332.42 1234.08C1337.32 1231.69 1341.59 1228.72 1346.19 1227.38C1350.79 1226.04 1356.5 1225.5 1359.99 1226.03C1363.49 1226.56 1365.41 1228.86 1367.18 1230.55C1368.96 1232.24 1369.6 1233.24 1370.63 1236.17Z" fill="#9AD0B5" stroke="#45AE82" stroke-width="3.2"/>
<path d="M1479.66 1275.48L1480.23 1275.5L1481.04 1275.58L1482.08 1275.69L1483.27 1275.79L1484.54 1275.82L1485.86 1275.74L1487.19 1275.48L1488.42 1274.97L1489.49 1274.25L1490.49 1273.39L1491.45 1272.4L1492.35 1271.3L1493.15 1270.11L1493.81 1268.85L1494.29 1267.53L1494.51 1266.14L1494.38 1264.74L1493.98 1263.37L1493.4 1262.05L1492.68 1260.78L1491.89 1259.57L1491.05 1258.45L1490.22 1257.43L1489.4 1256.51L1488.5 1255.7L1487.5 1255.05L1486.5 1254.55L1485.55 1254.16L1484.68 1253.83L1483.92 1253.51L1483.29 1253.23L1482.73 1252.89L1482.14 1252.43L1481.54 1251.95L1481 1251.47L1480.52 1251L1480.13 1250.52L1479.81 1250.03L1479.58 1249.49L1479.42 1248.91L1479.4 1248.2L1479.53 1247.27L1479.8 1246.17L1480.15 1244.98L1480.52 1243.76L1480.85 1242.54L1481.1 1241.36L1481.18 1240.27L1481.1 1239.32L1480.94 1238.49L1480.71 1237.73L1480.4 1237.03L1480.04 1236.4L1479.63 1235.8L1479.18 1235.24L1478.68 1234.66L1478.06 1234.06L1477.33 1233.51L1476.56 1233.01L1475.76 1232.54L1474.99 1232.08L1474.28 1231.64L1473.68 1231.2L1473.2 1230.76L1472.76 1230.28L1472.33 1229.78L1471.95 1229.29L1471.64 1228.81L1471.42 1228.35L1471.31 1227.92L1471.31 1227.5L1471.44 1227.08L1471.82 1226.57L1472.49 1225.97L1473.37 1225.33L1474.35 1224.69L1475.35 1224.08L1476.29 1223.52L1477.08 1223.05L1477.62 1222.69L1477.38 1222.31L1476.82 1222.62L1476.02 1223.05L1475.06 1223.56L1474.02 1224.13L1472.99 1224.75L1472.04 1225.38L1471.26 1226.01L1470.72 1226.65L1470.44 1227.31L1470.37 1227.98L1470.48 1228.64L1470.71 1229.28L1471.04 1229.88L1471.42 1230.47L1471.84 1231.03L1472.28 1231.6L1472.83 1232.18L1473.5 1232.73L1474.23 1233.25L1474.99 1233.76L1475.73 1234.26L1476.41 1234.76L1476.99 1235.25L1477.44 1235.76L1477.82 1236.28L1478.17 1236.81L1478.47 1237.31L1478.7 1237.82L1478.88 1238.34L1479 1238.9L1479.07 1239.52L1479.08 1240.21L1478.97 1241L1478.72 1241.97L1478.35 1243.08L1477.93 1244.27L1477.51 1245.5L1477.15 1246.73L1476.9 1247.96L1476.87 1249.14L1477.05 1250.21L1477.37 1251.16L1477.81 1252.02L1478.34 1252.79L1478.92 1253.49L1479.53 1254.12L1480.15 1254.72L1480.82 1255.34L1481.63 1255.97L1482.55 1256.48L1483.47 1256.86L1484.34 1257.19L1485.15 1257.53L1485.88 1257.89L1486.51 1258.29L1487.08 1258.81L1487.73 1259.54L1488.47 1260.45L1489.21 1261.44L1489.9 1262.48L1490.48 1263.52L1490.92 1264.5L1491.18 1265.36L1491.24 1266.04L1491.13 1266.7L1490.83 1267.52L1490.35 1268.43L1489.73 1269.35L1489.02 1270.23L1488.25 1271.01L1487.49 1271.66L1486.86 1272.1L1486.26 1272.35L1485.47 1272.5L1484.5 1272.56L1483.44 1272.53L1482.38 1272.44L1481.38 1272.33L1480.47 1272.24L1479.79 1272.21Z" fill="#45AE82"/><path d="M1404.11 1259.02C1404.87 1255.93 1406.17 1250.08 1408.47 1247.24C1410.78 1244.39 1414.67 1242.78 1417.95 1241.97C1421.23 1241.15 1422.81 1241.1 1428.14 1242.33C1433.47 1243.56 1443.32 1246.99 1449.92 1249.35C1456.53 1251.7 1463.28 1254.34 1467.78 1256.45C1472.27 1258.56 1474.66 1259.75 1476.88 1261.99C1479.09 1264.23 1480.67 1267.12 1481.07 1269.87C1481.46 1272.62 1480.68 1275.88 1479.25 1278.49C1477.83 1281.1 1476.84 1284.57 1472.53 1285.53C1468.21 1286.5 1459.52 1284.86 1453.39 1284.29C1447.26 1283.72 1441.27 1282.8 1435.74 1282.11C1430.2 1281.43 1424.87 1281.6 1420.18 1280.18C1415.49 1278.77 1410.29 1276.05 1407.59 1273.65C1404.88 1271.24 1404.51 1268.2 1403.93 1265.76C1403.36 1263.32 1403.36 1262.11 1404.11 1259.02Z" fill="#9AD0B5" stroke="#45AE82" stroke-width="3.2"/>
<path d="M1388.02 1340.72L1387.5 1341.02L1386.74 1341.41L1385.76 1341.91L1384.67 1342.5L1383.53 1343.19L1382.42 1344L1381.41 1344.98L1380.63 1346.12L1380.11 1347.35L1379.72 1348.66L1379.44 1350.08L1379.27 1351.55L1379.24 1353.04L1379.38 1354.51L1379.71 1355.93L1380.3 1357.26L1381.2 1358.41L1382.31 1359.38L1383.57 1360.2L1384.92 1360.91L1386.3 1361.52L1387.67 1362.03L1388.98 1362.45L1390.21 1362.79L1391.46 1362.99L1392.7 1362.99L1393.85 1362.86L1394.9 1362.66L1395.86 1362.46L1396.71 1362.31L1397.44 1362.2L1398.13 1362.19L1398.91 1362.25L1399.72 1362.34L1400.47 1362.45L1401.15 1362.6L1401.78 1362.8L1402.35 1363.06L1402.87 1363.41L1403.34 1363.84L1403.77 1364.46L1404.18 1365.36L1404.57 1366.48L1404.94 1367.72L1405.31 1369.01L1405.7 1370.27L1406.16 1371.44L1406.71 1372.44L1407.31 1373.23L1407.91 1373.87L1408.55 1374.4L1409.21 1374.84L1409.88 1375.19L1410.58 1375.48L1411.29 1375.72L1412.06 1375.95L1412.94 1376.12L1413.89 1376.19L1414.85 1376.19L1415.82 1376.15L1416.76 1376.12L1417.63 1376.1L1418.42 1376.14L1419.09 1376.26L1419.75 1376.44L1420.41 1376.64L1421.03 1376.85L1421.58 1377.1L1422.03 1377.38L1422.38 1377.7L1422.62 1378.08L1422.75 1378.53L1422.7 1379.2L1422.45 1380.11L1422.04 1381.17L1421.54 1382.29L1421 1383.4L1420.49 1384.42L1420.07 1385.28L1419.8 1385.9L1420.2 1386.1L1420.51 1385.5L1420.98 1384.67L1421.53 1383.67L1422.12 1382.58L1422.68 1381.45L1423.15 1380.36L1423.47 1379.36L1423.59 1378.5L1423.45 1377.76L1423.13 1377.14L1422.67 1376.62L1422.1 1376.2L1421.47 1375.86L1420.8 1375.56L1420.12 1375.31L1419.41 1375.06L1418.6 1374.86L1417.7 1374.76L1416.76 1374.72L1415.81 1374.7L1414.87 1374.69L1413.98 1374.64L1413.19 1374.53L1412.51 1374.35L1411.87 1374.1L1411.26 1373.84L1410.71 1373.56L1410.21 1373.25L1409.76 1372.9L1409.32 1372.47L1408.9 1371.96L1408.5 1371.36L1408.14 1370.59L1407.81 1369.59L1407.5 1368.41L1407.19 1367.12L1406.86 1365.8L1406.48 1364.52L1406 1363.31L1405.36 1362.26L1404.6 1361.43L1403.79 1360.78L1402.92 1360.28L1402.02 1359.91L1401.12 1359.63L1400.22 1359.42L1399.34 1359.25L1398.4 1359.09L1397.34 1359L1396.25 1359.08L1395.23 1359.26L1394.27 1359.46L1393.36 1359.63L1392.51 1359.73L1391.72 1359.73L1390.91 1359.6L1389.92 1359.32L1388.75 1358.95L1387.53 1358.49L1386.33 1357.97L1385.22 1357.38L1384.27 1356.76L1383.54 1356.15L1383.1 1355.58L1382.81 1354.91L1382.6 1354.01L1382.51 1352.93L1382.53 1351.76L1382.66 1350.58L1382.89 1349.44L1383.19 1348.43L1383.5 1347.67L1383.89 1347.1L1384.51 1346.51L1385.34 1345.9L1386.29 1345.33L1387.28 1344.8L1388.22 1344.32L1389.06 1343.89L1389.68 1343.53Z" fill="#45AE82"/><path d="M1457.25 1306.66C1458.58 1309.54 1461.21 1314.93 1461.18 1318.59C1461.14 1322.25 1459.1 1325.94 1457.04 1328.62C1454.98 1331.3 1453.78 1332.32 1448.84 1334.67C1443.9 1337.03 1434.06 1340.47 1427.42 1342.75C1420.79 1345.02 1413.86 1347.15 1409.03 1348.3C1404.2 1349.45 1401.58 1350 1398.46 1349.63C1395.33 1349.26 1392.3 1347.97 1390.27 1346.07C1388.25 1344.16 1386.84 1341.12 1386.32 1338.19C1385.81 1335.26 1384.43 1331.93 1387.21 1328.49C1389.98 1325.05 1397.81 1320.93 1402.96 1317.56C1408.11 1314.19 1413.37 1311.18 1418.13 1308.27C1422.88 1305.36 1426.95 1301.91 1431.5 1300.1C1436.05 1298.28 1441.81 1297.18 1445.43 1297.37C1449.04 1297.57 1451.22 1299.72 1453.19 1301.27C1455.17 1302.82 1455.92 1303.77 1457.25 1306.66Z" fill="#9AD0B5" stroke="#45AE82" stroke-width="3.2"/>
<path d="M1554.46 1207.62L1553.9 1207.93L1553.14 1208.35L1552.21 1208.85L1551.18 1209.41L1550.1 1210.02L1549.02 1210.66L1548 1211.31L1547.11 1211.95L1546.34 1212.54L1545.63 1213.09L1544.92 1213.67L1544.23 1214.29L1543.56 1214.97L1542.92 1215.74L1542.31 1216.61L1541.81 1217.63L1541.37 1218.76L1541.01 1219.97L1540.71 1221.21L1540.45 1222.49L1540.2 1223.79L1539.94 1225.09L1539.66 1226.38L1539.34 1227.65L1538.98 1228.93L1538.61 1230.25L1538.24 1231.58L1537.85 1232.92L1537.43 1234.28L1536.99 1235.64L1536.52 1237.01L1536.01 1238.39L1535.42 1239.87L1534.72 1241.47L1533.96 1243.14L1533.18 1244.8L1532.44 1246.37L1531.76 1247.8L1531.2 1248.99L1530.8 1249.9L1531.2 1250.1L1531.69 1249.24L1532.33 1248.09L1533.1 1246.71L1533.93 1245.18L1534.8 1243.56L1535.66 1241.92L1536.46 1240.34L1537.16 1238.88L1537.77 1237.51L1538.35 1236.15L1538.9 1234.8L1539.42 1233.46L1539.92 1232.13L1540.4 1230.83L1540.87 1229.54L1541.34 1228.27L1541.79 1226.98L1542.19 1225.66L1542.57 1224.37L1542.94 1223.11L1543.31 1221.93L1543.7 1220.84L1544.11 1219.88L1544.57 1219.05L1545.06 1218.36L1545.51 1217.73L1545.98 1217.16L1546.49 1216.65L1547.05 1216.15L1547.66 1215.64L1548.34 1215.12L1549.04 1214.58L1549.82 1214.02L1550.73 1213.44L1551.73 1212.85L1552.77 1212.26L1553.77 1211.71L1554.69 1211.22L1555.47 1210.79L1556.06 1210.47Z" fill="#91612F"/><path d="M1552.03 1206.48C1551.53 1203.97 1550.98 1199.63 1551.69 1196.9C1552.39 1194.17 1552.31 1193.04 1556.27 1190.12C1560.23 1187.2 1568.76 1183.17 1575.44 1179.39C1582.12 1175.62 1590.53 1170.68 1596.33 1167.49C1602.13 1164.29 1606.27 1161.72 1610.23 1160.24C1614.18 1158.76 1616.64 1157.99 1620.07 1158.61C1623.51 1159.23 1627.86 1161.02 1630.81 1163.97C1633.77 1166.93 1636.88 1172.22 1637.81 1176.34C1638.74 1180.47 1638.26 1184.86 1636.41 1188.73C1634.55 1192.61 1631.08 1196.27 1626.67 1199.6C1622.25 1202.92 1616.14 1206.01 1609.89 1208.67C1603.65 1211.33 1595.77 1213.81 1589.18 1215.56C1582.59 1217.3 1575.16 1218.93 1570.35 1219.14C1565.55 1219.36 1562.94 1218.05 1560.33 1216.85C1557.73 1215.65 1556.11 1213.67 1554.72 1211.94C1553.34 1210.21 1552.54 1208.98 1552.03 1206.48Z" fill="#C9A75D" stroke="#91612F" stroke-width="3.2"/>
<path d="M1720.58 1350.99L1721.11 1351.36L1721.83 1351.92L1722.74 1352.64L1723.79 1353.44L1724.97 1354.22L1726.24 1354.93L1727.61 1355.46L1729.04 1355.7L1730.44 1355.66L1731.88 1355.45L1733.36 1355.09L1734.85 1354.6L1736.29 1353.97L1737.64 1353.19L1738.85 1352.25L1739.86 1351.1L1740.56 1349.74L1740.99 1348.25L1741.22 1346.68L1741.3 1345.07L1741.27 1343.47L1741.16 1341.92L1740.98 1340.48L1740.76 1339.14L1740.4 1337.86L1739.86 1336.68L1739.22 1335.63L1738.57 1334.7L1737.95 1333.87L1737.41 1333.11L1736.98 1332.45L1736.66 1331.77L1736.37 1330.99L1736.1 1330.17L1735.87 1329.39L1735.71 1328.65L1735.62 1327.94L1735.63 1327.26L1735.73 1326.59L1735.95 1325.93L1736.37 1325.23L1737.06 1324.42L1737.98 1323.55L1739.01 1322.64L1740.09 1321.71L1741.13 1320.77L1742.06 1319.81L1742.78 1318.85L1743.27 1317.92L1743.61 1317.06L1743.84 1316.22L1743.97 1315.39L1744.01 1314.59L1743.98 1313.79L1743.9 1313L1743.78 1312.16L1743.56 1311.24L1743.2 1310.3L1742.77 1309.36L1742.31 1308.45L1741.86 1307.56L1741.46 1306.71L1741.15 1305.94L1740.96 1305.23L1740.84 1304.51L1740.74 1303.78L1740.67 1303.08L1740.67 1302.44L1740.74 1301.87L1740.9 1301.39L1741.16 1300.98L1741.55 1300.65L1742.22 1300.4L1743.22 1300.24L1744.43 1300.16L1745.74 1300.15L1747.04 1300.17L1748.25 1300.21L1749.27 1300.24L1750 1300.22L1750 1299.78L1749.29 1299.74L1748.28 1299.67L1747.07 1299.58L1745.75 1299.5L1744.41 1299.47L1743.15 1299.5L1742.05 1299.63L1741.17 1299.91L1740.53 1300.36L1740.07 1300.94L1739.78 1301.61L1739.63 1302.34L1739.58 1303.1L1739.6 1303.87L1739.66 1304.65L1739.74 1305.45L1739.91 1306.31L1740.21 1307.22L1740.59 1308.14L1741 1309.07L1741.4 1309.98L1741.75 1310.86L1742.01 1311.67L1742.14 1312.42L1742.19 1313.15L1742.21 1313.86L1742.19 1314.52L1742.11 1315.14L1741.97 1315.75L1741.75 1316.37L1741.44 1317.01L1741.04 1317.67L1740.46 1318.37L1739.63 1319.14L1738.63 1319.97L1737.52 1320.85L1736.4 1321.75L1735.33 1322.69L1734.39 1323.69L1733.67 1324.76L1733.21 1325.85L1732.96 1326.91L1732.87 1327.97L1732.91 1328.99L1733.04 1329.98L1733.24 1330.93L1733.47 1331.86L1733.73 1332.83L1734.12 1333.88L1734.67 1334.89L1735.3 1335.78L1735.92 1336.62L1736.49 1337.42L1736.97 1338.21L1737.34 1338.99L1737.57 1339.84L1737.75 1340.94L1737.91 1342.24L1738.01 1343.62L1738.04 1345.02L1737.97 1346.36L1737.8 1347.57L1737.52 1348.56L1737.16 1349.27L1736.63 1349.86L1735.83 1350.47L1734.82 1351.05L1733.68 1351.55L1732.46 1351.96L1731.26 1352.25L1730.14 1352.41L1729.25 1352.45L1728.5 1352.32L1727.63 1351.98L1726.67 1351.44L1725.69 1350.78L1724.73 1350.06L1723.85 1349.36L1723.06 1348.74L1722.43 1348.31Z" fill="#91612F"/><path d="M1724.42 1348.64C1725.34 1346.56 1726.65 1342.88 1726.56 1340.38C1726.47 1337.87 1726.77 1336.9 1723.89 1333.59C1721 1330.29 1714.36 1325.13 1709.27 1320.56C1704.19 1315.99 1697.83 1310.07 1693.4 1306.18C1688.97 1302.28 1685.86 1299.24 1682.71 1297.19C1679.55 1295.14 1677.56 1293.99 1674.45 1293.87C1671.35 1293.75 1667.22 1294.47 1664.08 1296.47C1660.93 1298.47 1657.21 1302.47 1655.6 1305.88C1654 1309.29 1653.57 1313.2 1654.44 1316.93C1655.31 1320.66 1657.61 1324.52 1660.81 1328.26C1664.02 1332.01 1668.73 1335.87 1673.65 1339.39C1678.58 1342.91 1684.95 1346.59 1690.35 1349.38C1695.75 1352.16 1701.89 1355.01 1706.03 1356.13C1710.17 1357.24 1712.7 1356.61 1715.19 1356.07C1717.69 1355.52 1719.49 1354.11 1721.02 1352.88C1722.56 1351.64 1723.49 1350.72 1724.42 1348.64Z" fill="#C9A75D" stroke="#91612F" stroke-width="3.2"/>
<path d="M1541.67 1108.27L1541.04 1108.58L1540.15 1108.94L1539.09 1109.38L1537.94 1109.88L1536.78 1110.47L1535.69 1111.14L1534.76 1111.9L1534.06 1112.76L1533.53 1113.78L1533.07 1114.98L1532.69 1116.31L1532.42 1117.71L1532.28 1119.12L1532.29 1120.48L1532.48 1121.74L1532.86 1122.84L1533.5 1123.81L1534.41 1124.73L1535.52 1125.58L1536.77 1126.37L1538.09 1127.09L1539.43 1127.71L1540.7 1128.24L1541.86 1128.66" fill="none" stroke="#8E5A2B" stroke-width="3.04" stroke-dasharray="6 4"/><path d="M1541.86 1128.66L1542.94 1128.92L1544.02 1129.01L1545.09 1128.97L1546.15 1128.86L1547.18 1128.73L1548.19 1128.63L1549.16 1128.61L1550.09 1128.72L1550.99 1128.92L1551.87 1129.13L1552.73 1129.37L1553.56 1129.66L1554.34 1130.03L1555.08 1130.5L1555.74 1131.08L1556.34 1131.8L1556.84 1132.73L1557.22 1133.89L1557.53 1135.2L1557.79 1136.59L1558.04 1137.99L1558.31 1139.31L1558.63 1140.5L1559.04 1141.48L1559.51 1142.25L1560.01 1142.91" fill="none" stroke="#8E5A2B" stroke-width="1.92" stroke-dasharray="5.5 4"/><path d="M1560.01 1142.91L1560.54 1143.46L1561.1 1143.93L1561.69 1144.33L1562.32 1144.69L1563 1145.01L1563.73 1145.32L1564.55 1145.58L1565.46 1145.74L1566.44 1145.85L1567.46 1145.92L1568.46 1145.99L1569.42 1146.08L1570.31 1146.23L1571.08 1146.46L1571.79 1146.74L1572.49 1147.04L1573.15 1147.37L1573.75 1147.73L1574.26 1148.15L1574.66 1148.63L1574.91 1149.18L1575 1149.82L1574.85 1150.63L1574.46 1151.62L1573.9 1152.72L1573.24 1153.87L1572.55 1154.99L1571.9 1156.02L1571.36 1156.88L1571 1157.5" fill="none" stroke="#8E5A2B" stroke-width="1.06" stroke-dasharray="5 4"/><path d="M1541.12 1111.4C1542.54 1113.28 1545.21 1116.31 1547.52 1117.48C1549.83 1118.66 1550.56 1119.41 1554.99 1118.46C1559.42 1117.51 1567.41 1114.08 1574.08 1111.78C1580.76 1109.48 1589.3 1106.69 1595.04 1104.64C1600.78 1102.59 1605.08 1101.3 1608.51 1099.48C1611.95 1097.65 1613.99 1096.43 1615.65 1093.68C1617.32 1090.94 1618.74 1086.85 1618.5 1083C1618.27 1079.16 1616.52 1073.79 1614.24 1070.63C1611.96 1067.47 1608.65 1065.12 1604.84 1064.04C1601.03 1062.96 1596.39 1063.11 1591.4 1064.13C1586.42 1065.15 1580.56 1067.47 1574.91 1070.16C1569.27 1072.84 1562.75 1076.76 1557.53 1080.24C1552.3 1083.72 1546.65 1087.85 1543.57 1091.04C1540.49 1094.22 1539.79 1096.82 1539.03 1099.35C1538.27 1101.88 1538.65 1104.2 1539 1106.21C1539.35 1108.22 1539.7 1109.52 1541.12 1111.4Z" fill="#FFFFFF" stroke="#8E5A2B" stroke-width="3.2" stroke-dasharray="6 4"/>
<path d="M1744.41 1083.59L1745.07 1083.38L1746 1083.15L1747.1 1082.88L1748.3 1082.56L1749.53 1082.16L1750.69 1081.67L1751.72 1081.06L1752.53 1080.32L1753.2 1079.4L1753.83 1078.29L1754.4 1077.04L1754.87 1075.71L1755.22 1074.35L1755.41 1073.02L1755.42 1071.76L1755.21 1070.63L1754.72 1069.58L1753.97 1068.54L1753.01 1067.54L1751.9 1066.58L1750.71 1065.69L1749.5 1064.88L1748.32 1064.17L1747.25 1063.58" fill="none" stroke="#8E5A2B" stroke-width="3.04" stroke-dasharray="6 4"/><path d="M1747.25 1063.58L1746.24 1063.16L1745.19 1062.92L1744.14 1062.79L1743.09 1062.75L1742.05 1062.72L1741.05 1062.67L1740.1 1062.55L1739.2 1062.3L1738.35 1061.97L1737.52 1061.64L1736.71 1061.27L1735.94 1060.86L1735.23 1060.38L1734.58 1059.82L1734.01 1059.15L1733.54 1058.35L1733.19 1057.36L1732.99 1056.17L1732.88 1054.84L1732.83 1053.45L1732.79 1052.04L1732.73 1050.7L1732.59 1049.49L1732.33 1048.47L1731.98 1047.64L1731.59 1046.92" fill="none" stroke="#8E5A2B" stroke-width="1.92" stroke-dasharray="5.5 4"/><path d="M1731.59 1046.92L1731.16 1046.3L1730.68 1045.76L1730.16 1045.28L1729.59 1044.84L1728.98 1044.42L1728.31 1044.01L1727.55 1043.64L1726.68 1043.34L1725.73 1043.09L1724.75 1042.87L1723.78 1042.65L1722.85 1042.42L1722 1042.14L1721.28 1041.8L1720.63 1041.42L1719.99 1041.02L1719.39 1040.6L1718.85 1040.16L1718.42 1039.68L1718.1 1039.15L1717.93 1038.57L1717.94 1037.93L1718.21 1037.16L1718.74 1036.25L1719.45 1035.25L1720.26 1034.22L1721.11 1033.22L1721.89 1032.32L1722.55 1031.56L1723 1031" fill="none" stroke="#8E5A2B" stroke-width="1.06" stroke-dasharray="5 4"/><path d="M1745.45 1080.62C1744.37 1078.55 1742.27 1075.17 1740.21 1073.64C1738.15 1072.12 1737.55 1071.26 1733.08 1071.47C1728.6 1071.67 1720.25 1073.71 1713.36 1074.86C1706.47 1076.02 1697.68 1077.35 1691.74 1078.41C1685.81 1079.47 1681.4 1080.03 1677.75 1081.25C1674.1 1082.47 1671.92 1083.33 1669.85 1085.74C1667.77 1088.14 1665.72 1091.9 1665.32 1095.69C1664.92 1099.48 1665.75 1105.01 1667.46 1108.46C1669.16 1111.92 1672.02 1114.74 1675.55 1116.42C1679.09 1118.1 1683.64 1118.71 1688.68 1118.53C1693.71 1118.35 1699.8 1117.04 1705.75 1115.34C1711.7 1113.64 1718.7 1110.88 1724.36 1108.34C1730.03 1105.8 1736.22 1102.69 1739.74 1100.09C1743.27 1097.48 1744.37 1095.06 1745.52 1092.72C1746.68 1090.38 1746.69 1088.04 1746.68 1086.03C1746.67 1084.01 1746.53 1082.68 1745.45 1080.62Z" fill="#FFFFFF" stroke="#8E5A2B" stroke-width="3.2" stroke-dasharray="6 4"/>
<path d="M1751.73 1190.18L1752.3 1190.39L1753.07 1190.68L1753.98 1191.04L1755 1191.42L1756.06 1191.81L1757.13 1192.17L1758.15 1192.48L1759.08 1192.71L1759.93 1192.89L1760.74 1193.05L1761.52 1193.19L1762.29 1193.29" fill="none" stroke="#8E5A2B" stroke-width="3.04" stroke-dasharray="6 4"/><path d="M1762.29 1193.29L1763.08 1193.35L1763.89 1193.34L1764.74 1193.26L1765.65 1193.09L1766.62 1192.81L1767.62 1192.43L1768.66 1191.96L1769.72 1191.44L1770.81 1190.89L1771.93 1190.32L1773.06 1189.77L1774.2 1189.27L1775.36 1188.78" fill="none" stroke="#8E5A2B" stroke-width="1.92" stroke-dasharray="5.5 4"/><path d="M1775.36 1188.78L1776.54 1188.29L1777.73 1187.79L1778.95 1187.3L1780.18 1186.81L1781.45 1186.34L1782.74 1185.88L1784.05 1185.44L1785.48 1185.01L1787.07 1184.58L1788.73 1184.14L1790.39 1183.73L1791.98 1183.35L1793.41 1183.01L1794.61 1182.72L1795.5 1182.5" fill="none" stroke="#8E5A2B" stroke-width="1.06" stroke-dasharray="5 4"/><path d="M1751.9 1194.05C1750.43 1195.96 1747.68 1199.03 1745.31 1200.21C1742.94 1201.39 1742.19 1202.15 1737.67 1201.14C1733.16 1200.13 1725.02 1196.56 1718.23 1194.15C1711.43 1191.74 1702.73 1188.82 1696.88 1186.67C1691.04 1184.52 1686.66 1183.17 1683.17 1181.28C1679.67 1179.38 1677.6 1178.11 1675.93 1175.29C1674.25 1172.47 1672.84 1168.28 1673.11 1164.36C1673.38 1160.43 1675.22 1154.96 1677.57 1151.75C1679.93 1148.55 1683.34 1146.18 1687.24 1145.11C1691.13 1144.04 1695.87 1144.23 1700.96 1145.32C1706.04 1146.4 1712.01 1148.83 1717.75 1151.62C1723.49 1154.42 1730.12 1158.48 1735.42 1162.08C1740.73 1165.68 1746.46 1169.95 1749.58 1173.23C1752.7 1176.51 1753.38 1179.17 1754.14 1181.76C1754.9 1184.35 1754.49 1186.72 1754.12 1188.77C1753.74 1190.82 1753.36 1192.15 1751.9 1194.05Z" fill="#FFFFFF" stroke="#8E5A2B" stroke-width="3.2" stroke-dasharray="6 4"/>
<path d="M1554.64 1298.7L1554.01 1298.69L1553.15 1298.72L1552.12 1298.77L1550.99 1298.79L1549.82 1298.75L1548.68 1298.62L1547.63 1298.35L1546.74 1297.91L1545.93 1297.27L1545.1 1296.47L1544.29 1295.52L1543.54 1294.49L1542.89 1293.39L1542.39 1292.27L1542.06 1291.18L1541.96 1290.14L1542.12 1289.11L1542.52 1288.02L1543.1 1286.9L1543.82 1285.78L1544.63 1284.7L1545.48 1283.69L1546.33 1282.78L1547.11 1282" fill="none" stroke="#8E5A2B" stroke-width="3.04" stroke-dasharray="6 4"/><path d="M1547.11 1282L1547.89 1281.38L1548.74 1280.9L1549.62 1280.53L1550.53 1280.22L1551.42 1279.93L1552.28 1279.64L1553.08 1279.29L1553.79 1278.85L1554.46 1278.35L1555.1 1277.85L1555.71 1277.32L1556.27 1276.77L1556.77 1276.18L1557.19 1275.52L1557.52 1274.79L1557.73 1273.98L1557.79 1273.03L1557.66 1271.94L1557.42 1270.76L1557.11 1269.53L1556.79 1268.3L1556.51 1267.11L1556.32 1266.02L1556.29 1265.07L1556.38 1264.26L1556.54 1263.54" fill="none" stroke="#8E5A2B" stroke-width="1.92" stroke-dasharray="5.5 4"/><path d="M1556.54 1263.54L1556.76 1262.89L1557.04 1262.3L1557.37 1261.74L1557.76 1261.22L1558.19 1260.7L1558.66 1260.17L1559.23 1259.65L1559.92 1259.17L1560.68 1258.72L1561.47 1258.28L1562.27 1257.84L1563.02 1257.4L1563.69 1256.95L1564.23 1256.47L1564.7 1255.97L1565.16 1255.47L1565.57 1254.95L1565.92 1254.43L1566.18 1253.9L1566.33 1253.36L1566.32 1252.81L1566.15 1252.25L1565.73 1251.65L1565.04 1250.99L1564.17 1250.3L1563.2 1249.61L1562.21 1248.96L1561.29 1248.37L1560.53 1247.87L1560 1247.5" fill="none" stroke="#8E5A2B" stroke-width="1.06" stroke-dasharray="5 4"/><path d="M1552.75 1296.27C1553.11 1294.02 1554.01 1290.23 1555.45 1288.17C1556.89 1286.12 1557.17 1285.14 1561.39 1283.94C1565.6 1282.74 1573.99 1282.04 1580.74 1280.97C1587.49 1279.9 1596.05 1278.41 1601.89 1277.55C1607.72 1276.7 1611.98 1275.84 1615.75 1275.84C1619.52 1275.84 1621.81 1275.96 1624.48 1277.55C1627.15 1279.14 1630.22 1281.99 1631.77 1285.38C1633.32 1288.77 1634.26 1294.16 1633.75 1297.89C1633.24 1301.62 1631.47 1305.13 1628.71 1307.79C1625.95 1310.44 1621.91 1312.43 1617.19 1313.82C1612.47 1315.22 1606.4 1315.89 1600.36 1316.16C1594.31 1316.43 1586.97 1316.04 1580.92 1315.44C1574.88 1314.84 1568.17 1313.88 1564.09 1312.56C1560.01 1311.24 1558.24 1309.34 1556.44 1307.52C1554.64 1305.7 1553.9 1303.55 1553.29 1301.67C1552.67 1299.8 1552.39 1298.52 1552.75 1296.27Z" fill="#FFFFFF" stroke="#8E5A2B" stroke-width="3.2" stroke-dasharray="6 4"/>
<path d="M1686.04 1250.45L1685.44 1250.65L1684.63 1250.91L1683.66 1251.21L1682.59 1251.56L1681.48 1251.93L1680.38 1252.33L1679.35 1252.74L1678.44 1253.16L1677.64 1253.56L1676.88 1253.95L1676.15 1254.34L1675.46 1254.76" fill="none" stroke="#8E5A2B" stroke-width="3.04" stroke-dasharray="6 4"/><path d="M1675.46 1254.76L1674.79 1255.22L1674.14 1255.75L1673.5 1256.37L1672.87 1257.1L1672.26 1257.95L1671.7 1258.91L1671.16 1259.95L1670.63 1261.07L1670.1 1262.23L1669.57 1263.4L1669 1264.58L1668.4 1265.73L1667.78 1266.87" fill="none" stroke="#8E5A2B" stroke-width="1.92" stroke-dasharray="5.5 4"/><path d="M1667.78 1266.87L1667.14 1268.03L1666.49 1269.21L1665.83 1270.4L1665.14 1271.59L1664.42 1272.8L1663.67 1274L1662.89 1275.21L1662 1276.48L1661 1277.86L1659.93 1279.29L1658.85 1280.7L1657.81 1282.03L1656.87 1283.23L1656.08 1284.24L1655.5 1285" fill="none" stroke="#8E5A2B" stroke-width="1.06" stroke-dasharray="5 4"/><path d="M1683.5 1247.58C1683.45 1245.2 1683.65 1241.13 1684.74 1238.74C1685.82 1236.36 1685.93 1235.3 1690.03 1233.27C1694.13 1231.23 1702.61 1228.91 1709.34 1226.54C1716.07 1224.16 1724.58 1220.99 1730.41 1219C1736.24 1217.01 1740.45 1215.32 1744.31 1214.6C1748.18 1213.89 1750.56 1213.57 1753.6 1214.7C1756.65 1215.82 1760.35 1218.16 1762.58 1221.35C1764.81 1224.54 1766.81 1229.89 1767 1233.82C1767.18 1237.75 1766.03 1241.7 1763.7 1244.95C1761.38 1248.2 1757.61 1251 1753.02 1253.33C1748.43 1255.67 1742.34 1257.51 1736.18 1258.94C1730.03 1260.37 1722.4 1261.37 1716.08 1261.9C1709.76 1262.43 1702.69 1262.73 1698.25 1262.15C1693.81 1261.57 1691.63 1259.95 1689.43 1258.43C1687.24 1256.91 1686.07 1254.83 1685.09 1253.02C1684.1 1251.21 1683.56 1249.95 1683.5 1247.58Z" fill="#FFFFFF" stroke="#8E5A2B" stroke-width="3.2" stroke-dasharray="6 4"/>
<path d="M1958.04 1089.66L1958.73 1089.61L1959.71 1089.59L1960.96 1089.57L1962.37 1089.52L1963.86 1089.38L1965.38 1089.11L1966.87 1088.63L1968.2 1087.88L1969.32 1086.9L1970.36 1085.76L1971.35 1084.47L1972.24 1083.07L1973.01 1081.57L1973.6 1080.03L1973.97 1078.44L1974.03 1076.84L1973.69 1075.26L1973.05 1073.74L1972.19 1072.29L1971.17 1070.91L1970.07 1069.6L1968.93 1068.4L1967.81 1067.32L1966.73 1066.37L1965.58 1065.56L1964.34 1064.95L1963.11 1064.51L1961.95 1064.19L1960.87 1063.91L1959.91 1063.64L1959.09 1063.38L1958.35 1063.03L1957.58 1062.56L1956.79 1062.06L1956.08 1061.56L1955.43 1061.05L1954.88 1060.51L1954.42 1059.93L1954.05 1059.29L1953.78 1058.58L1953.65 1057.69L1953.69 1056.54L1953.85 1055.19L1954.1 1053.73L1954.37 1052.23L1954.6 1050.75L1954.73 1049.33L1954.67 1048.05L1954.46 1046.96L1954.17 1046.02L1953.79 1045.17L1953.35 1044.41L1952.84 1043.71L1952.28 1043.08L1951.68 1042.48L1951.02 1041.86L1950.22 1041.25L1949.29 1040.7L1948.31 1040.22L1947.3 1039.77L1946.32 1039.33L1945.42 1038.9L1944.63 1038.46L1943.99 1037.99L1943.41 1037.47L1942.83 1036.94L1942.3 1036.4L1941.87 1035.86L1941.54 1035.34L1941.34 1034.82L1941.29 1034.3L1941.39 1033.75L1941.78 1033.08L1942.51 1032.27L1943.46 1031.38L1944.54 1030.49L1945.65 1029.63L1946.68 1028.84L1947.55 1028.18L1948.14 1027.68L1947.86 1027.32L1947.24 1027.78L1946.36 1028.4L1945.29 1029.15L1944.15 1029.98L1943.01 1030.85L1941.99 1031.73L1941.16 1032.59L1940.62 1033.41L1940.4 1034.21L1940.42 1034.99L1940.63 1035.74L1941 1036.44L1941.47 1037.1L1942.01 1037.73L1942.58 1038.33L1943.18 1038.93L1943.9 1039.53L1944.77 1040.08L1945.71 1040.59L1946.68 1041.08L1947.63 1041.56L1948.52 1042.05L1949.29 1042.56L1949.91 1043.1L1950.45 1043.67L1950.95 1044.24L1951.38 1044.81L1951.75 1045.39L1952.05 1045.99L1952.29 1046.66L1952.47 1047.41L1952.59 1048.24L1952.58 1049.23L1952.42 1050.43L1952.14 1051.81L1951.82 1053.28L1951.5 1054.79L1951.25 1056.29L1951.15 1057.75L1951.27 1059.11L1951.62 1060.3L1952.13 1061.34L1952.76 1062.27L1953.48 1063.08L1954.25 1063.8L1955.06 1064.46L1955.87 1065.07L1956.74 1065.69L1957.77 1066.29L1958.9 1066.75L1960.02 1067.07L1961.11 1067.34L1962.13 1067.63L1963.07 1067.96L1963.91 1068.36L1964.7 1068.92L1965.59 1069.72L1966.61 1070.7L1967.64 1071.78L1968.61 1072.93L1969.47 1074.1L1970.14 1075.23L1970.59 1076.26L1970.77 1077.12L1970.74 1077.99L1970.49 1079.06L1970.03 1080.24L1969.41 1081.44L1968.67 1082.61L1967.86 1083.67L1967.03 1084.57L1966.31 1085.22L1965.58 1085.63L1964.6 1085.94L1963.43 1086.14L1962.15 1086.26L1960.87 1086.31L1959.66 1086.32L1958.59 1086.34L1957.78 1086.41Z" fill="#4D8EC6"/><path d="M1876.69 1082.22C1877.09 1078.88 1877.69 1072.58 1879.75 1069.3C1881.8 1066.02 1885.68 1063.83 1889.01 1062.55C1892.34 1061.27 1894 1061.02 1899.74 1061.62C1905.49 1062.23 1916.27 1064.56 1923.5 1066.17C1930.73 1067.79 1938.16 1069.69 1943.14 1071.33C1948.13 1072.96 1950.79 1073.9 1953.4 1075.97C1956.01 1078.03 1958.04 1080.86 1958.81 1083.69C1959.58 1086.53 1959.18 1090.05 1958.02 1092.97C1956.86 1095.89 1956.27 1099.66 1951.87 1101.22C1947.47 1102.79 1938.14 1102.19 1931.64 1102.38C1925.13 1102.57 1918.73 1102.38 1912.84 1102.37C1906.94 1102.37 1901.38 1103.23 1896.27 1102.35C1891.17 1101.48 1885.37 1099.29 1882.22 1097.12C1879.07 1094.94 1878.3 1091.8 1877.37 1089.32C1876.45 1086.83 1876.3 1085.56 1876.69 1082.22Z" fill="#8ACFEC" stroke="#4D8EC6" stroke-width="3.2"/>
<path d="M1824.14 1196.03L1823.54 1196.48L1822.79 1197.11L1821.96 1197.83L1821.06 1198.56L1820.13 1199.24L1819.21 1199.8L1818.39 1200.16L1817.67 1200.31L1816.81 1200.31L1815.72 1200.19L1814.53 1199.95L1813.34 1199.61L1812.2 1199.16L1811.2 1198.64L1810.41 1198.07L1809.88 1197.52L1809.51 1196.85L1809.2 1195.91L1808.99 1194.74L1808.87 1193.44L1808.84 1192.07L1808.89 1190.72L1809 1189.45L1809.13 1188.38L1809.33 1187.54L1809.65 1186.78L1810.09 1186L1810.61 1185.2L1811.19 1184.36L1811.77 1183.46L1812.27 1182.45L1812.62 1181.41L1812.83 1180.45L1813.02 1179.54L1813.18 1178.6L1813.27 1177.62L1813.27 1176.62L1813.14 1175.6L1812.85 1174.56L1812.37 1173.51L1811.62 1172.49L1810.66 1171.56L1809.58 1170.68L1808.45 1169.84L1807.34 1169.03L1806.33 1168.25L1805.5 1167.54L1804.91 1166.88L1804.5 1166.25L1804.17 1165.64L1803.93 1165.05L1803.77 1164.46L1803.67 1163.86L1803.63 1163.22L1803.62 1162.53L1803.64 1161.82L1803.74 1161.09L1803.96 1160.29L1804.27 1159.42L1804.62 1158.51L1804.99 1157.59L1805.33 1156.68L1805.59 1155.78L1805.72 1154.93L1805.77 1154.15L1805.8 1153.39L1805.78 1152.63L1805.7 1151.89L1805.53 1151.19L1805.22 1150.54L1804.76 1149.99L1804.11 1149.57L1803.24 1149.33L1802.16 1149.25L1800.92 1149.26L1799.62 1149.35L1798.34 1149.47L1797.16 1149.6L1796.18 1149.71L1795.49 1149.78L1795.51 1150.22L1796.22 1150.21L1797.21 1150.15L1798.39 1150.07L1799.66 1149.99L1800.94 1149.96L1802.12 1149.99L1803.1 1150.11L1803.76 1150.33L1804.15 1150.64L1804.41 1151.02L1804.58 1151.49L1804.67 1152.04L1804.69 1152.66L1804.66 1153.34L1804.58 1154.05L1804.49 1154.76L1804.33 1155.45L1804.06 1156.22L1803.7 1157.06L1803.29 1157.94L1802.87 1158.85L1802.49 1159.78L1802.18 1160.71L1802 1161.62L1801.91 1162.45L1801.86 1163.22L1801.86 1164L1801.93 1164.78L1802.08 1165.58L1802.34 1166.4L1802.71 1167.23L1803.22 1168.12L1803.95 1169.04L1804.9 1169.94L1805.95 1170.81L1807.03 1171.68L1808.08 1172.53L1809 1173.35L1809.7 1174.11L1810.13 1174.77L1810.36 1175.4L1810.49 1176.05L1810.52 1176.7L1810.46 1177.39L1810.33 1178.11L1810.13 1178.88L1809.89 1179.69L1809.65 1180.46L1809.36 1181.13L1808.96 1181.79L1808.47 1182.54L1807.9 1183.38L1807.29 1184.31L1806.71 1185.36L1806.22 1186.54L1805.92 1187.81L1805.75 1189.12L1805.64 1190.53L1805.58 1192.05L1805.61 1193.61L1805.75 1195.18L1806.04 1196.7L1806.51 1198.15L1807.25 1199.46L1808.28 1200.55L1809.5 1201.42L1810.85 1202.13L1812.28 1202.7L1813.75 1203.12L1815.22 1203.42L1816.63 1203.57L1818 1203.56L1819.4 1203.27L1820.72 1202.69L1821.94 1201.96L1823.05 1201.15L1824.05 1200.33L1824.91 1199.59L1825.59 1199.02L1826.09 1198.65Z" fill="#4D8EC6"/><path d="M1892.04 1149.43C1889.94 1146.77 1886.08 1141.65 1882.58 1139.91C1879.08 1138.17 1874.58 1138.33 1871.04 1138.99C1867.49 1139.64 1865.93 1140.3 1861.3 1143.86C1856.66 1147.41 1848.61 1155.11 1843.23 1160.33C1837.85 1165.54 1832.45 1171.1 1829.02 1175.14C1825.59 1179.18 1823.79 1181.4 1822.63 1184.56C1821.47 1187.71 1821.22 1191.22 1822.05 1194.07C1822.88 1196.92 1825.09 1199.74 1827.63 1201.65C1830.17 1203.56 1832.67 1206.48 1837.29 1205.51C1841.91 1204.54 1849.63 1199.09 1855.34 1195.82C1861.04 1192.55 1866.46 1189.01 1871.53 1185.89C1876.61 1182.77 1881.86 1180.58 1885.8 1177.13C1889.73 1173.68 1893.58 1168.73 1895.14 1165.19C1896.71 1161.65 1895.72 1158.54 1895.2 1155.91C1894.68 1153.28 1894.14 1152.1 1892.04 1149.43Z" fill="#8ACFEC" stroke="#4D8EC6" stroke-width="3.2"/>
<path d="M2001.99 1177.35L2002.62 1176.87L2003.48 1176.22L2004.53 1175.45L2005.7 1174.57L2006.91 1173.64L2008.11 1172.67L2009.23 1171.7L2010.2 1170.77L2011.03 1169.92L2011.81 1169.12L2012.56 1168.3L2013.28 1167.43L2013.97 1166.49L2014.6 1165.46L2015.18 1164.32L2015.62 1163.02L2015.97 1161.58L2016.2 1160.07L2016.36 1158.51L2016.48 1156.9L2016.57 1155.27L2016.67 1153.63L2016.8 1151.99L2016.98 1150.37L2017.21 1148.73L2017.44 1147.05L2017.67 1145.35L2017.93 1143.63L2018.21 1141.9L2018.52 1140.15L2018.87 1138.38L2019.26 1136.59L2019.74 1134.68L2020.33 1132.59L2020.98 1130.41L2021.65 1128.24L2022.3 1126.18L2022.89 1124.32L2023.37 1122.75L2023.71 1121.57L2023.29 1121.43L2022.85 1122.57L2022.28 1124.11L2021.59 1125.94L2020.85 1127.97L2020.09 1130.12L2019.34 1132.28L2018.65 1134.36L2018.06 1136.27L2017.56 1138.06L2017.1 1139.84L2016.69 1141.59L2016.3 1143.33L2015.93 1145.04L2015.59 1146.73L2015.25 1148.39L2014.91 1150.04L2014.61 1151.7L2014.36 1153.38L2014.14 1155.04L2013.92 1156.64L2013.69 1158.17L2013.42 1159.59L2013.09 1160.88L2012.68 1162L2012.21 1162.98L2011.76 1163.87L2011.26 1164.67L2010.71 1165.42L2010.1 1166.15L2009.43 1166.88L2008.69 1167.65L2007.91 1168.44L2007.04 1169.28L2006.02 1170.16L2004.88 1171.08L2003.72 1171.98L2002.58 1172.83L2001.54 1173.6L2000.65 1174.26L2000 1174.76Z" fill="#4D8EC6"/><path d="M1935.19 1224.07C1937.27 1226.71 1941.08 1231.77 1944.55 1233.49C1948.01 1235.22 1952.46 1235.06 1955.97 1234.41C1959.48 1233.76 1961.02 1233.11 1965.61 1229.59C1970.19 1226.07 1978.16 1218.46 1983.48 1213.3C1988.81 1208.14 1994.14 1202.64 1997.54 1198.64C2000.94 1194.65 2002.71 1192.45 2003.86 1189.33C2005.01 1186.2 2005.26 1182.73 2004.44 1179.91C2003.61 1177.09 2001.43 1174.3 1998.92 1172.41C1996.4 1170.53 1993.93 1167.63 1989.36 1168.59C1984.79 1169.55 1977.15 1174.94 1971.5 1178.18C1965.86 1181.41 1960.5 1184.92 1955.48 1188C1950.46 1191.09 1945.26 1193.26 1941.37 1196.68C1937.47 1200.09 1933.67 1204.99 1932.12 1208.48C1930.57 1211.98 1931.55 1215.07 1932.06 1217.67C1932.57 1220.27 1933.11 1221.44 1935.19 1224.07Z" fill="#8ACFEC" stroke="#4D8EC6" stroke-width="3.2"/>
<path d="M1817.84 1286.17L1817.09 1286.49L1816.08 1286.92L1814.91 1287.43L1813.61 1287.99L1812.26 1288.54L1810.92 1289.06L1809.65 1289.5L1808.51 1289.84L1807.44 1290.11L1806.41 1290.37L1805.45 1290.58L1804.52 1290.74L1803.61 1290.84L1802.68 1290.87L1801.69 1290.82L1800.62 1290.75L1799.45 1290.54L1798.19 1290.19L1796.84 1289.72L1795.41 1289.16L1793.93 1288.55L1792.4 1287.92L1790.83 1287.3L1789.25 1286.74L1787.67 1286.22L1786.08 1285.69L1784.46 1285.15L1782.8 1284.61L1781.12 1284.09L1779.41 1283.58L1777.66 1283.09L1775.88 1282.64L1773.94 1282.2L1771.81 1281.76L1769.59 1281.33L1767.37 1280.93L1765.25 1280.56L1763.34 1280.24L1761.74 1279.97L1760.54 1279.78L1760.46 1280.22L1761.63 1280.51L1763.22 1280.87L1765.11 1281.29L1767.2 1281.75L1769.39 1282.25L1771.58 1282.77L1773.67 1283.3L1775.55 1283.84L1777.28 1284.38L1778.97 1284.96L1780.62 1285.56L1782.25 1286.18L1783.85 1286.81L1785.43 1287.45L1786.98 1288.08L1788.5 1288.7L1789.98 1289.35L1791.45 1290.05L1792.91 1290.77L1794.36 1291.5L1795.79 1292.2L1797.22 1292.84L1798.63 1293.38L1800.03 1293.8L1801.37 1294.07L1802.64 1294.14L1803.84 1294.1L1804.98 1293.98L1806.09 1293.78L1807.16 1293.54L1808.24 1293.28L1809.37 1292.98L1810.65 1292.61L1812.04 1292.12L1813.47 1291.58L1814.87 1291L1816.2 1290.43L1817.38 1289.92L1818.37 1289.49L1819.09 1289.19Z" fill="#4D8EC6"/><path d="M1894.32 1257.98C1895.43 1261.15 1897.65 1267.09 1897.24 1270.94C1896.83 1274.78 1894.31 1278.45 1891.87 1281.06C1889.44 1283.67 1888.06 1284.62 1882.63 1286.6C1877.2 1288.58 1866.49 1291.21 1859.28 1292.92C1852.07 1294.64 1844.57 1296.19 1839.37 1296.9C1834.18 1297.62 1831.37 1297.94 1828.12 1297.23C1824.87 1296.52 1821.8 1294.87 1819.87 1292.66C1817.94 1290.45 1816.75 1287.11 1816.51 1283.97C1816.27 1280.84 1815.16 1277.2 1818.42 1273.86C1821.69 1270.52 1830.34 1266.97 1836.1 1263.95C1841.86 1260.93 1847.7 1258.29 1853 1255.72C1858.3 1253.14 1862.92 1249.92 1867.89 1248.47C1872.87 1247.02 1879.04 1246.45 1882.82 1247.02C1886.61 1247.59 1888.68 1250.08 1890.6 1251.9C1892.51 1253.73 1893.21 1254.81 1894.32 1257.98Z" fill="#8ACFEC" stroke="#4D8EC6" stroke-width="3.2"/>
<path d="M1986.71 1324.01L1987.46 1324.25L1988.46 1324.59L1989.68 1325L1991.04 1325.45L1992.48 1325.9L1993.94 1326.33L1995.36 1326.69L1996.66 1326.96L1997.81 1327.15L1998.9 1327.33L1999.98 1327.47L2001.09 1327.57L2002.24 1327.6L2003.43 1327.54L2004.68 1327.36L2005.99 1326.98L2007.34 1326.46L2008.7 1325.8L2010.05 1325.04L2011.42 1324.23L2012.79 1323.39L2014.18 1322.55L2015.57 1321.73L2016.99 1320.97L2018.44 1320.22L2019.93 1319.47L2021.43 1318.7L2022.97 1317.94L2024.53 1317.19L2026.12 1316.46L2027.75 1315.75L2029.41 1315.06L2031.23 1314.38L2033.25 1313.67L2035.38 1312.97L2037.51 1312.3L2039.54 1311.66L2041.38 1311.09L2042.92 1310.6L2044.06 1310.22L2043.94 1309.78L2042.77 1310.08L2041.2 1310.47L2039.34 1310.95L2037.27 1311.49L2035.11 1312.07L2032.94 1312.68L2030.87 1313.3L2028.99 1313.89L2027.25 1314.49L2025.56 1315.12L2023.91 1315.77L2022.28 1316.43L2020.69 1317.1L2019.13 1317.77L2017.6 1318.43L2016.08 1319.08L2014.56 1319.76L2013.06 1320.5L2011.59 1321.26L2010.17 1321.99L2008.81 1322.66L2007.5 1323.24L2006.28 1323.69L2005.14 1323.99L2004.09 1324.15L2003.12 1324.29L2002.19 1324.34L2001.28 1324.31L2000.35 1324.23L1999.38 1324.1L1998.34 1323.93L1997.26 1323.75L1996.1 1323.51L1994.81 1323.18L1993.43 1322.78L1992.05 1322.34L1990.72 1321.9L1989.51 1321.49L1988.48 1321.15L1987.7 1320.9Z" fill="#4D8EC6"/><path d="M1907.96 1303.6C1907.3 1306.9 1905.93 1313.08 1906.87 1316.83C1907.81 1320.59 1910.82 1323.87 1913.6 1326.11C1916.37 1328.36 1917.86 1329.11 1923.52 1330.31C1929.17 1331.52 1940.14 1332.63 1947.52 1333.33C1954.9 1334.02 1962.55 1334.51 1967.79 1334.5C1973.03 1334.48 1975.86 1334.41 1978.98 1333.25C1982.1 1332.1 1984.9 1330.03 1986.51 1327.58C1988.12 1325.12 1988.82 1321.64 1988.63 1318.51C1988.43 1315.37 1989.03 1311.61 1985.33 1308.76C1981.63 1305.91 1972.57 1303.6 1966.44 1301.41C1960.31 1299.22 1954.17 1297.42 1948.56 1295.6C1942.96 1293.79 1937.93 1291.25 1932.8 1290.5C1927.68 1289.76 1921.49 1290.05 1917.82 1291.14C1914.15 1292.23 1912.44 1294.99 1910.8 1297.06C1909.16 1299.14 1908.61 1300.31 1907.96 1303.6Z" fill="#8ACFEC" stroke="#4D8EC6" stroke-width="3.2"/>
<circle cx="186.6" cy="1091.6" r="9.1" fill="#9AD0B5" stroke="#45AE82" stroke-width="2"/>
<circle cx="160" cy="1292" r="9.1" fill="#9AD0B5" stroke="#45AE82" stroke-width="2"/>
<circle cx="223.75" cy="1329.5" r="9.1" fill="#9AD0B5" stroke="#45AE82" stroke-width="2"/>
<circle cx="787" cy="1117.5" r="9.1" fill="#8ACFEC" stroke="#4D8EC6" stroke-width="2"/>
<circle cx="671" cy="1219" r="9.1" fill="#8ACFEC" stroke="#4D8EC6" stroke-width="2"/>
<circle cx="763" cy="1291" r="9.1" fill="#8ACFEC" stroke="#4D8EC6" stroke-width="2"/>
<circle cx="1307" cy="1114.5" r="9.1" fill="#9AD0B5" stroke="#45AE82" stroke-width="2"/>
<circle cx="1388.75" cy="1111" r="9.1" fill="#9AD0B5" stroke="#45AE82" stroke-width="2"/>
<circle cx="1479.5" cy="1170" r="9.1" fill="#9AD0B5" stroke="#45AE82" stroke-width="2"/>
<circle cx="1364.5" cy="1178.75" r="9.1" fill="#9AD0B5" stroke="#45AE82" stroke-width="2"/>
<circle cx="1298" cy="1206.5" r="9.1" fill="#9AD0B5" stroke="#45AE82" stroke-width="2"/>
<circle cx="1375.75" cy="1286.75" r="9.1" fill="#9AD0B5" stroke="#45AE82" stroke-width="2"/>
<circle cx="1482" cy="1335.5" r="9.1" fill="#9AD0B5" stroke="#45AE82" stroke-width="2"/>
<circle cx="1850" cy="1111.75" r="9.1" fill="#8ACFEC" stroke="#4D8EC6" stroke-width="2"/>
<circle cx="1923.25" cy="1159.5" r="9.1" fill="#8ACFEC" stroke="#4D8EC6" stroke-width="2"/>
<circle cx="1877.5" cy="1212" r="9.1" fill="#8ACFEC" stroke="#4D8EC6" stroke-width="2"/>
<circle cx="1959.25" cy="1270.5" r="9.1" fill="#8ACFEC" stroke="#4D8EC6" stroke-width="2"/>
<circle cx="1857.5" cy="1324.5" r="9.1" fill="#8ACFEC" stroke="#4D8EC6" stroke-width="2"/>
<use href="#ph" transform="translate(1483.9 960.4)"/>
<use href="#ph" transform="translate(1576 932)"/>
<use href="#ph" transform="translate(1656.5 956)"/>
<use href="#ph" transform="translate(1741.25 928.75)"/>
<use href="#ph" transform="translate(1833 958)"/>
<rect x="56.8" y="911" width="794.6" height="622.2" fill="none" stroke="#231815" stroke-width="2.6"/>
<rect x="1255.4" y="911" width="793.8" height="622.2" fill="none" stroke="#231815" stroke-width="2.6"/>
<rect x="222.5" y="812" width="462.3" height="109" fill="#fff" stroke="#231815" stroke-width="3"/>
<rect x="1409.6" y="808.6" width="483" height="111.2" fill="#fff" stroke="#231815" stroke-width="3"/>
<text x="453.2" y="854.5" font-size="36.7" font-weight="bold" text-anchor="middle">Pathogen colonization</text>
<text x="457.8" y="898.7" font-size="36.7" font-weight="bold" text-anchor="middle">and floral dysbiosis</text>
<text x="1650.4" y="851.8" font-size="36.9" font-weight="bold" text-anchor="middle">Reduced pathogens</text>
<text x="1651" y="896" font-size="36.9" font-weight="bold" text-anchor="middle">and restored microbiota</text>
<text x="80" y="1343.7" font-size="24.4" font-weight="bold">Lumen</text>
<text x="80" y="1395.2" font-size="24.4" font-weight="bold">Mucus</text>
<text x="1277.8" y="1320" font-size="24.4" font-weight="bold">Lumen</text>
<text x="1277.8" y="1373.7" font-size="24.4" font-weight="bold">Mucus</text>
<path d="M884.5 1227H1126.5V1194.6L1223.5 1259L1126.5 1324.4V1291.5H884.5Z" fill="#F7B52C" stroke="#F39A08" stroke-width="3" stroke-linejoin="miter"/>
<text x="1026.6" y="1270" font-size="33.6" font-weight="bold" text-anchor="middle">Phage delivery</text>
<circle cx="1021" cy="1113" r="79" fill="url(#gs)" stroke="#8DB391" stroke-width="1.4"/>
<path d="M1092.9 1097.7A73.5 73.5 0 0 1 1002.0 1184.0" fill="none" stroke="#E0F1E1" stroke-width="5" stroke-linecap="round" opacity="0.85"/>
<path d="M987 1052C975 1068 981 1078 985 1090S980 1112 978 1120S984 1140 986 1150S976 1170 978 1174M1028 1048C1012 1066 1020 1074 1026 1088S1018 1112 1018 1122S1030 1144 1028 1154S1016 1170 1018 1176M1069 1052C1072 1062 1062 1066 1060 1074S1068 1094 1068 1104S1058 1122 1060 1132S1070 1150 1058 1172M962 1068C975 1066 980 1076 990 1076S1008 1066 1018 1068S1032 1078 1044 1076S1060 1064 1068 1066S1080 1076 1085 1078M978 1116C988 1120 996 1116 1002 1110S1018 1108 1024 1114S1038 1120 1046 1114S1060 1106 1068 1110S1080 1118 1085 1120M962 1150C974 1148 980 1158 990 1158S1006 1148 1016 1150S1030 1160 1042 1156S1058 1146 1066 1150S1078 1158 1084 1158" fill="none" stroke="#5FC89D" stroke-width="1.6" stroke-linecap="round"/>
<use href="#phs" transform="translate(991.3 1052.56) rotate(-18.8) scale(0.35)"/>
<use href="#phs" transform="translate(1037.01 1045.55) rotate(6.84) scale(0.35)"/>
<use href="#phs" transform="translate(1058.61 1069.57) rotate(-29.29) scale(0.33)"/>
<use href="#phs" transform="translate(972.03 1079.89) rotate(14.04) scale(0.35)"/>
<use href="#phs" transform="translate(997.49 1093.05) rotate(-6.84) scale(0.35)"/>
<use href="#phs" transform="translate(1041.68 1087.72) rotate(8.13) scale(0.35)"/>
<use href="#phs" transform="translate(963.12 1124.56) rotate(-24.44) scale(0.34)"/>
<use href="#phs" transform="translate(1009.7 1140.56) rotate(15.46) scale(0.34)"/>
<use href="#phs" transform="translate(1028.46 1130.89) rotate(-21.8) scale(0.34)"/>
<use href="#phs" transform="translate(1075.87 1120.56) rotate(16.59) scale(0.35)"/>
<ellipse cx="1082" cy="1081" rx="3.2" ry="4.5" fill="#fff" opacity="0.9" transform="rotate(-20 1082 1081)"/>
<path d="M193.6 1648.03L194.27 1648.03L195.22 1648.09L196.42 1648.17L197.77 1648.23L199.21 1648.21L200.68 1648.07L202.12 1647.73L203.43 1647.13L204.57 1646.29L205.65 1645.29L206.69 1644.13L207.65 1642.86L208.5 1641.5L209.18 1640.07L209.65 1638.6L209.83 1637.09L209.64 1635.58L209.14 1634.09L208.43 1632.65L207.57 1631.25L206.62 1629.91L205.62 1628.67L204.63 1627.55L203.68 1626.56L202.65 1625.7L201.52 1625.03L200.39 1624.52L199.3 1624.12L198.28 1623.77L197.37 1623.43L196.59 1623.1L195.9 1622.69L195.19 1622.17L194.47 1621.63L193.82 1621.08L193.24 1620.53L192.74 1619.96L192.34 1619.35L192.03 1618.68L191.82 1617.96L191.77 1617.07L191.9 1615.96L192.17 1614.67L192.53 1613.28L192.91 1611.86L193.25 1610.46L193.48 1609.11L193.53 1607.89L193.41 1606.84L193.21 1605.91L192.92 1605.07L192.56 1604.31L192.13 1603.61L191.65 1602.96L191.12 1602.33L190.54 1601.69L189.82 1601.04L188.98 1600.44L188.07 1599.9L187.15 1599.39L186.24 1598.89L185.4 1598.4L184.68 1597.91L184.1 1597.4L183.58 1596.86L183.07 1596.29L182.6 1595.73L182.22 1595.18L181.95 1594.64L181.8 1594.12L181.8 1593.61L181.94 1593.09L182.38 1592.47L183.14 1591.75L184.13 1590.98L185.24 1590.2L186.37 1589.46L187.43 1588.79L188.31 1588.22L188.92 1587.79L188.68 1587.41L188.05 1587.8L187.15 1588.33L186.07 1588.97L184.9 1589.69L183.74 1590.44L182.69 1591.21L181.83 1591.97L181.26 1592.71L180.98 1593.46L180.94 1594.21L181.09 1594.94L181.39 1595.64L181.79 1596.3L182.26 1596.95L182.77 1597.57L183.3 1598.2L183.94 1598.82L184.73 1599.41L185.59 1599.97L186.49 1600.51L187.37 1601.05L188.19 1601.6L188.9 1602.14L189.46 1602.71L189.94 1603.31L190.38 1603.9L190.76 1604.48L191.07 1605.06L191.31 1605.68L191.5 1606.34L191.62 1607.09L191.67 1607.91L191.59 1608.87L191.34 1610.02L190.97 1611.33L190.55 1612.72L190.13 1614.15L189.78 1615.56L189.56 1616.94L189.58 1618.24L189.83 1619.4L190.23 1620.42L190.76 1621.34L191.38 1622.17L192.06 1622.92L192.78 1623.6L193.52 1624.24L194.3 1624.91L195.23 1625.55L196.27 1626.07L197.32 1626.46L198.34 1626.81L199.31 1627.16L200.2 1627.56L200.99 1628.03L201.72 1628.64L202.53 1629.48L203.43 1630.51L204.34 1631.64L205.19 1632.83L205.93 1634.03L206.5 1635.19L206.86 1636.23L206.97 1637.11L206.86 1637.98L206.53 1639.01L206 1640.12L205.3 1641.24L204.49 1642.32L203.61 1643.29L202.74 1644.1L201.97 1644.67L201.21 1645.03L200.22 1645.25L199.06 1645.36L197.82 1645.37L196.57 1645.32L195.41 1645.24L194.38 1645.17L193.6 1645.17Z" fill="#45AE82"/><path d="M106.1 1643.4C106.4 1639.8 106.73 1633.07 108.9 1629.4C111.07 1625.73 115.57 1622.93 119.1 1621.4C122.63 1619.87 123.98 1619.48 130.1 1620.2C136.22 1620.92 147.92 1623.73 155.8 1625.7C163.68 1627.67 171.9 1630.02 177.4 1632C182.9 1633.98 186.07 1635.37 188.8 1637.6C191.53 1639.83 193.25 1642.6 193.8 1645.4C194.35 1648.2 193.47 1651.7 192.1 1654.4C190.73 1657.1 189.97 1660.33 185.6 1661.6C181.23 1662.87 172.55 1661.75 165.9 1662C159.25 1662.25 152.03 1662.72 145.7 1663.1C139.37 1663.48 133.42 1664.95 127.9 1664.3C122.38 1663.65 116.07 1661.42 112.6 1659.2C109.13 1656.98 108.18 1653.63 107.1 1651C106.02 1648.37 105.8 1647 106.1 1643.4Z" fill="#9AD0B5" stroke="#45AE82" stroke-width="2.8"/>
<path d="M331.5 1647.43L332.17 1647.43L333.12 1647.49L334.32 1647.57L335.67 1647.63L337.11 1647.61L338.58 1647.47L340.02 1647.13L341.33 1646.53L342.47 1645.69L343.55 1644.69L344.59 1643.53L345.55 1642.26L346.4 1640.9L347.08 1639.47L347.55 1638L347.73 1636.49L347.54 1634.98L347.04 1633.49L346.33 1632.05L345.47 1630.65L344.52 1629.31L343.52 1628.07L342.53 1626.95L341.58 1625.96L340.55 1625.1L339.42 1624.43L338.29 1623.92L337.2 1623.52L336.18 1623.17L335.27 1622.83L334.49 1622.5L333.8 1622.09L333.09 1621.57L332.37 1621.03L331.72 1620.48L331.14 1619.93L330.64 1619.36L330.24 1618.75L329.93 1618.08L329.72 1617.36L329.67 1616.47L329.8 1615.36L330.07 1614.07L330.43 1612.68L330.81 1611.26L331.15 1609.86L331.38 1608.51L331.43 1607.29L331.31 1606.24L331.11 1605.31L330.82 1604.47L330.46 1603.71L330.03 1603.01L329.55 1602.36L329.02 1601.73L328.44 1601.09L327.72 1600.44L326.88 1599.84L325.97 1599.3L325.05 1598.79L324.14 1598.29L323.3 1597.8L322.58 1597.31L322 1596.8L321.48 1596.26L320.97 1595.69L320.5 1595.13L320.12 1594.58L319.85 1594.04L319.7 1593.52L319.7 1593.01L319.84 1592.49L320.28 1591.87L321.04 1591.15L322.03 1590.38L323.14 1589.6L324.27 1588.86L325.33 1588.19L326.21 1587.62L326.82 1587.19L326.58 1586.81L325.95 1587.2L325.05 1587.73L323.97 1588.37L322.8 1589.09L321.64 1589.84L320.59 1590.61L319.73 1591.37L319.16 1592.11L318.88 1592.86L318.84 1593.61L318.99 1594.34L319.29 1595.04L319.69 1595.7L320.16 1596.35L320.67 1596.97L321.2 1597.6L321.84 1598.22L322.63 1598.81L323.49 1599.37L324.39 1599.91L325.27 1600.45L326.09 1601L326.8 1601.54L327.36 1602.11L327.84 1602.71L328.28 1603.3L328.66 1603.88L328.97 1604.46L329.21 1605.08L329.4 1605.74L329.52 1606.49L329.57 1607.31L329.49 1608.27L329.24 1609.42L328.87 1610.73L328.45 1612.12L328.03 1613.55L327.68 1614.96L327.46 1616.34L327.48 1617.64L327.73 1618.8L328.13 1619.82L328.66 1620.74L329.28 1621.57L329.96 1622.32L330.68 1623L331.42 1623.64L332.2 1624.31L333.13 1624.95L334.17 1625.47L335.22 1625.86L336.24 1626.21L337.21 1626.56L338.1 1626.96L338.89 1627.43L339.62 1628.04L340.43 1628.88L341.33 1629.91L342.24 1631.04L343.09 1632.23L343.83 1633.43L344.4 1634.59L344.76 1635.63L344.87 1636.51L344.76 1637.38L344.43 1638.41L343.9 1639.52L343.2 1640.64L342.39 1641.72L341.51 1642.69L340.64 1643.5L339.87 1644.07L339.11 1644.43L338.12 1644.65L336.96 1644.76L335.72 1644.77L334.47 1644.72L333.31 1644.64L332.28 1644.57L331.5 1644.57Z" fill="#4D8EC6"/><path d="M244 1642.8C244.3 1639.2 244.63 1632.47 246.8 1628.8C248.97 1625.13 253.47 1622.33 257 1620.8C260.53 1619.27 261.88 1618.88 268 1619.6C274.12 1620.32 285.82 1623.13 293.7 1625.1C301.58 1627.07 309.8 1629.42 315.3 1631.4C320.8 1633.38 323.97 1634.77 326.7 1637C329.43 1639.23 331.15 1642 331.7 1644.8C332.25 1647.6 331.37 1651.1 330 1653.8C328.63 1656.5 327.87 1659.73 323.5 1661C319.13 1662.27 310.45 1661.15 303.8 1661.4C297.15 1661.65 289.93 1662.12 283.6 1662.5C277.27 1662.88 271.32 1664.35 265.8 1663.7C260.28 1663.05 253.97 1660.82 250.5 1658.6C247.03 1656.38 246.08 1653.03 245 1650.4C243.92 1647.77 243.7 1646.4 244 1642.8Z" fill="#8ACFEC" stroke="#4D8EC6" stroke-width="2.8"/>
<path d="M610.99 1648.8L611.65 1648.8L612.56 1648.86L613.73 1648.94L615.04 1649L616.44 1648.98L617.87 1648.84L619.27 1648.51L620.55 1647.92L621.66 1647.1L622.71 1646.13L623.72 1645.01L624.66 1643.77L625.48 1642.44L626.15 1641.06L626.61 1639.62L626.78 1638.15L626.59 1636.67L626.11 1635.23L625.42 1633.82L624.58 1632.46L623.65 1631.16L622.69 1629.96L621.73 1628.87L620.8 1627.9L619.79 1627.07L618.69 1626.41L617.59 1625.92L616.53 1625.52L615.55 1625.19L614.67 1624.86L613.91 1624.54L613.25 1624.15L612.56 1623.65L611.87 1623.12L611.23 1622.59L610.67 1622.06L610.19 1621.51L609.8 1620.92L609.5 1620.28L609.3 1619.59L609.25 1618.74L609.38 1617.66L609.64 1616.41L609.98 1615.06L610.35 1613.68L610.68 1612.32L610.91 1611.02L610.95 1609.83L610.84 1608.8L610.64 1607.9L610.36 1607.09L610.01 1606.34L609.59 1605.66L609.12 1605.03L608.61 1604.42L608.04 1603.79L607.34 1603.16L606.52 1602.59L605.64 1602.06L604.74 1601.56L603.87 1601.08L603.05 1600.6L602.35 1600.13L601.79 1599.64L601.29 1599.11L600.79 1598.56L600.34 1598.02L599.97 1597.49L599.71 1596.97L599.57 1596.47L599.56 1595.97L599.7 1595.47L600.12 1594.88L600.85 1594.18L601.81 1593.43L602.89 1592.68L603.99 1591.96L605.01 1591.3L605.87 1590.75L606.46 1590.33L606.21 1589.96L605.61 1590.34L604.73 1590.85L603.68 1591.47L602.55 1592.16L601.43 1592.89L600.41 1593.64L599.57 1594.37L599.01 1595.1L598.74 1595.83L598.7 1596.56L598.85 1597.27L599.14 1597.95L599.53 1598.6L599.98 1599.22L600.47 1599.83L600.99 1600.43L601.62 1601.04L602.38 1601.62L603.22 1602.16L604.09 1602.69L604.95 1603.21L605.74 1603.74L606.42 1604.27L606.97 1604.82L607.43 1605.39L607.86 1605.97L608.22 1606.53L608.52 1607.1L608.75 1607.69L608.93 1608.33L609.05 1609.05L609.1 1609.84L609.02 1610.77L608.77 1611.89L608.42 1613.15L608.01 1614.5L607.6 1615.89L607.26 1617.26L607.05 1618.61L607.06 1619.87L607.3 1621L607.69 1622L608.21 1622.9L608.81 1623.7L609.48 1624.43L610.18 1625.09L610.89 1625.72L611.65 1626.37L612.56 1626.99L613.57 1627.5L614.59 1627.88L615.58 1628.22L616.52 1628.56L617.38 1628.94L618.14 1629.4L618.84 1629.99L619.62 1630.8L620.5 1631.79L621.38 1632.89L622.2 1634.04L622.92 1635.2L623.47 1636.32L623.81 1637.33L623.92 1638.17L623.82 1639L623.5 1639.99L622.98 1641.07L622.31 1642.15L621.52 1643.19L620.68 1644.13L619.83 1644.91L619.09 1645.47L618.36 1645.81L617.41 1646.02L616.29 1646.13L615.09 1646.14L613.88 1646.09L612.75 1646.01L611.75 1645.95L611 1645.95Z" fill="#91612F"/><path d="M526.12 1644.27C526.41 1640.78 526.73 1634.25 528.84 1630.69C530.94 1627.13 535.3 1624.42 538.73 1622.93C542.16 1621.44 543.47 1621.07 549.4 1621.77C555.33 1622.46 566.68 1625.19 574.33 1627.1C581.98 1629.01 589.95 1631.29 595.28 1633.21C600.62 1635.14 603.69 1636.48 606.34 1638.64C608.99 1640.81 610.66 1643.49 611.19 1646.21C611.72 1648.93 610.87 1652.32 609.54 1654.94C608.21 1657.56 607.47 1660.7 603.23 1661.92C599 1663.15 590.58 1662.07 584.13 1662.31C577.68 1662.55 570.68 1663.01 564.53 1663.38C558.39 1663.75 552.62 1665.17 547.27 1664.54C541.91 1663.91 535.79 1661.75 532.42 1659.6C529.06 1657.45 528.14 1654.2 527.09 1651.64C526.04 1649.09 525.83 1647.76 526.12 1644.27Z" fill="#C9A75D" stroke="#91612F" stroke-width="2.8"/>
<path d="M756.39 1648.8L757.05 1648.8L757.96 1648.86L759.13 1648.94L760.44 1649L761.84 1648.98L763.27 1648.84L764.67 1648.51L765.95 1647.92L767.06 1647.1L768.11 1646.13L769.12 1645.01L770.06 1643.77L770.88 1642.44L771.55 1641.06L772.01 1639.62L772.18 1638.15L771.99 1636.67L771.51 1635.23L770.82 1633.82L769.98 1632.46L769.05 1631.16L768.09 1629.96L767.13 1628.87L766.2 1627.9L765.19 1627.07L764.09 1626.41L762.99 1625.92L761.93 1625.52L760.95 1625.19L760.07 1624.86L759.31 1624.54L758.65 1624.15L757.96 1623.65L757.27 1623.12L756.63 1622.59L756.07 1622.06L755.59 1621.51L755.2 1620.92L754.9 1620.28L754.7 1619.59L754.65 1618.74L754.78 1617.66L755.04 1616.41L755.38 1615.06L755.75 1613.68L756.08 1612.32L756.31 1611.02L756.35 1609.83L756.24 1608.8L756.04 1607.9L755.76 1607.09L755.41 1606.34L754.99 1605.66L754.52 1605.03L754.01 1604.42L753.44 1603.79L752.74 1603.16L751.92 1602.59L751.04 1602.06L750.14 1601.56L749.27 1601.08L748.45 1600.6L747.75 1600.13L747.19 1599.64L746.69 1599.11L746.19 1598.56L745.74 1598.02L745.37 1597.49L745.11 1596.97L744.97 1596.47L744.96 1595.97L745.1 1595.47L745.52 1594.88L746.25 1594.18L747.21 1593.43L748.29 1592.68L749.39 1591.96L750.41 1591.3L751.27 1590.75L751.86 1590.33L751.61 1589.96L751.01 1590.34L750.13 1590.85L749.08 1591.47L747.95 1592.16L746.83 1592.89L745.81 1593.64L744.97 1594.37L744.41 1595.1L744.14 1595.83L744.1 1596.56L744.25 1597.27L744.54 1597.95L744.93 1598.6L745.38 1599.22L745.87 1599.83L746.39 1600.43L747.02 1601.04L747.78 1601.62L748.62 1602.16L749.49 1602.69L750.35 1603.21L751.14 1603.74L751.82 1604.27L752.37 1604.82L752.83 1605.39L753.26 1605.97L753.62 1606.53L753.92 1607.1L754.15 1607.69L754.33 1608.33L754.45 1609.05L754.5 1609.84L754.42 1610.77L754.17 1611.89L753.82 1613.15L753.41 1614.5L753 1615.89L752.66 1617.26L752.45 1618.61L752.46 1619.87L752.7 1621L753.09 1622L753.61 1622.9L754.21 1623.7L754.88 1624.43L755.58 1625.09L756.29 1625.72L757.05 1626.37L757.96 1626.99L758.97 1627.5L759.99 1627.88L760.98 1628.22L761.92 1628.56L762.78 1628.94L763.54 1629.4L764.24 1629.99L765.02 1630.8L765.9 1631.79L766.78 1632.89L767.6 1634.04L768.32 1635.2L768.87 1636.32L769.21 1637.33L769.32 1638.17L769.22 1639L768.9 1639.99L768.38 1641.07L767.71 1642.15L766.92 1643.19L766.08 1644.13L765.23 1644.91L764.49 1645.47L763.76 1645.81L762.81 1646.02L761.69 1646.13L760.49 1646.14L759.28 1646.09L758.15 1646.01L757.15 1645.95L756.4 1645.95Z" fill="#91612F"/><path d="M671.52 1644.27C671.81 1640.78 672.13 1634.25 674.24 1630.69C676.34 1627.13 680.7 1624.42 684.13 1622.93C687.56 1621.44 688.87 1621.07 694.8 1621.77C700.73 1622.46 712.08 1625.19 719.73 1627.1C727.38 1629.01 735.35 1631.29 740.68 1633.21C746.02 1635.14 749.09 1636.48 751.74 1638.64C754.39 1640.81 756.06 1643.49 756.59 1646.21C757.12 1648.93 756.27 1652.32 754.94 1654.94C753.61 1657.56 752.87 1660.7 748.63 1661.92C744.4 1663.15 735.98 1662.07 729.53 1662.31C723.08 1662.55 716.08 1663.01 709.93 1663.38C703.79 1663.75 698.02 1665.17 692.67 1664.54C687.31 1663.91 681.19 1661.75 677.83 1659.6C674.46 1657.45 673.54 1654.2 672.49 1651.64C671.44 1649.09 671.23 1647.76 671.52 1644.27Z" fill="#C9A75D" stroke="#91612F" stroke-width="2.8"/>
<path d="M1843.02 1647.16L1843.69 1647.17L1844.6 1647.22L1845.68 1647.3L1846.88 1647.35L1848.11 1647.34L1849.32 1647.22L1850.44 1646.96L1851.39 1646.52L1852.27 1645.87L1853.17 1645.04L1854.05 1644.06L1854.87 1642.98L1855.58 1641.83L1856.14 1640.67L1856.5 1639.52L1856.64 1638.42L1856.49 1637.33L1856.1 1636.16L1855.51 1634.96L1854.78 1633.77L1853.95 1632.61L1853.07 1631.52L1852.2 1630.53L1851.39 1629.68" fill="none" stroke="#8E5A2B" stroke-width="2.56" stroke-dasharray="6 4"/><path d="M1851.39 1629.68L1850.58 1629.01L1849.7 1628.48L1848.77 1628.07L1847.82 1627.72L1846.88 1627.4L1845.98 1627.06L1845.15 1626.67L1844.4 1626.19L1843.71 1625.64L1843.05 1625.1L1842.41 1624.53L1841.83 1623.93L1841.32 1623.29L1840.89 1622.59L1840.56 1621.81L1840.35 1620.94L1840.32 1619.94L1840.48 1618.79L1840.76 1617.55L1841.12 1616.25L1841.49 1614.96L1841.82 1613.71L1842.04 1612.56L1842.1 1611.56L1842.02 1610.7L1841.87 1609.93" fill="none" stroke="#8E5A2B" stroke-width="1.62" stroke-dasharray="5.5 4"/><path d="M1841.87 1609.93L1841.66 1609.24L1841.38 1608.6L1841.04 1608.01L1840.64 1607.45L1840.2 1606.89L1839.71 1606.32L1839.12 1605.76L1838.41 1605.23L1837.61 1604.73L1836.78 1604.25L1835.95 1603.77L1835.17 1603.28L1834.47 1602.79L1833.91 1602.27L1833.43 1601.73L1832.96 1601.18L1832.53 1600.63L1832.17 1600.07L1831.91 1599.5L1831.77 1598.92L1831.79 1598.34L1831.98 1597.76L1832.44 1597.13L1833.19 1596.45L1834.13 1595.74L1835.17 1595.04L1836.23 1594.37L1837.21 1593.77L1838.03 1593.26L1838.6 1592.88" fill="none" stroke="#8E5A2B" stroke-width="0.89" stroke-dasharray="5 4"/><path d="M1762.52 1644.22C1762.8 1640.91 1763.18 1634.65 1765.1 1631.34C1767.01 1628.03 1770.77 1625.73 1774.02 1624.35C1777.27 1622.97 1778.9 1622.66 1784.6 1623.06C1790.3 1623.46 1801.04 1625.39 1808.24 1626.74C1815.45 1628.09 1822.86 1629.71 1827.84 1631.16C1832.82 1632.6 1835.49 1633.44 1838.14 1635.39C1840.8 1637.34 1842.9 1640.06 1843.76 1642.84C1844.61 1645.62 1844.34 1649.11 1843.3 1652.04C1842.25 1654.97 1841.79 1658.71 1837.5 1660.41C1833.21 1662.11 1823.96 1661.84 1817.54 1662.25C1811.11 1662.67 1804.78 1662.7 1798.95 1662.9C1793.13 1663.1 1787.65 1664.14 1782.58 1663.45C1777.5 1662.76 1771.69 1660.8 1768.5 1658.76C1765.31 1656.72 1764.44 1653.63 1763.44 1651.21C1762.44 1648.79 1762.24 1647.53 1762.52 1644.22Z" fill="#FFFFFF" stroke="#8E5A2B" stroke-width="2.7" stroke-dasharray="6 4"/>
<path d="M1976.02 1647.16L1976.69 1647.17L1977.6 1647.22L1978.68 1647.3L1979.88 1647.35L1981.11 1647.34L1982.32 1647.22L1983.44 1646.96L1984.39 1646.52L1985.27 1645.87L1986.17 1645.04L1987.05 1644.06L1987.87 1642.98L1988.58 1641.83L1989.14 1640.67L1989.5 1639.52L1989.64 1638.42L1989.49 1637.33L1989.1 1636.16L1988.51 1634.96L1987.78 1633.77L1986.95 1632.61L1986.07 1631.52L1985.2 1630.53L1984.39 1629.68" fill="none" stroke="#8E5A2B" stroke-width="2.56" stroke-dasharray="6 4"/><path d="M1984.39 1629.68L1983.58 1629.01L1982.7 1628.48L1981.77 1628.07L1980.82 1627.72L1979.88 1627.4L1978.98 1627.06L1978.15 1626.67L1977.4 1626.19L1976.71 1625.64L1976.05 1625.1L1975.41 1624.53L1974.83 1623.93L1974.32 1623.29L1973.89 1622.59L1973.56 1621.81L1973.35 1620.94L1973.32 1619.94L1973.48 1618.79L1973.76 1617.55L1974.12 1616.25L1974.49 1614.96L1974.82 1613.71L1975.04 1612.56L1975.1 1611.56L1975.02 1610.7L1974.87 1609.93" fill="none" stroke="#8E5A2B" stroke-width="1.62" stroke-dasharray="5.5 4"/><path d="M1974.87 1609.93L1974.66 1609.24L1974.38 1608.6L1974.04 1608.01L1973.64 1607.45L1973.2 1606.89L1972.71 1606.32L1972.12 1605.76L1971.41 1605.23L1970.61 1604.73L1969.78 1604.25L1968.95 1603.77L1968.17 1603.28L1967.47 1602.79L1966.91 1602.27L1966.43 1601.73L1965.96 1601.18L1965.53 1600.63L1965.17 1600.07L1964.91 1599.5L1964.77 1598.92L1964.79 1598.34L1964.98 1597.76L1965.44 1597.13L1966.19 1596.45L1967.13 1595.74L1968.17 1595.04L1969.23 1594.37L1970.21 1593.77L1971.03 1593.26L1971.6 1592.88" fill="none" stroke="#8E5A2B" stroke-width="0.89" stroke-dasharray="5 4"/><path d="M1895.52 1644.22C1895.8 1640.91 1896.18 1634.65 1898.1 1631.34C1900.01 1628.03 1903.77 1625.73 1907.02 1624.35C1910.27 1622.97 1911.9 1622.66 1917.6 1623.06C1923.3 1623.46 1934.04 1625.39 1941.24 1626.74C1948.45 1628.09 1955.86 1629.71 1960.84 1631.16C1965.82 1632.6 1968.49 1633.44 1971.14 1635.39C1973.8 1637.34 1975.9 1640.06 1976.76 1642.84C1977.61 1645.62 1977.34 1649.11 1976.3 1652.04C1975.25 1654.97 1974.79 1658.71 1970.5 1660.41C1966.21 1662.11 1956.96 1661.84 1950.54 1662.25C1944.11 1662.67 1937.78 1662.7 1931.95 1662.9C1926.13 1663.1 1920.65 1664.14 1915.58 1663.45C1910.5 1662.76 1904.69 1660.8 1901.5 1658.76C1898.31 1656.72 1897.44 1653.63 1896.44 1651.21C1895.44 1648.79 1895.24 1647.53 1895.52 1644.22Z" fill="#FFFFFF" stroke="#8E5A2B" stroke-width="2.7" stroke-dasharray="6 4"/>
<use href="#ph" transform="translate(988 1590) scale(0.86)"/>
<use href="#ph" transform="translate(1042.8 1571.7) scale(0.86)"/>
<use href="#ph" transform="translate(1095.4 1593) scale(0.86)"/>
<circle cx="1321.5" cy="1648.5" r="21.3" fill="#9AD0B5" stroke="#45AE82" stroke-width="3.2"/>
<circle cx="1383.5" cy="1648.5" r="21.3" fill="#9AD0B5" stroke="#45AE82" stroke-width="3.2"/>
<circle cx="1445.5" cy="1648.5" r="21.3" fill="#8ACFEC" stroke="#4D8EC6" stroke-width="3.2"/>
<circle cx="1507.5" cy="1648.5" r="21.3" fill="#8ACFEC" stroke="#4D8EC6" stroke-width="3.2"/>
<text x="226.5" y="1744" font-size="38.3" font-weight="bold" text-anchor="middle">Probiotic bacteria</text>
<text x="466" y="1744" font-size="38.4" font-weight="bold">Invasive <tspan font-style="italic">Salmonella</tspan></text>
<text x="1042" y="1744" font-size="38.3" font-weight="bold" text-anchor="middle">Phages</text>
<text x="1414.5" y="1744" font-size="38.3" font-weight="bold" text-anchor="middle">Prebiotic substances</text>
<text x="1877.5" y="1744" font-size="38.3" font-weight="bold" text-anchor="middle">Lysed pathogens</text>
<text x="-1" y="802.5" font-size="50" font-weight="bold" style="fill:#000">d</text>
</svg>
</body></html>
